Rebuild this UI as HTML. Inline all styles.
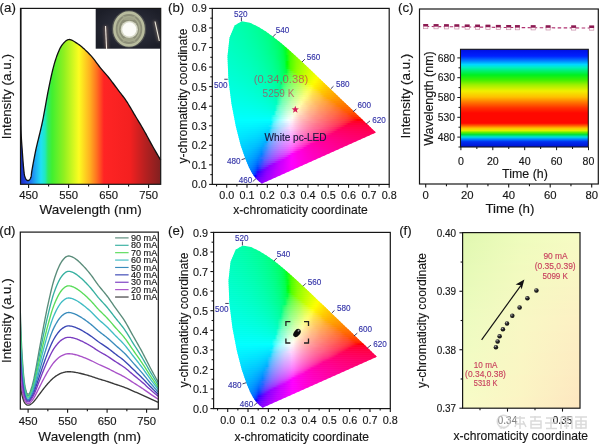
<!DOCTYPE html>
<html><head><meta charset="utf-8"><title>figure</title>
<style>html,body{margin:0;padding:0;background:#fff;width:600px;height:446px;overflow:hidden}svg{display:block;will-change:transform}text{font-family:"Liberation Sans",sans-serif}</style>
</head><body>
<svg width="600" height="446" viewBox="0 0 600 446" font-family="'Liberation Sans', sans-serif"><defs><linearGradient id="gA" x1="20.5" x2="160.7" y1="0" y2="0" gradientUnits="userSpaceOnUse">
<stop offset="0" stop-color="#1830b8"/><stop offset="0.032" stop-color="#2040e0"/><stop offset="0.068" stop-color="#2070f0"/>
<stop offset="0.11" stop-color="#20b0f4"/><stop offset="0.146" stop-color="#20e0f4"/><stop offset="0.175" stop-color="#20e8c0"/>
<stop offset="0.196" stop-color="#30ec60"/><stop offset="0.225" stop-color="#40f030"/><stop offset="0.31" stop-color="#90f020"/>
<stop offset="0.417" stop-color="#fcfc20"/><stop offset="0.495" stop-color="#ffb020"/><stop offset="0.545" stop-color="#ff7020"/>
<stop offset="0.595" stop-color="#ff2424"/><stop offset="0.78" stop-color="#f42020"/><stop offset="0.886" stop-color="#b82020"/>
<stop offset="1" stop-color="#802020"/></linearGradient>
<filter id="blr1" x="-20%" y="-20%" width="140%" height="140%"><feGaussianBlur stdDeviation="0.7"/></filter>
<filter id="blr2" x="-50%" y="-50%" width="200%" height="200%"><feGaussianBlur stdDeviation="1.6"/></filter>
<radialGradient id="gBg" cx="0.52" cy="0.5" r="0.6"><stop offset="0" stop-color="#3a3c46"/><stop offset="0.5" stop-color="#282a36"/><stop offset="1" stop-color="#1c1e28"/></radialGradient>
<clipPath id="clipD"><rect x="20.3" y="232" width="138" height="177"/></clipPath>
<clipPath id="cieclip"><path d="M262.06,183.42 L261.9,183.46 L261.52,183.4 L261.01,183.05 L260.09,182.27 L258.51,180.94 L257.37,179.96 L255.95,178.59 L254.22,176.6 L251.91,173.1 L248.96,167.43 L245.25,158.45 L240.65,145.15 L235.92,126.71 L231.47,103.69 L228.37,79.11 L227.49,56.35 L229.52,37.69 L234.6,25.61 L241.79,21.35 L249.9,22.83 L258.12,26.8 L265.88,31.55 L273.34,36.89 L280.69,42.76 L287.96,49.02 L295.21,55.55 L302.49,62.28 L309.72,69.1 L316.91,75.93 L323.96,82.67 L330.8,89.24 L337.36,95.54 L343.54,101.45 L349.16,106.86 L354.06,111.56 L358.37,115.68 L361.94,119.08 L364.85,121.88 L367.16,124.11 L370.49,127.3 L372.75,129.47 L374.17,130.82 L374.98,131.6 L375.67,132.26 L375.94,132.52 Z"/></clipPath>
<linearGradient id="r0" x1="232" x2="261" y1="0" y2="0" gradientUnits="userSpaceOnUse"><stop offset="0" stop-color="#00ffb2"/><stop offset="0.11" stop-color="#00ffaf"/><stop offset="0.22" stop-color="#00ffac"/><stop offset="0.33" stop-color="#00ffa9"/><stop offset="0.44" stop-color="#00ffa5"/><stop offset="0.56" stop-color="#00ffa2"/><stop offset="0.67" stop-color="#00ff9d"/><stop offset="0.78" stop-color="#00ff99"/><stop offset="0.89" stop-color="#00ff93"/><stop offset="1" stop-color="#00ff8e"/></linearGradient>
<linearGradient id="r1" x1="232" x2="261" y1="0" y2="0" gradientUnits="userSpaceOnUse"><stop offset="0" stop-color="#00ffb3"/><stop offset="0.11" stop-color="#00ffb0"/><stop offset="0.22" stop-color="#00ffad"/><stop offset="0.33" stop-color="#00ffaa"/><stop offset="0.44" stop-color="#00ffa7"/><stop offset="0.56" stop-color="#00ffa3"/><stop offset="0.67" stop-color="#00ff9e"/><stop offset="0.78" stop-color="#00ff9a"/><stop offset="0.89" stop-color="#00ff95"/><stop offset="1" stop-color="#00ff8f"/></linearGradient>
<linearGradient id="r2" x1="227" x2="268" y1="0" y2="0" gradientUnits="userSpaceOnUse"><stop offset="0" stop-color="#00ffb8"/><stop offset="0.08" stop-color="#00ffb5"/><stop offset="0.15" stop-color="#00ffb3"/><stop offset="0.23" stop-color="#00ffb0"/><stop offset="0.31" stop-color="#00ffad"/><stop offset="0.38" stop-color="#00ffaa"/><stop offset="0.46" stop-color="#00ffa6"/><stop offset="0.54" stop-color="#00ffa3"/><stop offset="0.62" stop-color="#00ff9e"/><stop offset="0.69" stop-color="#00ff9a"/><stop offset="0.77" stop-color="#00ff94"/><stop offset="0.85" stop-color="#00ff8f"/><stop offset="0.92" stop-color="#00ff88"/><stop offset="1" stop-color="#00ff80"/></linearGradient>
<linearGradient id="r3" x1="227" x2="268" y1="0" y2="0" gradientUnits="userSpaceOnUse"><stop offset="0" stop-color="#00ffb9"/><stop offset="0.08" stop-color="#00ffb6"/><stop offset="0.15" stop-color="#00ffb4"/><stop offset="0.23" stop-color="#00ffb1"/><stop offset="0.31" stop-color="#00ffae"/><stop offset="0.38" stop-color="#00ffab"/><stop offset="0.46" stop-color="#00ffa8"/><stop offset="0.54" stop-color="#00ffa4"/><stop offset="0.62" stop-color="#00ff9f"/><stop offset="0.69" stop-color="#00ff9b"/><stop offset="0.77" stop-color="#00ff96"/><stop offset="0.85" stop-color="#00ff90"/><stop offset="0.92" stop-color="#00ff89"/><stop offset="1" stop-color="#00ff81"/></linearGradient>
<linearGradient id="r4" x1="227" x2="268" y1="0" y2="0" gradientUnits="userSpaceOnUse"><stop offset="0" stop-color="#00ffba"/><stop offset="0.08" stop-color="#00ffb7"/><stop offset="0.15" stop-color="#00ffb5"/><stop offset="0.23" stop-color="#00ffb2"/><stop offset="0.31" stop-color="#00ffaf"/><stop offset="0.38" stop-color="#00ffac"/><stop offset="0.46" stop-color="#00ffa9"/><stop offset="0.54" stop-color="#00ffa5"/><stop offset="0.62" stop-color="#00ffa1"/><stop offset="0.69" stop-color="#00ff9c"/><stop offset="0.77" stop-color="#00ff97"/><stop offset="0.85" stop-color="#00ff91"/><stop offset="0.92" stop-color="#00ff8a"/><stop offset="1" stop-color="#00ff83"/></linearGradient>
<linearGradient id="r5" x1="227" x2="276" y1="0" y2="0" gradientUnits="userSpaceOnUse"><stop offset="0" stop-color="#00ffbb"/><stop offset="0.06" stop-color="#00ffb9"/><stop offset="0.12" stop-color="#00ffb6"/><stop offset="0.19" stop-color="#00ffb4"/><stop offset="0.25" stop-color="#00ffb1"/><stop offset="0.31" stop-color="#00ffae"/><stop offset="0.38" stop-color="#00ffaa"/><stop offset="0.44" stop-color="#00ffa7"/><stop offset="0.5" stop-color="#00ffa3"/><stop offset="0.56" stop-color="#00ff9e"/><stop offset="0.62" stop-color="#00ff9a"/><stop offset="0.69" stop-color="#00ff94"/><stop offset="0.75" stop-color="#00ff8e"/><stop offset="0.81" stop-color="#00ff87"/><stop offset="0.88" stop-color="#00ff7f"/><stop offset="0.94" stop-color="#00ff75"/><stop offset="1" stop-color="#00ff69"/></linearGradient>
<linearGradient id="r6" x1="227" x2="276" y1="0" y2="0" gradientUnits="userSpaceOnUse"><stop offset="0" stop-color="#00ffbc"/><stop offset="0.06" stop-color="#00ffba"/><stop offset="0.12" stop-color="#00ffb7"/><stop offset="0.19" stop-color="#00ffb5"/><stop offset="0.25" stop-color="#00ffb2"/><stop offset="0.31" stop-color="#00ffaf"/><stop offset="0.38" stop-color="#00ffac"/><stop offset="0.44" stop-color="#00ffa8"/><stop offset="0.5" stop-color="#00ffa4"/><stop offset="0.56" stop-color="#00ffa0"/><stop offset="0.62" stop-color="#00ff9b"/><stop offset="0.69" stop-color="#00ff95"/><stop offset="0.75" stop-color="#00ff8f"/><stop offset="0.81" stop-color="#00ff88"/><stop offset="0.88" stop-color="#00ff80"/><stop offset="0.94" stop-color="#00ff77"/><stop offset="1" stop-color="#00ff6b"/></linearGradient>
<linearGradient id="r7" x1="227" x2="283" y1="0" y2="0" gradientUnits="userSpaceOnUse"><stop offset="0" stop-color="#00ffbd"/><stop offset="0.06" stop-color="#00ffbb"/><stop offset="0.11" stop-color="#00ffb8"/><stop offset="0.17" stop-color="#00ffb6"/><stop offset="0.22" stop-color="#00ffb3"/><stop offset="0.28" stop-color="#00ffb0"/><stop offset="0.33" stop-color="#00ffac"/><stop offset="0.39" stop-color="#00ffa9"/><stop offset="0.44" stop-color="#00ffa5"/><stop offset="0.5" stop-color="#00ffa0"/><stop offset="0.56" stop-color="#00ff9b"/><stop offset="0.61" stop-color="#00ff96"/><stop offset="0.67" stop-color="#00ff8f"/><stop offset="0.72" stop-color="#00ff88"/><stop offset="0.78" stop-color="#00ff80"/><stop offset="0.83" stop-color="#00ff75"/><stop offset="0.89" stop-color="#00ff69"/><stop offset="0.94" stop-color="#00ff58"/><stop offset="1" stop-color="#00ff40"/></linearGradient>
<linearGradient id="r8" x1="226" x2="283" y1="0" y2="0" gradientUnits="userSpaceOnUse"><stop offset="0" stop-color="#00ffbf"/><stop offset="0.05" stop-color="#00ffbd"/><stop offset="0.11" stop-color="#00ffba"/><stop offset="0.16" stop-color="#00ffb8"/><stop offset="0.21" stop-color="#00ffb5"/><stop offset="0.26" stop-color="#00ffb2"/><stop offset="0.32" stop-color="#00ffaf"/><stop offset="0.37" stop-color="#00ffac"/><stop offset="0.42" stop-color="#00ffa8"/><stop offset="0.47" stop-color="#00ffa4"/><stop offset="0.53" stop-color="#00ffa0"/><stop offset="0.58" stop-color="#00ff9b"/><stop offset="0.63" stop-color="#00ff96"/><stop offset="0.68" stop-color="#00ff8f"/><stop offset="0.74" stop-color="#00ff88"/><stop offset="0.79" stop-color="#00ff80"/><stop offset="0.84" stop-color="#00ff76"/><stop offset="0.89" stop-color="#00ff69"/><stop offset="0.95" stop-color="#00ff59"/><stop offset="1" stop-color="#00ff42"/></linearGradient>
<linearGradient id="r9" x1="226" x2="283" y1="0" y2="0" gradientUnits="userSpaceOnUse"><stop offset="0" stop-color="#00ffc0"/><stop offset="0.05" stop-color="#00ffbe"/><stop offset="0.11" stop-color="#00ffbb"/><stop offset="0.16" stop-color="#00ffb9"/><stop offset="0.21" stop-color="#00ffb6"/><stop offset="0.26" stop-color="#00ffb4"/><stop offset="0.32" stop-color="#00ffb1"/><stop offset="0.37" stop-color="#00ffad"/><stop offset="0.42" stop-color="#00ffaa"/><stop offset="0.47" stop-color="#00ffa6"/><stop offset="0.53" stop-color="#00ffa1"/><stop offset="0.58" stop-color="#00ff9c"/><stop offset="0.63" stop-color="#00ff97"/><stop offset="0.68" stop-color="#00ff91"/><stop offset="0.74" stop-color="#00ff89"/><stop offset="0.79" stop-color="#00ff81"/><stop offset="0.84" stop-color="#00ff77"/><stop offset="0.89" stop-color="#00ff6b"/><stop offset="0.95" stop-color="#00ff5b"/><stop offset="1" stop-color="#00ff44"/></linearGradient>
<linearGradient id="r10" x1="226" x2="290" y1="0" y2="0" gradientUnits="userSpaceOnUse"><stop offset="0" stop-color="#00ffc1"/><stop offset="0.05" stop-color="#00ffbf"/><stop offset="0.1" stop-color="#00ffbd"/><stop offset="0.14" stop-color="#00ffba"/><stop offset="0.19" stop-color="#00ffb7"/><stop offset="0.24" stop-color="#00ffb5"/><stop offset="0.29" stop-color="#00ffb2"/><stop offset="0.33" stop-color="#00ffae"/><stop offset="0.38" stop-color="#00ffab"/><stop offset="0.43" stop-color="#00ffa6"/><stop offset="0.48" stop-color="#00ffa2"/><stop offset="0.52" stop-color="#00ff9d"/><stop offset="0.57" stop-color="#00ff97"/><stop offset="0.62" stop-color="#00ff91"/><stop offset="0.67" stop-color="#00ff89"/><stop offset="0.71" stop-color="#00ff80"/><stop offset="0.76" stop-color="#00ff76"/><stop offset="0.81" stop-color="#00ff68"/><stop offset="0.86" stop-color="#00ff57"/><stop offset="0.9" stop-color="#00ff3c"/><stop offset="0.95" stop-color="#1aff00"/><stop offset="1" stop-color="#4aff00"/></linearGradient>
<linearGradient id="r11" x1="226" x2="290" y1="0" y2="0" gradientUnits="userSpaceOnUse"><stop offset="0" stop-color="#00ffc2"/><stop offset="0.05" stop-color="#00ffc0"/><stop offset="0.1" stop-color="#00ffbe"/><stop offset="0.14" stop-color="#00ffbb"/><stop offset="0.19" stop-color="#00ffb9"/><stop offset="0.24" stop-color="#00ffb6"/><stop offset="0.29" stop-color="#00ffb3"/><stop offset="0.33" stop-color="#00ffaf"/><stop offset="0.38" stop-color="#00ffac"/><stop offset="0.43" stop-color="#00ffa8"/><stop offset="0.48" stop-color="#00ffa3"/><stop offset="0.52" stop-color="#00ff9e"/><stop offset="0.57" stop-color="#00ff99"/><stop offset="0.62" stop-color="#00ff92"/><stop offset="0.67" stop-color="#00ff8b"/><stop offset="0.71" stop-color="#00ff82"/><stop offset="0.76" stop-color="#00ff77"/><stop offset="0.81" stop-color="#00ff6a"/><stop offset="0.86" stop-color="#00ff59"/><stop offset="0.9" stop-color="#00ff3e"/><stop offset="0.95" stop-color="#17ff00"/><stop offset="1" stop-color="#4aff00"/></linearGradient>
<linearGradient id="r12" x1="226" x2="290" y1="0" y2="0" gradientUnits="userSpaceOnUse"><stop offset="0" stop-color="#00ffc3"/><stop offset="0.05" stop-color="#00ffc1"/><stop offset="0.1" stop-color="#00ffbf"/><stop offset="0.14" stop-color="#00ffbc"/><stop offset="0.19" stop-color="#00ffba"/><stop offset="0.24" stop-color="#00ffb7"/><stop offset="0.29" stop-color="#00ffb4"/><stop offset="0.33" stop-color="#00ffb1"/><stop offset="0.38" stop-color="#00ffad"/><stop offset="0.43" stop-color="#00ffa9"/><stop offset="0.48" stop-color="#00ffa5"/><stop offset="0.52" stop-color="#00ffa0"/><stop offset="0.57" stop-color="#00ff9a"/><stop offset="0.62" stop-color="#00ff94"/><stop offset="0.67" stop-color="#00ff8c"/><stop offset="0.71" stop-color="#00ff83"/><stop offset="0.76" stop-color="#00ff79"/><stop offset="0.81" stop-color="#00ff6c"/><stop offset="0.86" stop-color="#00ff5a"/><stop offset="0.9" stop-color="#00ff40"/><stop offset="0.95" stop-color="#14ff00"/><stop offset="1" stop-color="#49ff00"/></linearGradient>
<linearGradient id="r13" x1="226" x2="290" y1="0" y2="0" gradientUnits="userSpaceOnUse"><stop offset="0" stop-color="#00ffc4"/><stop offset="0.05" stop-color="#00ffc2"/><stop offset="0.1" stop-color="#00ffc0"/><stop offset="0.14" stop-color="#00ffbe"/><stop offset="0.19" stop-color="#00ffbb"/><stop offset="0.24" stop-color="#00ffb8"/><stop offset="0.29" stop-color="#00ffb5"/><stop offset="0.33" stop-color="#00ffb2"/><stop offset="0.38" stop-color="#00ffaf"/><stop offset="0.43" stop-color="#00ffab"/><stop offset="0.48" stop-color="#00ffa6"/><stop offset="0.52" stop-color="#00ffa1"/><stop offset="0.57" stop-color="#00ff9c"/><stop offset="0.62" stop-color="#00ff95"/><stop offset="0.67" stop-color="#00ff8e"/><stop offset="0.71" stop-color="#00ff85"/><stop offset="0.76" stop-color="#00ff7a"/><stop offset="0.81" stop-color="#00ff6d"/><stop offset="0.86" stop-color="#00ff5c"/><stop offset="0.9" stop-color="#00ff42"/><stop offset="0.95" stop-color="#10ff00"/><stop offset="1" stop-color="#49ff00"/></linearGradient>
<linearGradient id="r14" x1="226" x2="298" y1="0" y2="0" gradientUnits="userSpaceOnUse"><stop offset="0" stop-color="#00ffc5"/><stop offset="0.04" stop-color="#00ffc3"/><stop offset="0.08" stop-color="#00ffc1"/><stop offset="0.12" stop-color="#00ffbf"/><stop offset="0.17" stop-color="#00ffbd"/><stop offset="0.21" stop-color="#00ffba"/><stop offset="0.25" stop-color="#00ffb7"/><stop offset="0.29" stop-color="#00ffb4"/><stop offset="0.33" stop-color="#00ffb0"/><stop offset="0.38" stop-color="#00ffad"/><stop offset="0.42" stop-color="#00ffa8"/><stop offset="0.46" stop-color="#00ffa4"/><stop offset="0.5" stop-color="#00ff9e"/><stop offset="0.54" stop-color="#00ff98"/><stop offset="0.58" stop-color="#00ff91"/><stop offset="0.62" stop-color="#00ff89"/><stop offset="0.67" stop-color="#00ff7f"/><stop offset="0.71" stop-color="#00ff73"/><stop offset="0.75" stop-color="#00ff63"/><stop offset="0.79" stop-color="#00ff4d"/><stop offset="0.83" stop-color="#00ff23"/><stop offset="0.88" stop-color="#3dff00"/><stop offset="0.92" stop-color="#5dff00"/><stop offset="0.96" stop-color="#73ff00"/><stop offset="1" stop-color="#85ff00"/></linearGradient>
<linearGradient id="r15" x1="226" x2="298" y1="0" y2="0" gradientUnits="userSpaceOnUse"><stop offset="0" stop-color="#00ffc7"/><stop offset="0.04" stop-color="#00ffc5"/><stop offset="0.08" stop-color="#00ffc3"/><stop offset="0.12" stop-color="#00ffc0"/><stop offset="0.17" stop-color="#00ffbe"/><stop offset="0.21" stop-color="#00ffbb"/><stop offset="0.25" stop-color="#00ffb8"/><stop offset="0.29" stop-color="#00ffb5"/><stop offset="0.33" stop-color="#00ffb2"/><stop offset="0.38" stop-color="#00ffae"/><stop offset="0.42" stop-color="#00ffaa"/><stop offset="0.46" stop-color="#00ffa5"/><stop offset="0.5" stop-color="#00ffa0"/><stop offset="0.54" stop-color="#00ff9a"/><stop offset="0.58" stop-color="#00ff93"/><stop offset="0.62" stop-color="#00ff8a"/><stop offset="0.67" stop-color="#00ff81"/><stop offset="0.71" stop-color="#00ff75"/><stop offset="0.75" stop-color="#00ff65"/><stop offset="0.79" stop-color="#00ff4f"/><stop offset="0.83" stop-color="#00ff26"/><stop offset="0.88" stop-color="#3cff00"/><stop offset="0.92" stop-color="#5dff00"/><stop offset="0.96" stop-color="#74ff00"/><stop offset="1" stop-color="#87ff00"/></linearGradient>
<linearGradient id="r16" x1="226" x2="298" y1="0" y2="0" gradientUnits="userSpaceOnUse"><stop offset="0" stop-color="#00ffc8"/><stop offset="0.04" stop-color="#00ffc6"/><stop offset="0.08" stop-color="#00ffc4"/><stop offset="0.12" stop-color="#00ffc2"/><stop offset="0.17" stop-color="#00ffbf"/><stop offset="0.21" stop-color="#00ffbd"/><stop offset="0.25" stop-color="#00ffba"/><stop offset="0.29" stop-color="#00ffb7"/><stop offset="0.33" stop-color="#00ffb3"/><stop offset="0.38" stop-color="#00ffaf"/><stop offset="0.42" stop-color="#00ffab"/><stop offset="0.46" stop-color="#00ffa7"/><stop offset="0.5" stop-color="#00ffa1"/><stop offset="0.54" stop-color="#00ff9b"/><stop offset="0.58" stop-color="#00ff94"/><stop offset="0.62" stop-color="#00ff8c"/><stop offset="0.67" stop-color="#00ff82"/><stop offset="0.71" stop-color="#00ff76"/><stop offset="0.75" stop-color="#00ff67"/><stop offset="0.79" stop-color="#00ff51"/><stop offset="0.83" stop-color="#00ff29"/><stop offset="0.88" stop-color="#3cff00"/><stop offset="0.92" stop-color="#5eff00"/><stop offset="0.96" stop-color="#75ff00"/><stop offset="1" stop-color="#88ff00"/></linearGradient>
<linearGradient id="r17" x1="226" x2="305" y1="0" y2="0" gradientUnits="userSpaceOnUse"><stop offset="0" stop-color="#00ffc9"/><stop offset="0.04" stop-color="#00ffc7"/><stop offset="0.08" stop-color="#00ffc5"/><stop offset="0.12" stop-color="#00ffc3"/><stop offset="0.15" stop-color="#00ffc0"/><stop offset="0.19" stop-color="#00ffbe"/><stop offset="0.23" stop-color="#00ffbb"/><stop offset="0.27" stop-color="#00ffb8"/><stop offset="0.31" stop-color="#00ffb4"/><stop offset="0.35" stop-color="#00ffb0"/><stop offset="0.38" stop-color="#00ffac"/><stop offset="0.42" stop-color="#00ffa7"/><stop offset="0.46" stop-color="#00ffa2"/><stop offset="0.5" stop-color="#00ff9c"/><stop offset="0.54" stop-color="#00ff95"/><stop offset="0.58" stop-color="#00ff8c"/><stop offset="0.62" stop-color="#00ff82"/><stop offset="0.65" stop-color="#00ff75"/><stop offset="0.69" stop-color="#00ff64"/><stop offset="0.73" stop-color="#00ff4c"/><stop offset="0.77" stop-color="#00ff15"/><stop offset="0.81" stop-color="#47ff00"/><stop offset="0.85" stop-color="#66ff00"/><stop offset="0.88" stop-color="#7cff00"/><stop offset="0.92" stop-color="#8eff00"/><stop offset="0.96" stop-color="#9eff00"/><stop offset="1" stop-color="#acff00"/></linearGradient>
<linearGradient id="r18" x1="226" x2="305" y1="0" y2="0" gradientUnits="userSpaceOnUse"><stop offset="0" stop-color="#00ffca"/><stop offset="0.04" stop-color="#00ffc8"/><stop offset="0.08" stop-color="#00ffc6"/><stop offset="0.12" stop-color="#00ffc4"/><stop offset="0.15" stop-color="#00ffc2"/><stop offset="0.19" stop-color="#00ffbf"/><stop offset="0.23" stop-color="#00ffbc"/><stop offset="0.27" stop-color="#00ffb9"/><stop offset="0.31" stop-color="#00ffb6"/><stop offset="0.35" stop-color="#00ffb2"/><stop offset="0.38" stop-color="#00ffae"/><stop offset="0.42" stop-color="#00ffa9"/><stop offset="0.46" stop-color="#00ffa4"/><stop offset="0.5" stop-color="#00ff9e"/><stop offset="0.54" stop-color="#00ff96"/><stop offset="0.58" stop-color="#00ff8e"/><stop offset="0.62" stop-color="#00ff84"/><stop offset="0.65" stop-color="#00ff77"/><stop offset="0.69" stop-color="#00ff66"/><stop offset="0.73" stop-color="#00ff4e"/><stop offset="0.77" stop-color="#00ff1a"/><stop offset="0.81" stop-color="#46ff00"/><stop offset="0.85" stop-color="#66ff00"/><stop offset="0.88" stop-color="#7dff00"/><stop offset="0.92" stop-color="#90ff00"/><stop offset="0.96" stop-color="#a0ff00"/><stop offset="1" stop-color="#aeff00"/></linearGradient>
<linearGradient id="r19" x1="226" x2="305" y1="0" y2="0" gradientUnits="userSpaceOnUse"><stop offset="0" stop-color="#00ffcb"/><stop offset="0.04" stop-color="#00ffca"/><stop offset="0.08" stop-color="#00ffc8"/><stop offset="0.12" stop-color="#00ffc5"/><stop offset="0.15" stop-color="#00ffc3"/><stop offset="0.19" stop-color="#00ffc1"/><stop offset="0.23" stop-color="#00ffbe"/><stop offset="0.27" stop-color="#00ffbb"/><stop offset="0.31" stop-color="#00ffb7"/><stop offset="0.35" stop-color="#00ffb4"/><stop offset="0.38" stop-color="#00ffaf"/><stop offset="0.42" stop-color="#00ffab"/><stop offset="0.46" stop-color="#00ffa5"/><stop offset="0.5" stop-color="#00ff9f"/><stop offset="0.54" stop-color="#00ff98"/><stop offset="0.58" stop-color="#00ff90"/><stop offset="0.62" stop-color="#00ff86"/><stop offset="0.65" stop-color="#00ff79"/><stop offset="0.69" stop-color="#00ff68"/><stop offset="0.73" stop-color="#00ff50"/><stop offset="0.77" stop-color="#00ff1e"/><stop offset="0.81" stop-color="#46ff00"/><stop offset="0.85" stop-color="#67ff00"/><stop offset="0.88" stop-color="#7fff00"/><stop offset="0.92" stop-color="#92ff00"/><stop offset="0.96" stop-color="#a2ff00"/><stop offset="1" stop-color="#b0ff00"/></linearGradient>
<linearGradient id="r20" x1="226" x2="312" y1="0" y2="0" gradientUnits="userSpaceOnUse"><stop offset="0" stop-color="#00ffcd"/><stop offset="0.04" stop-color="#00ffcb"/><stop offset="0.07" stop-color="#00ffc9"/><stop offset="0.11" stop-color="#00ffc7"/><stop offset="0.14" stop-color="#00ffc4"/><stop offset="0.18" stop-color="#00ffc2"/><stop offset="0.21" stop-color="#00ffbf"/><stop offset="0.25" stop-color="#00ffbc"/><stop offset="0.29" stop-color="#00ffb9"/><stop offset="0.32" stop-color="#00ffb5"/><stop offset="0.36" stop-color="#00ffb1"/><stop offset="0.39" stop-color="#00ffac"/><stop offset="0.43" stop-color="#00ffa6"/><stop offset="0.46" stop-color="#00ffa0"/><stop offset="0.5" stop-color="#00ff99"/><stop offset="0.54" stop-color="#00ff90"/><stop offset="0.57" stop-color="#00ff86"/><stop offset="0.61" stop-color="#00ff78"/><stop offset="0.64" stop-color="#00ff66"/><stop offset="0.68" stop-color="#00ff4c"/><stop offset="0.71" stop-color="#03ff00"/><stop offset="0.75" stop-color="#4fff00"/><stop offset="0.79" stop-color="#6eff00"/><stop offset="0.82" stop-color="#85ff00"/><stop offset="0.86" stop-color="#98ff00"/><stop offset="0.89" stop-color="#a8ff00"/><stop offset="0.93" stop-color="#b6ff00"/><stop offset="0.96" stop-color="#c3ff00"/><stop offset="1" stop-color="#cfff00"/></linearGradient>
<linearGradient id="r21" x1="226" x2="312" y1="0" y2="0" gradientUnits="userSpaceOnUse"><stop offset="0" stop-color="#00ffce"/><stop offset="0.04" stop-color="#00ffcc"/><stop offset="0.07" stop-color="#00ffca"/><stop offset="0.11" stop-color="#00ffc8"/><stop offset="0.14" stop-color="#00ffc6"/><stop offset="0.18" stop-color="#00ffc3"/><stop offset="0.21" stop-color="#00ffc1"/><stop offset="0.25" stop-color="#00ffbe"/><stop offset="0.29" stop-color="#00ffba"/><stop offset="0.32" stop-color="#00ffb6"/><stop offset="0.36" stop-color="#00ffb2"/><stop offset="0.39" stop-color="#00ffae"/><stop offset="0.43" stop-color="#00ffa8"/><stop offset="0.46" stop-color="#00ffa2"/><stop offset="0.5" stop-color="#00ff9b"/><stop offset="0.54" stop-color="#00ff92"/><stop offset="0.57" stop-color="#00ff88"/><stop offset="0.61" stop-color="#00ff7a"/><stop offset="0.64" stop-color="#00ff69"/><stop offset="0.68" stop-color="#00ff4e"/><stop offset="0.71" stop-color="#00ff05"/><stop offset="0.75" stop-color="#50ff00"/><stop offset="0.79" stop-color="#6fff00"/><stop offset="0.82" stop-color="#87ff00"/><stop offset="0.86" stop-color="#9aff00"/><stop offset="0.89" stop-color="#aaff00"/><stop offset="0.93" stop-color="#b9ff00"/><stop offset="0.96" stop-color="#c6ff00"/><stop offset="1" stop-color="#d2ff00"/></linearGradient>
<linearGradient id="r22" x1="226" x2="312" y1="0" y2="0" gradientUnits="userSpaceOnUse"><stop offset="0" stop-color="#00ffcf"/><stop offset="0.04" stop-color="#00ffce"/><stop offset="0.07" stop-color="#00ffcc"/><stop offset="0.11" stop-color="#00ffca"/><stop offset="0.14" stop-color="#00ffc7"/><stop offset="0.18" stop-color="#00ffc5"/><stop offset="0.21" stop-color="#00ffc2"/><stop offset="0.25" stop-color="#00ffbf"/><stop offset="0.29" stop-color="#00ffbc"/><stop offset="0.32" stop-color="#00ffb8"/><stop offset="0.36" stop-color="#00ffb4"/><stop offset="0.39" stop-color="#00ffaf"/><stop offset="0.43" stop-color="#00ffaa"/><stop offset="0.46" stop-color="#00ffa4"/><stop offset="0.5" stop-color="#00ff9d"/><stop offset="0.54" stop-color="#00ff94"/><stop offset="0.57" stop-color="#00ff8a"/><stop offset="0.61" stop-color="#00ff7d"/><stop offset="0.64" stop-color="#00ff6b"/><stop offset="0.68" stop-color="#00ff50"/><stop offset="0.71" stop-color="#00ff0e"/><stop offset="0.75" stop-color="#50ff00"/><stop offset="0.79" stop-color="#70ff00"/><stop offset="0.82" stop-color="#88ff00"/><stop offset="0.86" stop-color="#9cff00"/><stop offset="0.89" stop-color="#acff00"/><stop offset="0.93" stop-color="#bbff00"/><stop offset="0.96" stop-color="#c9ff00"/><stop offset="1" stop-color="#d5ff00"/></linearGradient>
<linearGradient id="r23" x1="226" x2="312" y1="0" y2="0" gradientUnits="userSpaceOnUse"><stop offset="0" stop-color="#00ffd1"/><stop offset="0.04" stop-color="#00ffcf"/><stop offset="0.07" stop-color="#00ffcd"/><stop offset="0.11" stop-color="#00ffcb"/><stop offset="0.14" stop-color="#00ffc9"/><stop offset="0.18" stop-color="#00ffc6"/><stop offset="0.21" stop-color="#00ffc4"/><stop offset="0.25" stop-color="#00ffc1"/><stop offset="0.29" stop-color="#00ffbe"/><stop offset="0.32" stop-color="#00ffba"/><stop offset="0.36" stop-color="#00ffb6"/><stop offset="0.39" stop-color="#00ffb1"/><stop offset="0.43" stop-color="#00ffac"/><stop offset="0.46" stop-color="#00ffa6"/><stop offset="0.5" stop-color="#00ff9f"/><stop offset="0.54" stop-color="#00ff96"/><stop offset="0.57" stop-color="#00ff8c"/><stop offset="0.61" stop-color="#00ff7f"/><stop offset="0.64" stop-color="#00ff6d"/><stop offset="0.68" stop-color="#00ff53"/><stop offset="0.71" stop-color="#04ff17"/><stop offset="0.75" stop-color="#50ff00"/><stop offset="0.79" stop-color="#72ff00"/><stop offset="0.82" stop-color="#8aff00"/><stop offset="0.86" stop-color="#9eff00"/><stop offset="0.89" stop-color="#afff00"/><stop offset="0.93" stop-color="#beff00"/><stop offset="0.96" stop-color="#ccff00"/><stop offset="1" stop-color="#d8ff00"/></linearGradient>
<linearGradient id="r24" x1="226" x2="319" y1="0" y2="0" gradientUnits="userSpaceOnUse"><stop offset="0" stop-color="#00ffd2"/><stop offset="0.03" stop-color="#00ffd0"/><stop offset="0.06" stop-color="#00ffcf"/><stop offset="0.1" stop-color="#00ffcd"/><stop offset="0.13" stop-color="#00ffca"/><stop offset="0.16" stop-color="#00ffc8"/><stop offset="0.19" stop-color="#00ffc6"/><stop offset="0.23" stop-color="#00ffc3"/><stop offset="0.26" stop-color="#00ffc0"/><stop offset="0.29" stop-color="#00ffbc"/><stop offset="0.32" stop-color="#00ffb9"/><stop offset="0.35" stop-color="#00ffb4"/><stop offset="0.39" stop-color="#00ffaf"/><stop offset="0.42" stop-color="#00ffaa"/><stop offset="0.45" stop-color="#00ffa3"/><stop offset="0.48" stop-color="#00ff9c"/><stop offset="0.52" stop-color="#00ff92"/><stop offset="0.55" stop-color="#00ff87"/><stop offset="0.58" stop-color="#00ff78"/><stop offset="0.61" stop-color="#00ff62"/><stop offset="0.65" stop-color="#00ff3f"/><stop offset="0.68" stop-color="#40ff21"/><stop offset="0.71" stop-color="#63ff00"/><stop offset="0.74" stop-color="#7fff00"/><stop offset="0.77" stop-color="#95ff00"/><stop offset="0.81" stop-color="#a8ff00"/><stop offset="0.84" stop-color="#b8ff00"/><stop offset="0.87" stop-color="#c6ff00"/><stop offset="0.9" stop-color="#d4ff00"/><stop offset="0.94" stop-color="#e0ff00"/><stop offset="0.97" stop-color="#ebff00"/><stop offset="1" stop-color="#f6ff00"/></linearGradient>
<linearGradient id="r25" x1="226" x2="319" y1="0" y2="0" gradientUnits="userSpaceOnUse"><stop offset="0" stop-color="#00ffd3"/><stop offset="0.03" stop-color="#00ffd2"/><stop offset="0.06" stop-color="#00ffd0"/><stop offset="0.1" stop-color="#00ffce"/><stop offset="0.13" stop-color="#00ffcc"/><stop offset="0.16" stop-color="#00ffca"/><stop offset="0.19" stop-color="#00ffc7"/><stop offset="0.23" stop-color="#00ffc5"/><stop offset="0.26" stop-color="#00ffc2"/><stop offset="0.29" stop-color="#00ffbe"/><stop offset="0.32" stop-color="#00ffba"/><stop offset="0.35" stop-color="#00ffb6"/><stop offset="0.39" stop-color="#00ffb1"/><stop offset="0.42" stop-color="#00ffac"/><stop offset="0.45" stop-color="#00ffa5"/><stop offset="0.48" stop-color="#00ff9e"/><stop offset="0.52" stop-color="#00ff95"/><stop offset="0.55" stop-color="#00ff89"/><stop offset="0.58" stop-color="#00ff7a"/><stop offset="0.61" stop-color="#00ff65"/><stop offset="0.65" stop-color="#00ff42"/><stop offset="0.68" stop-color="#48ff32"/><stop offset="0.71" stop-color="#68ff1f"/><stop offset="0.74" stop-color="#81ff00"/><stop offset="0.77" stop-color="#97ff00"/><stop offset="0.81" stop-color="#aaff00"/><stop offset="0.84" stop-color="#bbff00"/><stop offset="0.87" stop-color="#c9ff00"/><stop offset="0.9" stop-color="#d7ff00"/><stop offset="0.94" stop-color="#e3ff00"/><stop offset="0.97" stop-color="#efff00"/><stop offset="1" stop-color="#faff00"/></linearGradient>
<linearGradient id="r26" x1="226" x2="319" y1="0" y2="0" gradientUnits="userSpaceOnUse"><stop offset="0" stop-color="#00ffd5"/><stop offset="0.03" stop-color="#00ffd3"/><stop offset="0.06" stop-color="#00ffd1"/><stop offset="0.1" stop-color="#00ffd0"/><stop offset="0.13" stop-color="#00ffce"/><stop offset="0.16" stop-color="#00ffcb"/><stop offset="0.19" stop-color="#00ffc9"/><stop offset="0.23" stop-color="#00ffc6"/><stop offset="0.26" stop-color="#00ffc3"/><stop offset="0.29" stop-color="#00ffc0"/><stop offset="0.32" stop-color="#00ffbc"/><stop offset="0.35" stop-color="#00ffb8"/><stop offset="0.39" stop-color="#00ffb3"/><stop offset="0.42" stop-color="#00ffae"/><stop offset="0.45" stop-color="#00ffa8"/><stop offset="0.48" stop-color="#00ffa0"/><stop offset="0.52" stop-color="#00ff97"/><stop offset="0.55" stop-color="#00ff8b"/><stop offset="0.58" stop-color="#00ff7c"/><stop offset="0.61" stop-color="#00ff68"/><stop offset="0.65" stop-color="#17ff49"/><stop offset="0.68" stop-color="#50ff3f"/><stop offset="0.71" stop-color="#6eff31"/><stop offset="0.74" stop-color="#85ff1c"/><stop offset="0.77" stop-color="#9aff00"/><stop offset="0.81" stop-color="#adff00"/><stop offset="0.84" stop-color="#beff00"/><stop offset="0.87" stop-color="#cdff00"/><stop offset="0.9" stop-color="#dbff00"/><stop offset="0.94" stop-color="#e7ff00"/><stop offset="0.97" stop-color="#f3ff00"/><stop offset="1" stop-color="#feff00"/></linearGradient>
<linearGradient id="r27" x1="226" x2="326" y1="0" y2="0" gradientUnits="userSpaceOnUse"><stop offset="0" stop-color="#00ffd6"/><stop offset="0.03" stop-color="#00ffd5"/><stop offset="0.06" stop-color="#00ffd3"/><stop offset="0.09" stop-color="#00ffd1"/><stop offset="0.12" stop-color="#00ffcf"/><stop offset="0.15" stop-color="#00ffcd"/><stop offset="0.18" stop-color="#00ffcb"/><stop offset="0.21" stop-color="#00ffc8"/><stop offset="0.24" stop-color="#00ffc5"/><stop offset="0.27" stop-color="#00ffc2"/><stop offset="0.3" stop-color="#00ffbe"/><stop offset="0.33" stop-color="#00ffba"/><stop offset="0.36" stop-color="#00ffb5"/><stop offset="0.39" stop-color="#00ffaf"/><stop offset="0.42" stop-color="#00ffa9"/><stop offset="0.45" stop-color="#00ffa1"/><stop offset="0.48" stop-color="#00ff98"/><stop offset="0.52" stop-color="#00ff8c"/><stop offset="0.55" stop-color="#00ff7c"/><stop offset="0.58" stop-color="#00ff65"/><stop offset="0.61" stop-color="#36ff51"/><stop offset="0.64" stop-color="#5eff48"/><stop offset="0.67" stop-color="#79ff3c"/><stop offset="0.7" stop-color="#8fff2c"/><stop offset="0.73" stop-color="#a2ff0e"/><stop offset="0.76" stop-color="#b4ff00"/><stop offset="0.79" stop-color="#c5ff00"/><stop offset="0.82" stop-color="#d4ff00"/><stop offset="0.85" stop-color="#e2ff00"/><stop offset="0.88" stop-color="#efff00"/><stop offset="0.91" stop-color="#fbff00"/><stop offset="0.94" stop-color="#fff800"/><stop offset="0.97" stop-color="#ffee00"/><stop offset="1" stop-color="#ffe500"/></linearGradient>
<linearGradient id="r28" x1="226" x2="326" y1="0" y2="0" gradientUnits="userSpaceOnUse"><stop offset="0" stop-color="#00ffd8"/><stop offset="0.03" stop-color="#00ffd6"/><stop offset="0.06" stop-color="#00ffd5"/><stop offset="0.09" stop-color="#00ffd3"/><stop offset="0.12" stop-color="#00ffd1"/><stop offset="0.15" stop-color="#00ffcf"/><stop offset="0.18" stop-color="#00ffcc"/><stop offset="0.21" stop-color="#00ffca"/><stop offset="0.24" stop-color="#00ffc7"/><stop offset="0.27" stop-color="#00ffc4"/><stop offset="0.3" stop-color="#00ffc0"/><stop offset="0.33" stop-color="#00ffbc"/><stop offset="0.36" stop-color="#00ffb7"/><stop offset="0.39" stop-color="#00ffb2"/><stop offset="0.42" stop-color="#00ffab"/><stop offset="0.45" stop-color="#00ffa4"/><stop offset="0.48" stop-color="#00ff9a"/><stop offset="0.52" stop-color="#00ff8e"/><stop offset="0.55" stop-color="#00ff7f"/><stop offset="0.58" stop-color="#00ff68"/><stop offset="0.61" stop-color="#41ff5a"/><stop offset="0.64" stop-color="#65ff52"/><stop offset="0.67" stop-color="#7fff48"/><stop offset="0.7" stop-color="#94ff3b"/><stop offset="0.73" stop-color="#a7ff2a"/><stop offset="0.76" stop-color="#b8ff04"/><stop offset="0.79" stop-color="#c9ff00"/><stop offset="0.82" stop-color="#d8ff00"/><stop offset="0.85" stop-color="#e7ff00"/><stop offset="0.88" stop-color="#f4ff00"/><stop offset="0.91" stop-color="#fffe00"/><stop offset="0.94" stop-color="#fff300"/><stop offset="0.97" stop-color="#ffe900"/><stop offset="1" stop-color="#ffe100"/></linearGradient>
<linearGradient id="r29" x1="226" x2="326" y1="0" y2="0" gradientUnits="userSpaceOnUse"><stop offset="0" stop-color="#00ffd9"/><stop offset="0.03" stop-color="#00ffd8"/><stop offset="0.06" stop-color="#00ffd6"/><stop offset="0.09" stop-color="#00ffd4"/><stop offset="0.12" stop-color="#00ffd2"/><stop offset="0.15" stop-color="#00ffd0"/><stop offset="0.18" stop-color="#00ffce"/><stop offset="0.21" stop-color="#00ffcc"/><stop offset="0.24" stop-color="#00ffc9"/><stop offset="0.27" stop-color="#00ffc6"/><stop offset="0.3" stop-color="#00ffc2"/><stop offset="0.33" stop-color="#00ffbe"/><stop offset="0.36" stop-color="#00ffb9"/><stop offset="0.39" stop-color="#00ffb4"/><stop offset="0.42" stop-color="#00ffae"/><stop offset="0.45" stop-color="#00ffa6"/><stop offset="0.48" stop-color="#00ff9d"/><stop offset="0.52" stop-color="#00ff91"/><stop offset="0.55" stop-color="#00ff81"/><stop offset="0.58" stop-color="#00ff6b"/><stop offset="0.61" stop-color="#4aff62"/><stop offset="0.64" stop-color="#6cff5b"/><stop offset="0.67" stop-color="#85ff52"/><stop offset="0.7" stop-color="#99ff48"/><stop offset="0.73" stop-color="#acff3b"/><stop offset="0.76" stop-color="#bdff28"/><stop offset="0.79" stop-color="#cdff00"/><stop offset="0.82" stop-color="#ddff00"/><stop offset="0.85" stop-color="#ebff00"/><stop offset="0.88" stop-color="#f9ff00"/><stop offset="0.91" stop-color="#fff900"/><stop offset="0.94" stop-color="#ffee00"/><stop offset="0.97" stop-color="#ffe500"/><stop offset="1" stop-color="#ffdc00"/></linearGradient>
<linearGradient id="r30" x1="226" x2="333" y1="0" y2="0" gradientUnits="userSpaceOnUse"><stop offset="0" stop-color="#00ffdb"/><stop offset="0.03" stop-color="#00ffd9"/><stop offset="0.06" stop-color="#00ffd8"/><stop offset="0.09" stop-color="#00ffd6"/><stop offset="0.11" stop-color="#00ffd4"/><stop offset="0.14" stop-color="#00ffd2"/><stop offset="0.17" stop-color="#00ffd0"/><stop offset="0.2" stop-color="#00ffcd"/><stop offset="0.23" stop-color="#00ffcb"/><stop offset="0.26" stop-color="#00ffc7"/><stop offset="0.29" stop-color="#00ffc4"/><stop offset="0.31" stop-color="#00ffc0"/><stop offset="0.34" stop-color="#00ffbb"/><stop offset="0.37" stop-color="#00ffb6"/><stop offset="0.4" stop-color="#00ffaf"/><stop offset="0.43" stop-color="#00ffa8"/><stop offset="0.46" stop-color="#00ff9e"/><stop offset="0.49" stop-color="#00ff92"/><stop offset="0.51" stop-color="#00ff81"/><stop offset="0.54" stop-color="#26ff6f"/><stop offset="0.57" stop-color="#59ff69"/><stop offset="0.6" stop-color="#77ff62"/><stop offset="0.63" stop-color="#8eff5a"/><stop offset="0.66" stop-color="#a3ff51"/><stop offset="0.69" stop-color="#b5ff45"/><stop offset="0.71" stop-color="#c6ff36"/><stop offset="0.74" stop-color="#d5ff1f"/><stop offset="0.77" stop-color="#e5ff00"/><stop offset="0.8" stop-color="#f4ff00"/><stop offset="0.83" stop-color="#fffd00"/><stop offset="0.86" stop-color="#fff100"/><stop offset="0.89" stop-color="#ffe600"/><stop offset="0.91" stop-color="#ffdd00"/><stop offset="0.94" stop-color="#ffd500"/><stop offset="0.97" stop-color="#ffce00"/><stop offset="1" stop-color="#ffc800"/></linearGradient>
<linearGradient id="r31" x1="226" x2="333" y1="0" y2="0" gradientUnits="userSpaceOnUse"><stop offset="0" stop-color="#00ffdc"/><stop offset="0.03" stop-color="#00ffdb"/><stop offset="0.06" stop-color="#00ffd9"/><stop offset="0.09" stop-color="#00ffd8"/><stop offset="0.11" stop-color="#00ffd6"/><stop offset="0.14" stop-color="#00ffd4"/><stop offset="0.17" stop-color="#00ffd2"/><stop offset="0.2" stop-color="#00ffcf"/><stop offset="0.23" stop-color="#00ffcd"/><stop offset="0.26" stop-color="#00ffca"/><stop offset="0.29" stop-color="#00ffc6"/><stop offset="0.31" stop-color="#00ffc2"/><stop offset="0.34" stop-color="#00ffbe"/><stop offset="0.37" stop-color="#00ffb8"/><stop offset="0.4" stop-color="#00ffb2"/><stop offset="0.43" stop-color="#00ffaa"/><stop offset="0.46" stop-color="#00ffa1"/><stop offset="0.49" stop-color="#00ff95"/><stop offset="0.51" stop-color="#00ff85"/><stop offset="0.54" stop-color="#35ff76"/><stop offset="0.57" stop-color="#61ff70"/><stop offset="0.6" stop-color="#7dff6a"/><stop offset="0.63" stop-color="#94ff63"/><stop offset="0.66" stop-color="#a8ff5b"/><stop offset="0.69" stop-color="#baff51"/><stop offset="0.71" stop-color="#cbff45"/><stop offset="0.74" stop-color="#dbff35"/><stop offset="0.77" stop-color="#eaff1b"/><stop offset="0.8" stop-color="#f9ff00"/><stop offset="0.83" stop-color="#fff700"/><stop offset="0.86" stop-color="#ffeb00"/><stop offset="0.89" stop-color="#ffe100"/><stop offset="0.91" stop-color="#ffd800"/><stop offset="0.94" stop-color="#ffd100"/><stop offset="0.97" stop-color="#ffca00"/><stop offset="1" stop-color="#ffc300"/></linearGradient>
<linearGradient id="r32" x1="226" x2="333" y1="0" y2="0" gradientUnits="userSpaceOnUse"><stop offset="0" stop-color="#00ffde"/><stop offset="0.03" stop-color="#00ffdc"/><stop offset="0.06" stop-color="#00ffdb"/><stop offset="0.09" stop-color="#00ffd9"/><stop offset="0.11" stop-color="#00ffd8"/><stop offset="0.14" stop-color="#00ffd6"/><stop offset="0.17" stop-color="#00ffd4"/><stop offset="0.2" stop-color="#00ffd1"/><stop offset="0.23" stop-color="#00ffcf"/><stop offset="0.26" stop-color="#00ffcc"/><stop offset="0.29" stop-color="#00ffc8"/><stop offset="0.31" stop-color="#00ffc5"/><stop offset="0.34" stop-color="#00ffc0"/><stop offset="0.37" stop-color="#00ffbb"/><stop offset="0.4" stop-color="#00ffb5"/><stop offset="0.43" stop-color="#00ffad"/><stop offset="0.46" stop-color="#00ffa4"/><stop offset="0.49" stop-color="#00ff98"/><stop offset="0.51" stop-color="#00ff88"/><stop offset="0.54" stop-color="#40ff7d"/><stop offset="0.57" stop-color="#68ff78"/><stop offset="0.6" stop-color="#83ff72"/><stop offset="0.63" stop-color="#9aff6c"/><stop offset="0.66" stop-color="#aeff64"/><stop offset="0.69" stop-color="#c0ff5c"/><stop offset="0.71" stop-color="#d1ff52"/><stop offset="0.74" stop-color="#e1ff45"/><stop offset="0.77" stop-color="#f0ff34"/><stop offset="0.8" stop-color="#ffff15"/><stop offset="0.83" stop-color="#fff100"/><stop offset="0.86" stop-color="#ffe600"/><stop offset="0.89" stop-color="#ffdc00"/><stop offset="0.91" stop-color="#ffd300"/><stop offset="0.94" stop-color="#ffcc00"/><stop offset="0.97" stop-color="#ffc500"/><stop offset="1" stop-color="#ffbf00"/></linearGradient>
<linearGradient id="r33" x1="226" x2="333" y1="0" y2="0" gradientUnits="userSpaceOnUse"><stop offset="0" stop-color="#00ffdf"/><stop offset="0.03" stop-color="#00ffde"/><stop offset="0.06" stop-color="#00ffdd"/><stop offset="0.09" stop-color="#00ffdb"/><stop offset="0.11" stop-color="#00ffda"/><stop offset="0.14" stop-color="#00ffd8"/><stop offset="0.17" stop-color="#00ffd6"/><stop offset="0.2" stop-color="#00ffd3"/><stop offset="0.23" stop-color="#00ffd1"/><stop offset="0.26" stop-color="#00ffce"/><stop offset="0.29" stop-color="#00ffcb"/><stop offset="0.31" stop-color="#00ffc7"/><stop offset="0.34" stop-color="#00ffc3"/><stop offset="0.37" stop-color="#00ffbe"/><stop offset="0.4" stop-color="#00ffb8"/><stop offset="0.43" stop-color="#00ffb0"/><stop offset="0.46" stop-color="#00ffa7"/><stop offset="0.49" stop-color="#00ff9b"/><stop offset="0.51" stop-color="#00ff8b"/><stop offset="0.54" stop-color="#4aff84"/><stop offset="0.57" stop-color="#6fff7f"/><stop offset="0.6" stop-color="#89ff7a"/><stop offset="0.63" stop-color="#a0ff74"/><stop offset="0.66" stop-color="#b3ff6d"/><stop offset="0.69" stop-color="#c5ff66"/><stop offset="0.71" stop-color="#d6ff5d"/><stop offset="0.74" stop-color="#e6ff52"/><stop offset="0.77" stop-color="#f6ff45"/><stop offset="0.8" stop-color="#fff931"/><stop offset="0.83" stop-color="#ffec0a"/><stop offset="0.86" stop-color="#ffe000"/><stop offset="0.89" stop-color="#ffd600"/><stop offset="0.91" stop-color="#ffce00"/><stop offset="0.94" stop-color="#ffc600"/><stop offset="0.97" stop-color="#ffc000"/><stop offset="1" stop-color="#ffba00"/></linearGradient>
<linearGradient id="r34" x1="226" x2="340" y1="0" y2="0" gradientUnits="userSpaceOnUse"><stop offset="0" stop-color="#00ffe1"/><stop offset="0.03" stop-color="#00ffe0"/><stop offset="0.05" stop-color="#00ffdf"/><stop offset="0.08" stop-color="#00ffdd"/><stop offset="0.11" stop-color="#00ffdc"/><stop offset="0.13" stop-color="#00ffda"/><stop offset="0.16" stop-color="#00ffd8"/><stop offset="0.18" stop-color="#00ffd6"/><stop offset="0.21" stop-color="#00ffd3"/><stop offset="0.24" stop-color="#00ffd1"/><stop offset="0.26" stop-color="#00ffce"/><stop offset="0.29" stop-color="#00ffca"/><stop offset="0.32" stop-color="#00ffc6"/><stop offset="0.34" stop-color="#00ffc2"/><stop offset="0.37" stop-color="#00ffbc"/><stop offset="0.39" stop-color="#00ffb6"/><stop offset="0.42" stop-color="#00ffad"/><stop offset="0.45" stop-color="#00ffa3"/><stop offset="0.47" stop-color="#00ff95"/><stop offset="0.5" stop-color="#43ff8c"/><stop offset="0.53" stop-color="#6aff88"/><stop offset="0.55" stop-color="#86ff83"/><stop offset="0.58" stop-color="#9dff7e"/><stop offset="0.61" stop-color="#b1ff79"/><stop offset="0.63" stop-color="#c3ff72"/><stop offset="0.66" stop-color="#d4ff6b"/><stop offset="0.68" stop-color="#e5ff63"/><stop offset="0.71" stop-color="#f4ff59"/><stop offset="0.74" stop-color="#fffb4b"/><stop offset="0.76" stop-color="#ffed37"/><stop offset="0.79" stop-color="#ffe11d"/><stop offset="0.82" stop-color="#ffd600"/><stop offset="0.84" stop-color="#ffcd00"/><stop offset="0.87" stop-color="#ffc500"/><stop offset="0.89" stop-color="#ffbe00"/><stop offset="0.92" stop-color="#ffb800"/><stop offset="0.95" stop-color="#ffb300"/><stop offset="0.97" stop-color="#ffae00"/><stop offset="1" stop-color="#ffa900"/></linearGradient>
<linearGradient id="r35" x1="226" x2="340" y1="0" y2="0" gradientUnits="userSpaceOnUse"><stop offset="0" stop-color="#00ffe3"/><stop offset="0.03" stop-color="#00ffe2"/><stop offset="0.05" stop-color="#00ffe0"/><stop offset="0.08" stop-color="#00ffdf"/><stop offset="0.11" stop-color="#00ffdd"/><stop offset="0.13" stop-color="#00ffdc"/><stop offset="0.16" stop-color="#00ffda"/><stop offset="0.18" stop-color="#00ffd8"/><stop offset="0.21" stop-color="#00ffd6"/><stop offset="0.24" stop-color="#00ffd3"/><stop offset="0.26" stop-color="#00ffd0"/><stop offset="0.29" stop-color="#00ffcd"/><stop offset="0.32" stop-color="#00ffc9"/><stop offset="0.34" stop-color="#00ffc5"/><stop offset="0.37" stop-color="#00ffbf"/><stop offset="0.39" stop-color="#00ffb9"/><stop offset="0.42" stop-color="#00ffb1"/><stop offset="0.45" stop-color="#00ffa6"/><stop offset="0.47" stop-color="#00ff99"/><stop offset="0.5" stop-color="#4dff93"/><stop offset="0.53" stop-color="#72ff8f"/><stop offset="0.55" stop-color="#8cff8b"/><stop offset="0.58" stop-color="#a3ff86"/><stop offset="0.61" stop-color="#b7ff81"/><stop offset="0.63" stop-color="#c9ff7b"/><stop offset="0.66" stop-color="#daff74"/><stop offset="0.68" stop-color="#ebff6d"/><stop offset="0.71" stop-color="#fbff64"/><stop offset="0.74" stop-color="#fff456"/><stop offset="0.76" stop-color="#ffe745"/><stop offset="0.79" stop-color="#ffdb32"/><stop offset="0.82" stop-color="#ffd017"/><stop offset="0.84" stop-color="#ffc700"/><stop offset="0.87" stop-color="#ffc000"/><stop offset="0.89" stop-color="#ffb900"/><stop offset="0.92" stop-color="#ffb300"/><stop offset="0.95" stop-color="#ffad00"/><stop offset="0.97" stop-color="#ffa800"/><stop offset="1" stop-color="#ffa400"/></linearGradient>
<linearGradient id="r36" x1="226" x2="340" y1="0" y2="0" gradientUnits="userSpaceOnUse"><stop offset="0" stop-color="#00ffe4"/><stop offset="0.03" stop-color="#00ffe3"/><stop offset="0.05" stop-color="#00ffe2"/><stop offset="0.08" stop-color="#00ffe1"/><stop offset="0.11" stop-color="#00ffdf"/><stop offset="0.13" stop-color="#00ffde"/><stop offset="0.16" stop-color="#00ffdc"/><stop offset="0.18" stop-color="#00ffda"/><stop offset="0.21" stop-color="#00ffd8"/><stop offset="0.24" stop-color="#00ffd6"/><stop offset="0.26" stop-color="#00ffd3"/><stop offset="0.29" stop-color="#00ffd0"/><stop offset="0.32" stop-color="#00ffcc"/><stop offset="0.34" stop-color="#00ffc8"/><stop offset="0.37" stop-color="#00ffc2"/><stop offset="0.39" stop-color="#00ffbc"/><stop offset="0.42" stop-color="#00ffb4"/><stop offset="0.45" stop-color="#00ffaa"/><stop offset="0.47" stop-color="#0dff9d"/><stop offset="0.5" stop-color="#57ff9a"/><stop offset="0.53" stop-color="#79ff96"/><stop offset="0.55" stop-color="#93ff92"/><stop offset="0.58" stop-color="#a9ff8e"/><stop offset="0.61" stop-color="#bdff89"/><stop offset="0.63" stop-color="#cfff84"/><stop offset="0.66" stop-color="#e0ff7e"/><stop offset="0.68" stop-color="#f1ff77"/><stop offset="0.71" stop-color="#fffd6e"/><stop offset="0.74" stop-color="#ffee5f"/><stop offset="0.76" stop-color="#ffe150"/><stop offset="0.79" stop-color="#ffd640"/><stop offset="0.82" stop-color="#ffcb2d"/><stop offset="0.84" stop-color="#ffc111"/><stop offset="0.87" stop-color="#ffba00"/><stop offset="0.89" stop-color="#ffb300"/><stop offset="0.92" stop-color="#ffad00"/><stop offset="0.95" stop-color="#ffa800"/><stop offset="0.97" stop-color="#ffa300"/><stop offset="1" stop-color="#ff9f00"/></linearGradient>
<linearGradient id="r37" x1="226" x2="346" y1="0" y2="0" gradientUnits="userSpaceOnUse"><stop offset="0" stop-color="#00ffe6"/><stop offset="0.03" stop-color="#00ffe5"/><stop offset="0.05" stop-color="#00ffe4"/><stop offset="0.07" stop-color="#00ffe3"/><stop offset="0.1" stop-color="#00ffe1"/><stop offset="0.12" stop-color="#00ffe0"/><stop offset="0.15" stop-color="#00ffde"/><stop offset="0.17" stop-color="#00ffdd"/><stop offset="0.2" stop-color="#00ffda"/><stop offset="0.23" stop-color="#00ffd8"/><stop offset="0.25" stop-color="#00ffd5"/><stop offset="0.28" stop-color="#00ffd2"/><stop offset="0.3" stop-color="#00ffcf"/><stop offset="0.33" stop-color="#00ffcb"/><stop offset="0.35" stop-color="#00ffc6"/><stop offset="0.38" stop-color="#00ffc0"/><stop offset="0.4" stop-color="#00ffb8"/><stop offset="0.42" stop-color="#00ffae"/><stop offset="0.45" stop-color="#28ffa4"/><stop offset="0.47" stop-color="#5fffa1"/><stop offset="0.5" stop-color="#80ff9d"/><stop offset="0.53" stop-color="#99ff99"/><stop offset="0.55" stop-color="#afff95"/><stop offset="0.57" stop-color="#c3ff91"/><stop offset="0.6" stop-color="#d5ff8c"/><stop offset="0.62" stop-color="#e7ff87"/><stop offset="0.65" stop-color="#f8ff81"/><stop offset="0.68" stop-color="#fff675"/><stop offset="0.7" stop-color="#ffe867"/><stop offset="0.72" stop-color="#ffdb59"/><stop offset="0.75" stop-color="#ffd04a"/><stop offset="0.78" stop-color="#ffc63b"/><stop offset="0.8" stop-color="#ffbc29"/><stop offset="0.82" stop-color="#ffb409"/><stop offset="0.85" stop-color="#ffad00"/><stop offset="0.88" stop-color="#ffa700"/><stop offset="0.9" stop-color="#ffa200"/><stop offset="0.93" stop-color="#ff9d00"/><stop offset="0.95" stop-color="#ff9900"/><stop offset="0.97" stop-color="#ff9500"/><stop offset="1" stop-color="#ff9100"/></linearGradient>
<linearGradient id="r38" x1="226" x2="346" y1="0" y2="0" gradientUnits="userSpaceOnUse"><stop offset="0" stop-color="#00ffe8"/><stop offset="0.03" stop-color="#00ffe7"/><stop offset="0.05" stop-color="#00ffe6"/><stop offset="0.07" stop-color="#00ffe5"/><stop offset="0.1" stop-color="#00ffe4"/><stop offset="0.12" stop-color="#00ffe2"/><stop offset="0.15" stop-color="#00ffe1"/><stop offset="0.17" stop-color="#00ffdf"/><stop offset="0.2" stop-color="#00ffdd"/><stop offset="0.23" stop-color="#00ffdb"/><stop offset="0.25" stop-color="#00ffd8"/><stop offset="0.28" stop-color="#00ffd5"/><stop offset="0.3" stop-color="#00ffd2"/><stop offset="0.33" stop-color="#00ffce"/><stop offset="0.35" stop-color="#00ffc9"/><stop offset="0.38" stop-color="#00ffc3"/><stop offset="0.4" stop-color="#00ffbc"/><stop offset="0.42" stop-color="#00ffb2"/><stop offset="0.45" stop-color="#39ffaa"/><stop offset="0.47" stop-color="#68ffa7"/><stop offset="0.5" stop-color="#87ffa4"/><stop offset="0.53" stop-color="#a0ffa1"/><stop offset="0.55" stop-color="#b5ff9d"/><stop offset="0.57" stop-color="#c9ff99"/><stop offset="0.6" stop-color="#dcff95"/><stop offset="0.62" stop-color="#edff90"/><stop offset="0.65" stop-color="#ffff8a"/><stop offset="0.68" stop-color="#fff07b"/><stop offset="0.7" stop-color="#ffe26e"/><stop offset="0.72" stop-color="#ffd660"/><stop offset="0.75" stop-color="#ffcb53"/><stop offset="0.78" stop-color="#ffc046"/><stop offset="0.8" stop-color="#ffb737"/><stop offset="0.82" stop-color="#ffae24"/><stop offset="0.85" stop-color="#ffa602"/><stop offset="0.88" stop-color="#ffa100"/><stop offset="0.9" stop-color="#ff9c00"/><stop offset="0.93" stop-color="#ff9700"/><stop offset="0.95" stop-color="#ff9300"/><stop offset="0.97" stop-color="#ff8f00"/><stop offset="1" stop-color="#ff8c00"/></linearGradient>
<linearGradient id="r39" x1="226" x2="346" y1="0" y2="0" gradientUnits="userSpaceOnUse"><stop offset="0" stop-color="#00ffea"/><stop offset="0.03" stop-color="#00ffe9"/><stop offset="0.05" stop-color="#00ffe8"/><stop offset="0.07" stop-color="#00ffe7"/><stop offset="0.1" stop-color="#00ffe6"/><stop offset="0.12" stop-color="#00ffe4"/><stop offset="0.15" stop-color="#00ffe3"/><stop offset="0.17" stop-color="#00ffe1"/><stop offset="0.2" stop-color="#00ffdf"/><stop offset="0.23" stop-color="#00ffdd"/><stop offset="0.25" stop-color="#00ffdb"/><stop offset="0.28" stop-color="#00ffd8"/><stop offset="0.3" stop-color="#00ffd5"/><stop offset="0.33" stop-color="#00ffd1"/><stop offset="0.35" stop-color="#00ffcd"/><stop offset="0.38" stop-color="#00ffc7"/><stop offset="0.4" stop-color="#00ffc0"/><stop offset="0.42" stop-color="#00ffb7"/><stop offset="0.45" stop-color="#46ffb1"/><stop offset="0.47" stop-color="#70ffae"/><stop offset="0.5" stop-color="#8effab"/><stop offset="0.53" stop-color="#a6ffa8"/><stop offset="0.55" stop-color="#bcffa5"/><stop offset="0.57" stop-color="#d0ffa1"/><stop offset="0.6" stop-color="#e2ff9d"/><stop offset="0.62" stop-color="#f4ff98"/><stop offset="0.65" stop-color="#fff88f"/><stop offset="0.68" stop-color="#ffe981"/><stop offset="0.7" stop-color="#ffdc74"/><stop offset="0.72" stop-color="#ffd067"/><stop offset="0.75" stop-color="#ffc55b"/><stop offset="0.78" stop-color="#ffbb4e"/><stop offset="0.8" stop-color="#ffb241"/><stop offset="0.82" stop-color="#ffa933"/><stop offset="0.85" stop-color="#ffa120"/><stop offset="0.88" stop-color="#ff9a00"/><stop offset="0.9" stop-color="#ff9500"/><stop offset="0.93" stop-color="#ff9100"/><stop offset="0.95" stop-color="#ff8d00"/><stop offset="0.97" stop-color="#ff8900"/><stop offset="1" stop-color="#ff8600"/></linearGradient>
<linearGradient id="r40" x1="226" x2="352" y1="0" y2="0" gradientUnits="userSpaceOnUse"><stop offset="0" stop-color="#00ffec"/><stop offset="0.02" stop-color="#00ffeb"/><stop offset="0.05" stop-color="#00ffea"/><stop offset="0.07" stop-color="#00ffe9"/><stop offset="0.1" stop-color="#00ffe8"/><stop offset="0.12" stop-color="#00ffe7"/><stop offset="0.14" stop-color="#00ffe5"/><stop offset="0.17" stop-color="#00ffe4"/><stop offset="0.19" stop-color="#00ffe2"/><stop offset="0.21" stop-color="#00ffe0"/><stop offset="0.24" stop-color="#00ffde"/><stop offset="0.26" stop-color="#00ffdb"/><stop offset="0.29" stop-color="#00ffd8"/><stop offset="0.31" stop-color="#00ffd5"/><stop offset="0.33" stop-color="#00ffd1"/><stop offset="0.36" stop-color="#00ffcb"/><stop offset="0.38" stop-color="#00ffc5"/><stop offset="0.4" stop-color="#00ffbc"/><stop offset="0.43" stop-color="#51ffb8"/><stop offset="0.45" stop-color="#78ffb5"/><stop offset="0.48" stop-color="#95ffb3"/><stop offset="0.5" stop-color="#adffb0"/><stop offset="0.52" stop-color="#c3ffad"/><stop offset="0.55" stop-color="#d7ffa9"/><stop offset="0.57" stop-color="#e9ffa6"/><stop offset="0.6" stop-color="#fcffa1"/><stop offset="0.62" stop-color="#fff194"/><stop offset="0.64" stop-color="#ffe386"/><stop offset="0.67" stop-color="#ffd679"/><stop offset="0.69" stop-color="#ffca6d"/><stop offset="0.71" stop-color="#ffbf61"/><stop offset="0.74" stop-color="#ffb656"/><stop offset="0.76" stop-color="#ffad4a"/><stop offset="0.79" stop-color="#ffa43d"/><stop offset="0.81" stop-color="#ff9c2f"/><stop offset="0.83" stop-color="#ff951c"/><stop offset="0.86" stop-color="#ff8e00"/><stop offset="0.88" stop-color="#ff8a00"/><stop offset="0.9" stop-color="#ff8600"/><stop offset="0.93" stop-color="#ff8300"/><stop offset="0.95" stop-color="#ff8000"/><stop offset="0.98" stop-color="#ff7d00"/><stop offset="1" stop-color="#ff7a00"/></linearGradient>
<linearGradient id="r41" x1="226" x2="352" y1="0" y2="0" gradientUnits="userSpaceOnUse"><stop offset="0" stop-color="#00ffee"/><stop offset="0.02" stop-color="#00ffed"/><stop offset="0.05" stop-color="#00ffec"/><stop offset="0.07" stop-color="#00ffeb"/><stop offset="0.1" stop-color="#00ffea"/><stop offset="0.12" stop-color="#00ffe9"/><stop offset="0.14" stop-color="#00ffe8"/><stop offset="0.17" stop-color="#00ffe6"/><stop offset="0.19" stop-color="#00ffe5"/><stop offset="0.21" stop-color="#00ffe3"/><stop offset="0.24" stop-color="#00ffe1"/><stop offset="0.26" stop-color="#00ffdf"/><stop offset="0.29" stop-color="#00ffdc"/><stop offset="0.31" stop-color="#00ffd9"/><stop offset="0.33" stop-color="#00ffd5"/><stop offset="0.36" stop-color="#00ffd0"/><stop offset="0.38" stop-color="#00ffc9"/><stop offset="0.4" stop-color="#02ffc1"/><stop offset="0.43" stop-color="#5bffbf"/><stop offset="0.45" stop-color="#80ffbd"/><stop offset="0.48" stop-color="#9cffba"/><stop offset="0.5" stop-color="#b4ffb8"/><stop offset="0.52" stop-color="#c9ffb5"/><stop offset="0.55" stop-color="#deffb2"/><stop offset="0.57" stop-color="#f1ffae"/><stop offset="0.6" stop-color="#fffba8"/><stop offset="0.62" stop-color="#ffea99"/><stop offset="0.64" stop-color="#ffdc8b"/><stop offset="0.67" stop-color="#ffcf7f"/><stop offset="0.69" stop-color="#ffc473"/><stop offset="0.71" stop-color="#ffba67"/><stop offset="0.74" stop-color="#ffb05c"/><stop offset="0.76" stop-color="#ffa751"/><stop offset="0.79" stop-color="#ff9f46"/><stop offset="0.81" stop-color="#ff973a"/><stop offset="0.83" stop-color="#ff902b"/><stop offset="0.86" stop-color="#ff8918"/><stop offset="0.88" stop-color="#ff8300"/><stop offset="0.9" stop-color="#ff7f00"/><stop offset="0.93" stop-color="#ff7c00"/><stop offset="0.95" stop-color="#ff7900"/><stop offset="0.98" stop-color="#ff7600"/><stop offset="1" stop-color="#ff7300"/></linearGradient>
<linearGradient id="r42" x1="229" x2="357" y1="0" y2="0" gradientUnits="userSpaceOnUse"><stop offset="0" stop-color="#00ffef"/><stop offset="0.02" stop-color="#00ffee"/><stop offset="0.05" stop-color="#00ffed"/><stop offset="0.07" stop-color="#00ffec"/><stop offset="0.1" stop-color="#00ffeb"/><stop offset="0.12" stop-color="#00ffea"/><stop offset="0.14" stop-color="#00ffe9"/><stop offset="0.17" stop-color="#00ffe8"/><stop offset="0.19" stop-color="#00ffe6"/><stop offset="0.21" stop-color="#00ffe4"/><stop offset="0.24" stop-color="#00ffe2"/><stop offset="0.26" stop-color="#00ffdf"/><stop offset="0.29" stop-color="#00ffdc"/><stop offset="0.31" stop-color="#00ffd8"/><stop offset="0.33" stop-color="#00ffd3"/><stop offset="0.36" stop-color="#00ffcd"/><stop offset="0.38" stop-color="#3effc7"/><stop offset="0.4" stop-color="#6fffc5"/><stop offset="0.43" stop-color="#90ffc3"/><stop offset="0.45" stop-color="#abffc1"/><stop offset="0.48" stop-color="#c2ffbf"/><stop offset="0.5" stop-color="#d8ffbc"/><stop offset="0.52" stop-color="#ecffb9"/><stop offset="0.55" stop-color="#ffffb6"/><stop offset="0.57" stop-color="#ffeda6"/><stop offset="0.6" stop-color="#ffde97"/><stop offset="0.62" stop-color="#ffd08a"/><stop offset="0.64" stop-color="#ffc47e"/><stop offset="0.67" stop-color="#ffba73"/><stop offset="0.69" stop-color="#ffb068"/><stop offset="0.71" stop-color="#ffa65d"/><stop offset="0.74" stop-color="#ff9e53"/><stop offset="0.76" stop-color="#ff9648"/><stop offset="0.79" stop-color="#ff8e3c"/><stop offset="0.81" stop-color="#ff872f"/><stop offset="0.83" stop-color="#ff801e"/><stop offset="0.86" stop-color="#ff7900"/><stop offset="0.88" stop-color="#ff7600"/><stop offset="0.9" stop-color="#ff7300"/><stop offset="0.93" stop-color="#ff7000"/><stop offset="0.95" stop-color="#ff6d00"/><stop offset="0.98" stop-color="#ff6b00"/><stop offset="1" stop-color="#ff6800"/></linearGradient>
<linearGradient id="r43" x1="229" x2="357" y1="0" y2="0" gradientUnits="userSpaceOnUse"><stop offset="0" stop-color="#00fff1"/><stop offset="0.02" stop-color="#00fff0"/><stop offset="0.05" stop-color="#00fff0"/><stop offset="0.07" stop-color="#00ffef"/><stop offset="0.1" stop-color="#00ffee"/><stop offset="0.12" stop-color="#00ffed"/><stop offset="0.14" stop-color="#00ffec"/><stop offset="0.17" stop-color="#00ffea"/><stop offset="0.19" stop-color="#00ffe9"/><stop offset="0.21" stop-color="#00ffe7"/><stop offset="0.24" stop-color="#00ffe5"/><stop offset="0.26" stop-color="#00ffe3"/><stop offset="0.29" stop-color="#00ffe0"/><stop offset="0.31" stop-color="#00ffdc"/><stop offset="0.33" stop-color="#00ffd8"/><stop offset="0.36" stop-color="#00ffd2"/><stop offset="0.38" stop-color="#4bffce"/><stop offset="0.4" stop-color="#78ffcd"/><stop offset="0.43" stop-color="#98ffcb"/><stop offset="0.45" stop-color="#b2ffc9"/><stop offset="0.48" stop-color="#c9ffc7"/><stop offset="0.5" stop-color="#dfffc4"/><stop offset="0.52" stop-color="#f4ffc2"/><stop offset="0.55" stop-color="#fff7b9"/><stop offset="0.57" stop-color="#ffe6a9"/><stop offset="0.6" stop-color="#ffd79b"/><stop offset="0.62" stop-color="#ffca8e"/><stop offset="0.64" stop-color="#ffbe83"/><stop offset="0.67" stop-color="#ffb478"/><stop offset="0.69" stop-color="#ffaa6d"/><stop offset="0.71" stop-color="#ffa163"/><stop offset="0.74" stop-color="#ff9859"/><stop offset="0.76" stop-color="#ff904f"/><stop offset="0.79" stop-color="#ff8944"/><stop offset="0.81" stop-color="#ff8139"/><stop offset="0.83" stop-color="#ff7a2c"/><stop offset="0.86" stop-color="#ff741a"/><stop offset="0.88" stop-color="#ff6e00"/><stop offset="0.9" stop-color="#ff6b00"/><stop offset="0.93" stop-color="#ff6800"/><stop offset="0.95" stop-color="#ff6600"/><stop offset="0.98" stop-color="#ff6300"/><stop offset="1" stop-color="#ff6100"/></linearGradient>
<linearGradient id="r44" x1="229" x2="357" y1="0" y2="0" gradientUnits="userSpaceOnUse"><stop offset="0" stop-color="#00fff3"/><stop offset="0.02" stop-color="#00fff3"/><stop offset="0.05" stop-color="#00fff2"/><stop offset="0.07" stop-color="#00fff1"/><stop offset="0.1" stop-color="#00fff0"/><stop offset="0.12" stop-color="#00fff0"/><stop offset="0.14" stop-color="#00ffef"/><stop offset="0.17" stop-color="#00ffee"/><stop offset="0.19" stop-color="#00ffec"/><stop offset="0.21" stop-color="#00ffeb"/><stop offset="0.24" stop-color="#00ffe9"/><stop offset="0.26" stop-color="#00ffe7"/><stop offset="0.29" stop-color="#00ffe4"/><stop offset="0.31" stop-color="#00ffe1"/><stop offset="0.33" stop-color="#00ffdd"/><stop offset="0.36" stop-color="#00ffd8"/><stop offset="0.38" stop-color="#57ffd6"/><stop offset="0.4" stop-color="#80ffd4"/><stop offset="0.43" stop-color="#9fffd3"/><stop offset="0.45" stop-color="#b9ffd1"/><stop offset="0.48" stop-color="#d1ffcf"/><stop offset="0.5" stop-color="#e7ffcd"/><stop offset="0.52" stop-color="#fcffcb"/><stop offset="0.55" stop-color="#ffefbc"/><stop offset="0.57" stop-color="#ffdfac"/><stop offset="0.6" stop-color="#ffd09f"/><stop offset="0.62" stop-color="#ffc492"/><stop offset="0.64" stop-color="#ffb887"/><stop offset="0.67" stop-color="#ffae7c"/><stop offset="0.69" stop-color="#ffa472"/><stop offset="0.71" stop-color="#ff9b68"/><stop offset="0.74" stop-color="#ff935e"/><stop offset="0.76" stop-color="#ff8b55"/><stop offset="0.79" stop-color="#ff834b"/><stop offset="0.81" stop-color="#ff7c41"/><stop offset="0.83" stop-color="#ff7535"/><stop offset="0.86" stop-color="#ff6e28"/><stop offset="0.88" stop-color="#ff6716"/><stop offset="0.9" stop-color="#ff6200"/><stop offset="0.93" stop-color="#ff5f00"/><stop offset="0.95" stop-color="#ff5d00"/><stop offset="0.98" stop-color="#ff5b00"/><stop offset="1" stop-color="#ff5900"/></linearGradient>
<linearGradient id="r45" x1="229" x2="361" y1="0" y2="0" gradientUnits="userSpaceOnUse"><stop offset="0" stop-color="#00fff5"/><stop offset="0.02" stop-color="#00fff5"/><stop offset="0.05" stop-color="#00fff4"/><stop offset="0.07" stop-color="#00fff4"/><stop offset="0.09" stop-color="#00fff3"/><stop offset="0.11" stop-color="#00fff2"/><stop offset="0.14" stop-color="#00fff2"/><stop offset="0.16" stop-color="#00fff1"/><stop offset="0.18" stop-color="#00fff0"/><stop offset="0.2" stop-color="#00ffef"/><stop offset="0.23" stop-color="#00ffed"/><stop offset="0.25" stop-color="#00ffeb"/><stop offset="0.27" stop-color="#00ffe9"/><stop offset="0.3" stop-color="#00ffe7"/><stop offset="0.32" stop-color="#00ffe4"/><stop offset="0.34" stop-color="#00ffe0"/><stop offset="0.36" stop-color="#55ffde"/><stop offset="0.39" stop-color="#80ffdc"/><stop offset="0.41" stop-color="#9fffdb"/><stop offset="0.43" stop-color="#baffda"/><stop offset="0.45" stop-color="#d2ffd8"/><stop offset="0.48" stop-color="#e8ffd7"/><stop offset="0.5" stop-color="#fdffd5"/><stop offset="0.52" stop-color="#ffeec5"/><stop offset="0.55" stop-color="#ffddb5"/><stop offset="0.57" stop-color="#ffcfa7"/><stop offset="0.59" stop-color="#ffc29b"/><stop offset="0.61" stop-color="#ffb78f"/><stop offset="0.64" stop-color="#ffac85"/><stop offset="0.66" stop-color="#ffa27b"/><stop offset="0.68" stop-color="#ff9971"/><stop offset="0.7" stop-color="#ff9168"/><stop offset="0.73" stop-color="#ff895f"/><stop offset="0.75" stop-color="#ff8156"/><stop offset="0.77" stop-color="#ff7a4d"/><stop offset="0.8" stop-color="#ff7343"/><stop offset="0.82" stop-color="#ff6c39"/><stop offset="0.84" stop-color="#ff652d"/><stop offset="0.86" stop-color="#ff5e1f"/><stop offset="0.89" stop-color="#ff5805"/><stop offset="0.91" stop-color="#ff5500"/><stop offset="0.93" stop-color="#ff5300"/><stop offset="0.95" stop-color="#ff5100"/><stop offset="0.98" stop-color="#ff4f00"/><stop offset="1" stop-color="#ff4d00"/></linearGradient>
<linearGradient id="r46" x1="229" x2="361" y1="0" y2="0" gradientUnits="userSpaceOnUse"><stop offset="0" stop-color="#00fff8"/><stop offset="0.02" stop-color="#00fff7"/><stop offset="0.05" stop-color="#00fff7"/><stop offset="0.07" stop-color="#00fff6"/><stop offset="0.09" stop-color="#00fff6"/><stop offset="0.11" stop-color="#00fff5"/><stop offset="0.14" stop-color="#00fff5"/><stop offset="0.16" stop-color="#00fff4"/><stop offset="0.18" stop-color="#00fff3"/><stop offset="0.2" stop-color="#00fff2"/><stop offset="0.23" stop-color="#00fff1"/><stop offset="0.25" stop-color="#00fff0"/><stop offset="0.27" stop-color="#00ffee"/><stop offset="0.3" stop-color="#00ffec"/><stop offset="0.32" stop-color="#00ffea"/><stop offset="0.34" stop-color="#00ffe6"/><stop offset="0.36" stop-color="#61ffe5"/><stop offset="0.39" stop-color="#89ffe4"/><stop offset="0.41" stop-color="#a7ffe3"/><stop offset="0.43" stop-color="#c2ffe2"/><stop offset="0.45" stop-color="#daffe1"/><stop offset="0.48" stop-color="#f0ffe0"/><stop offset="0.5" stop-color="#fff8d9"/><stop offset="0.52" stop-color="#ffe6c7"/><stop offset="0.55" stop-color="#ffd6b8"/><stop offset="0.57" stop-color="#ffc8aa"/><stop offset="0.59" stop-color="#ffbb9e"/><stop offset="0.61" stop-color="#ffb093"/><stop offset="0.64" stop-color="#ffa688"/><stop offset="0.66" stop-color="#ff9c7f"/><stop offset="0.68" stop-color="#ff9375"/><stop offset="0.7" stop-color="#ff8b6c"/><stop offset="0.73" stop-color="#ff8364"/><stop offset="0.75" stop-color="#ff7b5b"/><stop offset="0.77" stop-color="#ff7452"/><stop offset="0.8" stop-color="#ff6d49"/><stop offset="0.82" stop-color="#ff6640"/><stop offset="0.84" stop-color="#ff5f36"/><stop offset="0.86" stop-color="#ff582a"/><stop offset="0.89" stop-color="#ff511c"/><stop offset="0.91" stop-color="#ff4a00"/><stop offset="0.93" stop-color="#ff4800"/><stop offset="0.95" stop-color="#ff4600"/><stop offset="0.98" stop-color="#ff4400"/><stop offset="1" stop-color="#ff4300"/></linearGradient>
<linearGradient id="r47" x1="229" x2="364" y1="0" y2="0" gradientUnits="userSpaceOnUse"><stop offset="0" stop-color="#00fffa"/><stop offset="0.02" stop-color="#00fffa"/><stop offset="0.04" stop-color="#00fff9"/><stop offset="0.07" stop-color="#00fff9"/><stop offset="0.09" stop-color="#00fff9"/><stop offset="0.11" stop-color="#00fff8"/><stop offset="0.13" stop-color="#00fff8"/><stop offset="0.16" stop-color="#00fff7"/><stop offset="0.18" stop-color="#00fff7"/><stop offset="0.2" stop-color="#00fff6"/><stop offset="0.22" stop-color="#00fff5"/><stop offset="0.24" stop-color="#00fff4"/><stop offset="0.27" stop-color="#00fff3"/><stop offset="0.29" stop-color="#00fff2"/><stop offset="0.31" stop-color="#00fff0"/><stop offset="0.33" stop-color="#26ffee"/><stop offset="0.36" stop-color="#6bffed"/><stop offset="0.38" stop-color="#92ffed"/><stop offset="0.4" stop-color="#b0ffec"/><stop offset="0.42" stop-color="#caffeb"/><stop offset="0.44" stop-color="#e2ffeb"/><stop offset="0.47" stop-color="#f9ffea"/><stop offset="0.49" stop-color="#fff0db"/><stop offset="0.51" stop-color="#ffdec9"/><stop offset="0.53" stop-color="#ffceba"/><stop offset="0.56" stop-color="#ffc1ad"/><stop offset="0.58" stop-color="#ffb5a1"/><stop offset="0.6" stop-color="#ffaa96"/><stop offset="0.62" stop-color="#ffa08c"/><stop offset="0.64" stop-color="#ff9682"/><stop offset="0.67" stop-color="#ff8d79"/><stop offset="0.69" stop-color="#ff8571"/><stop offset="0.71" stop-color="#ff7d68"/><stop offset="0.73" stop-color="#ff7560"/><stop offset="0.76" stop-color="#ff6e57"/><stop offset="0.78" stop-color="#ff664f"/><stop offset="0.8" stop-color="#ff5f46"/><stop offset="0.82" stop-color="#ff583d"/><stop offset="0.84" stop-color="#ff5133"/><stop offset="0.87" stop-color="#ff4928"/><stop offset="0.89" stop-color="#ff4218"/><stop offset="0.91" stop-color="#ff3a00"/><stop offset="0.93" stop-color="#ff3900"/><stop offset="0.96" stop-color="#ff3700"/><stop offset="0.98" stop-color="#ff3600"/><stop offset="1" stop-color="#ff3500"/></linearGradient>
<linearGradient id="r48" x1="229" x2="364" y1="0" y2="0" gradientUnits="userSpaceOnUse"><stop offset="0" stop-color="#00fffc"/><stop offset="0.02" stop-color="#00fffc"/><stop offset="0.04" stop-color="#00fffc"/><stop offset="0.07" stop-color="#00fffc"/><stop offset="0.09" stop-color="#00fffc"/><stop offset="0.11" stop-color="#00fffb"/><stop offset="0.13" stop-color="#00fffb"/><stop offset="0.16" stop-color="#00fffb"/><stop offset="0.18" stop-color="#00fffb"/><stop offset="0.2" stop-color="#00fffa"/><stop offset="0.22" stop-color="#00fffa"/><stop offset="0.24" stop-color="#00fff9"/><stop offset="0.27" stop-color="#00fff9"/><stop offset="0.29" stop-color="#00fff8"/><stop offset="0.31" stop-color="#00fff7"/><stop offset="0.33" stop-color="#3cfff6"/><stop offset="0.36" stop-color="#76fff6"/><stop offset="0.38" stop-color="#9afff5"/><stop offset="0.4" stop-color="#b8fff5"/><stop offset="0.42" stop-color="#d3fff5"/><stop offset="0.44" stop-color="#ebfff4"/><stop offset="0.47" stop-color="#fffbf0"/><stop offset="0.49" stop-color="#ffe7dd"/><stop offset="0.51" stop-color="#ffd6cc"/><stop offset="0.53" stop-color="#ffc7bd"/><stop offset="0.56" stop-color="#ffbab0"/><stop offset="0.58" stop-color="#ffaea4"/><stop offset="0.6" stop-color="#ffa399"/><stop offset="0.62" stop-color="#ff998f"/><stop offset="0.64" stop-color="#ff9086"/><stop offset="0.67" stop-color="#ff877d"/><stop offset="0.69" stop-color="#ff7f74"/><stop offset="0.71" stop-color="#ff776c"/><stop offset="0.73" stop-color="#ff6f64"/><stop offset="0.76" stop-color="#ff675c"/><stop offset="0.78" stop-color="#ff6054"/><stop offset="0.8" stop-color="#ff584c"/><stop offset="0.82" stop-color="#ff5144"/><stop offset="0.84" stop-color="#ff493b"/><stop offset="0.87" stop-color="#ff4131"/><stop offset="0.89" stop-color="#ff3825"/><stop offset="0.91" stop-color="#ff2f15"/><stop offset="0.93" stop-color="#ff2600"/><stop offset="0.96" stop-color="#ff2500"/><stop offset="0.98" stop-color="#ff2400"/><stop offset="1" stop-color="#ff2300"/></linearGradient>
<linearGradient id="r49" x1="229" x2="367" y1="0" y2="0" gradientUnits="userSpaceOnUse"><stop offset="0" stop-color="#00ffff"/><stop offset="0.02" stop-color="#00ffff"/><stop offset="0.04" stop-color="#00ffff"/><stop offset="0.07" stop-color="#00ffff"/><stop offset="0.09" stop-color="#00ffff"/><stop offset="0.11" stop-color="#00ffff"/><stop offset="0.13" stop-color="#00ffff"/><stop offset="0.15" stop-color="#00ffff"/><stop offset="0.17" stop-color="#00ffff"/><stop offset="0.2" stop-color="#00ffff"/><stop offset="0.22" stop-color="#00ffff"/><stop offset="0.24" stop-color="#00ffff"/><stop offset="0.26" stop-color="#00ffff"/><stop offset="0.28" stop-color="#00ffff"/><stop offset="0.3" stop-color="#00ffff"/><stop offset="0.33" stop-color="#4dffff"/><stop offset="0.35" stop-color="#80ffff"/><stop offset="0.37" stop-color="#a4ffff"/><stop offset="0.39" stop-color="#c1ffff"/><stop offset="0.41" stop-color="#dcffff"/><stop offset="0.43" stop-color="#f5ffff"/><stop offset="0.46" stop-color="#fff2f2"/><stop offset="0.48" stop-color="#ffdede"/><stop offset="0.5" stop-color="#ffcece"/><stop offset="0.52" stop-color="#ffbfbf"/><stop offset="0.54" stop-color="#ffb3b2"/><stop offset="0.57" stop-color="#ffa7a7"/><stop offset="0.59" stop-color="#ff9c9c"/><stop offset="0.61" stop-color="#ff9292"/><stop offset="0.63" stop-color="#ff8989"/><stop offset="0.65" stop-color="#ff8080"/><stop offset="0.67" stop-color="#ff7878"/><stop offset="0.7" stop-color="#ff7070"/><stop offset="0.72" stop-color="#ff6868"/><stop offset="0.74" stop-color="#ff6060"/><stop offset="0.76" stop-color="#ff5859"/><stop offset="0.78" stop-color="#ff5151"/><stop offset="0.8" stop-color="#ff4949"/><stop offset="0.83" stop-color="#ff4041"/><stop offset="0.85" stop-color="#ff3738"/><stop offset="0.87" stop-color="#ff2d2e"/><stop offset="0.89" stop-color="#ff2123"/><stop offset="0.91" stop-color="#ff0f12"/><stop offset="0.93" stop-color="#ff0004"/><stop offset="0.96" stop-color="#ff0004"/><stop offset="0.98" stop-color="#ff0004"/><stop offset="1" stop-color="#ff0004"/></linearGradient>
<linearGradient id="r50" x1="229" x2="370" y1="0" y2="0" gradientUnits="userSpaceOnUse"><stop offset="0" stop-color="#00fdff"/><stop offset="0.02" stop-color="#00fdff"/><stop offset="0.04" stop-color="#00fdff"/><stop offset="0.06" stop-color="#00fcff"/><stop offset="0.09" stop-color="#00fcff"/><stop offset="0.11" stop-color="#00fcff"/><stop offset="0.13" stop-color="#00fcff"/><stop offset="0.15" stop-color="#00fcff"/><stop offset="0.17" stop-color="#00fbff"/><stop offset="0.19" stop-color="#00fbff"/><stop offset="0.21" stop-color="#00faff"/><stop offset="0.23" stop-color="#00faff"/><stop offset="0.26" stop-color="#00f9ff"/><stop offset="0.28" stop-color="#00f9ff"/><stop offset="0.3" stop-color="#00f7ff"/><stop offset="0.32" stop-color="#58f7ff"/><stop offset="0.34" stop-color="#85f7ff"/><stop offset="0.36" stop-color="#a7f6ff"/><stop offset="0.38" stop-color="#c3f6ff"/><stop offset="0.4" stop-color="#ddf5ff"/><stop offset="0.43" stop-color="#f5f5ff"/><stop offset="0.45" stop-color="#ffe9f3"/><stop offset="0.47" stop-color="#ffd6e0"/><stop offset="0.49" stop-color="#ffc6d0"/><stop offset="0.51" stop-color="#ffb8c1"/><stop offset="0.53" stop-color="#ffabb5"/><stop offset="0.55" stop-color="#ffa0a9"/><stop offset="0.57" stop-color="#ff959f"/><stop offset="0.6" stop-color="#ff8c95"/><stop offset="0.62" stop-color="#ff828c"/><stop offset="0.64" stop-color="#ff7a84"/><stop offset="0.66" stop-color="#ff717c"/><stop offset="0.68" stop-color="#ff6974"/><stop offset="0.7" stop-color="#ff616c"/><stop offset="0.72" stop-color="#ff5965"/><stop offset="0.74" stop-color="#ff515d"/><stop offset="0.77" stop-color="#ff4856"/><stop offset="0.79" stop-color="#ff3f4e"/><stop offset="0.81" stop-color="#ff3646"/><stop offset="0.83" stop-color="#ff2b3e"/><stop offset="0.85" stop-color="#ff1e36"/><stop offset="0.87" stop-color="#ff082c"/><stop offset="0.89" stop-color="#ff0029"/><stop offset="0.91" stop-color="#ff0028"/><stop offset="0.94" stop-color="#ff0027"/><stop offset="0.96" stop-color="#ff0026"/><stop offset="0.98" stop-color="#ff0025"/><stop offset="1" stop-color="#ff0025"/></linearGradient>
<linearGradient id="r51" x1="229" x2="373" y1="0" y2="0" gradientUnits="userSpaceOnUse"><stop offset="0" stop-color="#00faff"/><stop offset="0.02" stop-color="#00faff"/><stop offset="0.04" stop-color="#00faff"/><stop offset="0.06" stop-color="#00f9ff"/><stop offset="0.08" stop-color="#00f9ff"/><stop offset="0.1" stop-color="#00f9ff"/><stop offset="0.12" stop-color="#00f8ff"/><stop offset="0.15" stop-color="#00f8ff"/><stop offset="0.17" stop-color="#00f7ff"/><stop offset="0.19" stop-color="#00f6ff"/><stop offset="0.21" stop-color="#00f5ff"/><stop offset="0.23" stop-color="#00f4ff"/><stop offset="0.25" stop-color="#00f3ff"/><stop offset="0.27" stop-color="#00f1ff"/><stop offset="0.29" stop-color="#00efff"/><stop offset="0.31" stop-color="#60eeff"/><stop offset="0.33" stop-color="#8aeeff"/><stop offset="0.35" stop-color="#aaedff"/><stop offset="0.38" stop-color="#c5ecff"/><stop offset="0.4" stop-color="#ddebff"/><stop offset="0.42" stop-color="#f4ebff"/><stop offset="0.44" stop-color="#ffdff4"/><stop offset="0.46" stop-color="#ffcde1"/><stop offset="0.48" stop-color="#ffbed1"/><stop offset="0.5" stop-color="#ffb0c4"/><stop offset="0.52" stop-color="#ffa4b7"/><stop offset="0.54" stop-color="#ff99ac"/><stop offset="0.56" stop-color="#ff8ea2"/><stop offset="0.58" stop-color="#ff8498"/><stop offset="0.6" stop-color="#ff7b8f"/><stop offset="0.62" stop-color="#ff7287"/><stop offset="0.65" stop-color="#ff6a7f"/><stop offset="0.67" stop-color="#ff6177"/><stop offset="0.69" stop-color="#ff5970"/><stop offset="0.71" stop-color="#ff5068"/><stop offset="0.73" stop-color="#ff4861"/><stop offset="0.75" stop-color="#ff3f5a"/><stop offset="0.77" stop-color="#ff3553"/><stop offset="0.79" stop-color="#ff294b"/><stop offset="0.81" stop-color="#ff1a44"/><stop offset="0.83" stop-color="#ff003c"/><stop offset="0.85" stop-color="#ff003b"/><stop offset="0.88" stop-color="#ff0039"/><stop offset="0.9" stop-color="#ff0038"/><stop offset="0.92" stop-color="#ff0037"/><stop offset="0.94" stop-color="#ff0036"/><stop offset="0.96" stop-color="#ff0035"/><stop offset="0.98" stop-color="#ff0034"/><stop offset="1" stop-color="#ff0033"/></linearGradient>
<linearGradient id="r52" x1="229" x2="373" y1="0" y2="0" gradientUnits="userSpaceOnUse"><stop offset="0" stop-color="#00f8ff"/><stop offset="0.02" stop-color="#00f7ff"/><stop offset="0.04" stop-color="#00f7ff"/><stop offset="0.06" stop-color="#00f6ff"/><stop offset="0.08" stop-color="#00f6ff"/><stop offset="0.1" stop-color="#00f5ff"/><stop offset="0.12" stop-color="#00f5ff"/><stop offset="0.15" stop-color="#00f4ff"/><stop offset="0.17" stop-color="#00f3ff"/><stop offset="0.19" stop-color="#00f2ff"/><stop offset="0.21" stop-color="#00f0ff"/><stop offset="0.23" stop-color="#00efff"/><stop offset="0.25" stop-color="#00edff"/><stop offset="0.27" stop-color="#00eaff"/><stop offset="0.29" stop-color="#20e7ff"/><stop offset="0.31" stop-color="#68e6ff"/><stop offset="0.33" stop-color="#8ee5ff"/><stop offset="0.35" stop-color="#ace4ff"/><stop offset="0.38" stop-color="#c6e3ff"/><stop offset="0.4" stop-color="#dee2ff"/><stop offset="0.42" stop-color="#f4e0ff"/><stop offset="0.44" stop-color="#ffd6f5"/><stop offset="0.46" stop-color="#ffc5e3"/><stop offset="0.48" stop-color="#ffb6d3"/><stop offset="0.5" stop-color="#ffa8c6"/><stop offset="0.52" stop-color="#ff9cb9"/><stop offset="0.54" stop-color="#ff91ae"/><stop offset="0.56" stop-color="#ff87a4"/><stop offset="0.58" stop-color="#ff7d9b"/><stop offset="0.6" stop-color="#ff7492"/><stop offset="0.62" stop-color="#ff6b8a"/><stop offset="0.65" stop-color="#ff6282"/><stop offset="0.67" stop-color="#ff597a"/><stop offset="0.69" stop-color="#ff5073"/><stop offset="0.71" stop-color="#ff476c"/><stop offset="0.73" stop-color="#ff3e65"/><stop offset="0.75" stop-color="#ff335e"/><stop offset="0.77" stop-color="#ff2757"/><stop offset="0.79" stop-color="#ff1650"/><stop offset="0.81" stop-color="#ff004a"/><stop offset="0.83" stop-color="#ff0049"/><stop offset="0.85" stop-color="#ff0047"/><stop offset="0.88" stop-color="#ff0046"/><stop offset="0.9" stop-color="#ff0044"/><stop offset="0.92" stop-color="#ff0043"/><stop offset="0.94" stop-color="#ff0042"/><stop offset="0.96" stop-color="#ff0040"/><stop offset="0.98" stop-color="#ff003f"/><stop offset="1" stop-color="#ff003e"/></linearGradient>
<linearGradient id="r53" x1="233" x2="375" y1="0" y2="0" gradientUnits="userSpaceOnUse"><stop offset="0" stop-color="#00f4ff"/><stop offset="0.02" stop-color="#00f4ff"/><stop offset="0.04" stop-color="#00f3ff"/><stop offset="0.06" stop-color="#00f2ff"/><stop offset="0.09" stop-color="#00f1ff"/><stop offset="0.11" stop-color="#00f0ff"/><stop offset="0.13" stop-color="#00efff"/><stop offset="0.15" stop-color="#00eeff"/><stop offset="0.17" stop-color="#00ecff"/><stop offset="0.19" stop-color="#00eaff"/><stop offset="0.21" stop-color="#00e8ff"/><stop offset="0.23" stop-color="#00e5ff"/><stop offset="0.26" stop-color="#00e1ff"/><stop offset="0.28" stop-color="#53deff"/><stop offset="0.3" stop-color="#7fddff"/><stop offset="0.32" stop-color="#9fdcff"/><stop offset="0.34" stop-color="#badaff"/><stop offset="0.36" stop-color="#d2d9ff"/><stop offset="0.38" stop-color="#e8d7ff"/><stop offset="0.4" stop-color="#fed5ff"/><stop offset="0.43" stop-color="#ffc4ed"/><stop offset="0.45" stop-color="#ffb5dd"/><stop offset="0.47" stop-color="#ffa7ce"/><stop offset="0.49" stop-color="#ff9ac1"/><stop offset="0.51" stop-color="#ff8fb6"/><stop offset="0.53" stop-color="#ff84ab"/><stop offset="0.55" stop-color="#ff7aa2"/><stop offset="0.57" stop-color="#ff7099"/><stop offset="0.6" stop-color="#ff6790"/><stop offset="0.62" stop-color="#ff5e88"/><stop offset="0.64" stop-color="#ff5481"/><stop offset="0.66" stop-color="#ff4b79"/><stop offset="0.68" stop-color="#ff4172"/><stop offset="0.7" stop-color="#ff366b"/><stop offset="0.72" stop-color="#ff2a65"/><stop offset="0.74" stop-color="#ff1a5e"/><stop offset="0.77" stop-color="#ff0058"/><stop offset="0.79" stop-color="#ff0056"/><stop offset="0.81" stop-color="#ff0054"/><stop offset="0.83" stop-color="#ff0052"/><stop offset="0.85" stop-color="#ff0050"/><stop offset="0.87" stop-color="#ff004e"/><stop offset="0.89" stop-color="#ff004d"/><stop offset="0.91" stop-color="#ff004b"/><stop offset="0.94" stop-color="#ff004a"/><stop offset="0.96" stop-color="#ff0049"/><stop offset="0.98" stop-color="#ff0047"/><stop offset="1" stop-color="#ff0046"/></linearGradient>
<linearGradient id="r54" x1="233" x2="377" y1="0" y2="0" gradientUnits="userSpaceOnUse"><stop offset="0" stop-color="#00f2ff"/><stop offset="0.02" stop-color="#00f1ff"/><stop offset="0.04" stop-color="#00f0ff"/><stop offset="0.06" stop-color="#00efff"/><stop offset="0.08" stop-color="#00eeff"/><stop offset="0.1" stop-color="#00edff"/><stop offset="0.12" stop-color="#00ebff"/><stop offset="0.15" stop-color="#00e9ff"/><stop offset="0.17" stop-color="#00e7ff"/><stop offset="0.19" stop-color="#00e5ff"/><stop offset="0.21" stop-color="#00e2ff"/><stop offset="0.23" stop-color="#00deff"/><stop offset="0.25" stop-color="#00d9ff"/><stop offset="0.27" stop-color="#57d6ff"/><stop offset="0.29" stop-color="#80d5ff"/><stop offset="0.31" stop-color="#9fd3ff"/><stop offset="0.33" stop-color="#b9d2ff"/><stop offset="0.35" stop-color="#d0d0ff"/><stop offset="0.38" stop-color="#e6ceff"/><stop offset="0.4" stop-color="#faccff"/><stop offset="0.42" stop-color="#ffbef1"/><stop offset="0.44" stop-color="#ffaee0"/><stop offset="0.46" stop-color="#ffa0d2"/><stop offset="0.48" stop-color="#ff94c5"/><stop offset="0.5" stop-color="#ff89ba"/><stop offset="0.52" stop-color="#ff7eaf"/><stop offset="0.54" stop-color="#ff74a6"/><stop offset="0.56" stop-color="#ff6a9d"/><stop offset="0.58" stop-color="#ff6095"/><stop offset="0.6" stop-color="#ff578d"/><stop offset="0.62" stop-color="#ff4d85"/><stop offset="0.65" stop-color="#ff437e"/><stop offset="0.67" stop-color="#ff3877"/><stop offset="0.69" stop-color="#ff2b70"/><stop offset="0.71" stop-color="#ff1b6a"/><stop offset="0.73" stop-color="#ff0064"/><stop offset="0.75" stop-color="#ff0061"/><stop offset="0.77" stop-color="#ff005f"/><stop offset="0.79" stop-color="#ff005d"/><stop offset="0.81" stop-color="#ff005b"/><stop offset="0.83" stop-color="#ff0059"/><stop offset="0.85" stop-color="#ff0057"/><stop offset="0.88" stop-color="#ff0055"/><stop offset="0.9" stop-color="#ff0054"/><stop offset="0.92" stop-color="#ff0052"/><stop offset="0.94" stop-color="#ff0051"/><stop offset="0.96" stop-color="#ff004f"/><stop offset="0.98" stop-color="#ff004e"/><stop offset="1" stop-color="#ff004d"/></linearGradient>
<linearGradient id="r55" x1="233" x2="377" y1="0" y2="0" gradientUnits="userSpaceOnUse"><stop offset="0" stop-color="#00efff"/><stop offset="0.02" stop-color="#00eeff"/><stop offset="0.04" stop-color="#00edff"/><stop offset="0.06" stop-color="#00ecff"/><stop offset="0.08" stop-color="#00eaff"/><stop offset="0.1" stop-color="#00e9ff"/><stop offset="0.12" stop-color="#00e7ff"/><stop offset="0.15" stop-color="#00e5ff"/><stop offset="0.17" stop-color="#00e2ff"/><stop offset="0.19" stop-color="#00dfff"/><stop offset="0.21" stop-color="#00dbff"/><stop offset="0.23" stop-color="#00d6ff"/><stop offset="0.25" stop-color="#0bd0ff"/><stop offset="0.27" stop-color="#5fceff"/><stop offset="0.29" stop-color="#85cdff"/><stop offset="0.31" stop-color="#a2cbff"/><stop offset="0.33" stop-color="#bac9ff"/><stop offset="0.35" stop-color="#d1c7ff"/><stop offset="0.38" stop-color="#e6c4ff"/><stop offset="0.4" stop-color="#fac1ff"/><stop offset="0.42" stop-color="#ffb4f2"/><stop offset="0.44" stop-color="#ffa5e2"/><stop offset="0.46" stop-color="#ff98d3"/><stop offset="0.48" stop-color="#ff8bc7"/><stop offset="0.5" stop-color="#ff80bc"/><stop offset="0.52" stop-color="#ff75b1"/><stop offset="0.54" stop-color="#ff6ba8"/><stop offset="0.56" stop-color="#ff619f"/><stop offset="0.58" stop-color="#ff5797"/><stop offset="0.6" stop-color="#ff4d8f"/><stop offset="0.62" stop-color="#ff4288"/><stop offset="0.65" stop-color="#ff3681"/><stop offset="0.67" stop-color="#ff297a"/><stop offset="0.69" stop-color="#ff1673"/><stop offset="0.71" stop-color="#ff006e"/><stop offset="0.73" stop-color="#ff006b"/><stop offset="0.75" stop-color="#ff0069"/><stop offset="0.77" stop-color="#ff0066"/><stop offset="0.79" stop-color="#ff0064"/><stop offset="0.81" stop-color="#ff0062"/><stop offset="0.83" stop-color="#ff0060"/><stop offset="0.85" stop-color="#ff005e"/><stop offset="0.88" stop-color="#ff005c"/><stop offset="0.9" stop-color="#ff005b"/><stop offset="0.92" stop-color="#ff0059"/><stop offset="0.94" stop-color="#ff0058"/><stop offset="0.96" stop-color="#ff0056"/><stop offset="0.98" stop-color="#ff0055"/><stop offset="1" stop-color="#ff0053"/></linearGradient>
<linearGradient id="r56" x1="233" x2="377" y1="0" y2="0" gradientUnits="userSpaceOnUse"><stop offset="0" stop-color="#00ecff"/><stop offset="0.02" stop-color="#00ebff"/><stop offset="0.04" stop-color="#00eaff"/><stop offset="0.06" stop-color="#00e8ff"/><stop offset="0.08" stop-color="#00e7ff"/><stop offset="0.1" stop-color="#00e5ff"/><stop offset="0.12" stop-color="#00e3ff"/><stop offset="0.15" stop-color="#00e0ff"/><stop offset="0.17" stop-color="#00ddff"/><stop offset="0.19" stop-color="#00d9ff"/><stop offset="0.21" stop-color="#00d5ff"/><stop offset="0.23" stop-color="#00cfff"/><stop offset="0.25" stop-color="#2bc8ff"/><stop offset="0.27" stop-color="#66c7ff"/><stop offset="0.29" stop-color="#89c4ff"/><stop offset="0.31" stop-color="#a4c2ff"/><stop offset="0.33" stop-color="#bcc0ff"/><stop offset="0.35" stop-color="#d2bdff"/><stop offset="0.38" stop-color="#e6baff"/><stop offset="0.4" stop-color="#f9b7ff"/><stop offset="0.42" stop-color="#ffabf2"/><stop offset="0.44" stop-color="#ff9ce3"/><stop offset="0.46" stop-color="#ff8fd5"/><stop offset="0.48" stop-color="#ff83c9"/><stop offset="0.5" stop-color="#ff77be"/><stop offset="0.52" stop-color="#ff6cb3"/><stop offset="0.54" stop-color="#ff61aa"/><stop offset="0.56" stop-color="#ff57a1"/><stop offset="0.58" stop-color="#ff4c99"/><stop offset="0.6" stop-color="#ff4192"/><stop offset="0.62" stop-color="#ff358a"/><stop offset="0.65" stop-color="#ff2683"/><stop offset="0.67" stop-color="#ff0f7d"/><stop offset="0.69" stop-color="#ff0078"/><stop offset="0.71" stop-color="#ff0075"/><stop offset="0.73" stop-color="#ff0072"/><stop offset="0.75" stop-color="#ff006f"/><stop offset="0.77" stop-color="#ff006d"/><stop offset="0.79" stop-color="#ff006b"/><stop offset="0.81" stop-color="#ff0068"/><stop offset="0.83" stop-color="#ff0066"/><stop offset="0.85" stop-color="#ff0064"/><stop offset="0.88" stop-color="#ff0062"/><stop offset="0.9" stop-color="#ff0061"/><stop offset="0.92" stop-color="#ff005f"/><stop offset="0.94" stop-color="#ff005e"/><stop offset="0.96" stop-color="#ff005c"/><stop offset="0.98" stop-color="#ff005b"/><stop offset="1" stop-color="#ff0059"/></linearGradient>
<linearGradient id="r57" x1="233" x2="377" y1="0" y2="0" gradientUnits="userSpaceOnUse"><stop offset="0" stop-color="#00e9ff"/><stop offset="0.02" stop-color="#00e8ff"/><stop offset="0.04" stop-color="#00e6ff"/><stop offset="0.06" stop-color="#00e5ff"/><stop offset="0.08" stop-color="#00e3ff"/><stop offset="0.1" stop-color="#00e1ff"/><stop offset="0.12" stop-color="#00deff"/><stop offset="0.15" stop-color="#00dbff"/><stop offset="0.17" stop-color="#00d8ff"/><stop offset="0.19" stop-color="#00d3ff"/><stop offset="0.21" stop-color="#00ceff"/><stop offset="0.23" stop-color="#00c7ff"/><stop offset="0.25" stop-color="#3ac1ff"/><stop offset="0.27" stop-color="#6cbeff"/><stop offset="0.29" stop-color="#8cbcff"/><stop offset="0.31" stop-color="#a6baff"/><stop offset="0.33" stop-color="#bdb7ff"/><stop offset="0.35" stop-color="#d2b4ff"/><stop offset="0.38" stop-color="#e6b0ff"/><stop offset="0.4" stop-color="#f9adff"/><stop offset="0.42" stop-color="#ffa1f3"/><stop offset="0.44" stop-color="#ff93e4"/><stop offset="0.46" stop-color="#ff85d6"/><stop offset="0.48" stop-color="#ff79ca"/><stop offset="0.5" stop-color="#ff6ebf"/><stop offset="0.52" stop-color="#ff62b5"/><stop offset="0.54" stop-color="#ff57ac"/><stop offset="0.56" stop-color="#ff4ca4"/><stop offset="0.58" stop-color="#ff409c"/><stop offset="0.6" stop-color="#ff3394"/><stop offset="0.62" stop-color="#ff228d"/><stop offset="0.65" stop-color="#ff0586"/><stop offset="0.67" stop-color="#ff0082"/><stop offset="0.69" stop-color="#ff007e"/><stop offset="0.71" stop-color="#ff007b"/><stop offset="0.73" stop-color="#ff0078"/><stop offset="0.75" stop-color="#ff0075"/><stop offset="0.77" stop-color="#ff0073"/><stop offset="0.79" stop-color="#ff0070"/><stop offset="0.81" stop-color="#ff006e"/><stop offset="0.83" stop-color="#ff006c"/><stop offset="0.85" stop-color="#ff006a"/><stop offset="0.88" stop-color="#ff0068"/><stop offset="0.9" stop-color="#ff0066"/><stop offset="0.92" stop-color="#ff0065"/><stop offset="0.94" stop-color="#ff0063"/><stop offset="0.96" stop-color="#ff0061"/><stop offset="0.98" stop-color="#ff0060"/><stop offset="1" stop-color="#ff005e"/></linearGradient>
<linearGradient id="r58" x1="233" x2="377" y1="0" y2="0" gradientUnits="userSpaceOnUse"><stop offset="0" stop-color="#00e6ff"/><stop offset="0.02" stop-color="#00e5ff"/><stop offset="0.04" stop-color="#00e3ff"/><stop offset="0.06" stop-color="#00e1ff"/><stop offset="0.08" stop-color="#00dfff"/><stop offset="0.1" stop-color="#00ddff"/><stop offset="0.12" stop-color="#00daff"/><stop offset="0.15" stop-color="#00d6ff"/><stop offset="0.17" stop-color="#00d2ff"/><stop offset="0.19" stop-color="#00cdff"/><stop offset="0.21" stop-color="#00c7ff"/><stop offset="0.23" stop-color="#00beff"/><stop offset="0.25" stop-color="#46b9ff"/><stop offset="0.27" stop-color="#71b6ff"/><stop offset="0.29" stop-color="#90b4ff"/><stop offset="0.31" stop-color="#a9b1ff"/><stop offset="0.33" stop-color="#bfaeff"/><stop offset="0.35" stop-color="#d3aaff"/><stop offset="0.38" stop-color="#e6a6ff"/><stop offset="0.4" stop-color="#f8a2ff"/><stop offset="0.42" stop-color="#ff97f4"/><stop offset="0.44" stop-color="#ff89e5"/><stop offset="0.46" stop-color="#ff7cd8"/><stop offset="0.48" stop-color="#ff6fcc"/><stop offset="0.5" stop-color="#ff63c1"/><stop offset="0.52" stop-color="#ff57b7"/><stop offset="0.54" stop-color="#ff4bae"/><stop offset="0.56" stop-color="#ff3fa6"/><stop offset="0.58" stop-color="#ff309e"/><stop offset="0.6" stop-color="#ff1e96"/><stop offset="0.62" stop-color="#ff0090"/><stop offset="0.65" stop-color="#ff008b"/><stop offset="0.67" stop-color="#ff0087"/><stop offset="0.69" stop-color="#ff0084"/><stop offset="0.71" stop-color="#ff0081"/><stop offset="0.73" stop-color="#ff007e"/><stop offset="0.75" stop-color="#ff007b"/><stop offset="0.77" stop-color="#ff0078"/><stop offset="0.79" stop-color="#ff0076"/><stop offset="0.81" stop-color="#ff0073"/><stop offset="0.83" stop-color="#ff0071"/><stop offset="0.85" stop-color="#ff006f"/><stop offset="0.88" stop-color="#ff006d"/><stop offset="0.9" stop-color="#ff006b"/><stop offset="0.92" stop-color="#ff006a"/><stop offset="0.94" stop-color="#ff0068"/><stop offset="0.96" stop-color="#ff0066"/><stop offset="0.98" stop-color="#ff0065"/><stop offset="1" stop-color="#ff0063"/></linearGradient>
<linearGradient id="r59" x1="233" x2="377" y1="0" y2="0" gradientUnits="userSpaceOnUse"><stop offset="0" stop-color="#00e3ff"/><stop offset="0.02" stop-color="#00e2ff"/><stop offset="0.04" stop-color="#00e0ff"/><stop offset="0.06" stop-color="#00deff"/><stop offset="0.08" stop-color="#00dbff"/><stop offset="0.1" stop-color="#00d8ff"/><stop offset="0.12" stop-color="#00d5ff"/><stop offset="0.15" stop-color="#00d1ff"/><stop offset="0.17" stop-color="#00ccff"/><stop offset="0.19" stop-color="#00c7ff"/><stop offset="0.21" stop-color="#00bfff"/><stop offset="0.23" stop-color="#00b6ff"/><stop offset="0.25" stop-color="#4fb1ff"/><stop offset="0.27" stop-color="#76aeff"/><stop offset="0.29" stop-color="#93abff"/><stop offset="0.31" stop-color="#aba8ff"/><stop offset="0.33" stop-color="#c0a4ff"/><stop offset="0.35" stop-color="#d4a1ff"/><stop offset="0.38" stop-color="#e69cff"/><stop offset="0.4" stop-color="#f898ff"/><stop offset="0.42" stop-color="#ff8cf5"/><stop offset="0.44" stop-color="#ff7ee6"/><stop offset="0.46" stop-color="#ff71d9"/><stop offset="0.48" stop-color="#ff64cd"/><stop offset="0.5" stop-color="#ff58c3"/><stop offset="0.52" stop-color="#ff4bb9"/><stop offset="0.54" stop-color="#ff3db0"/><stop offset="0.56" stop-color="#ff2ea8"/><stop offset="0.58" stop-color="#ff19a0"/><stop offset="0.6" stop-color="#ff0099"/><stop offset="0.62" stop-color="#ff0095"/><stop offset="0.65" stop-color="#ff0090"/><stop offset="0.67" stop-color="#ff008d"/><stop offset="0.69" stop-color="#ff0089"/><stop offset="0.71" stop-color="#ff0086"/><stop offset="0.73" stop-color="#ff0083"/><stop offset="0.75" stop-color="#ff0080"/><stop offset="0.77" stop-color="#ff007d"/><stop offset="0.79" stop-color="#ff007a"/><stop offset="0.81" stop-color="#ff0078"/><stop offset="0.83" stop-color="#ff0076"/><stop offset="0.85" stop-color="#ff0074"/><stop offset="0.88" stop-color="#ff0072"/><stop offset="0.9" stop-color="#ff0070"/><stop offset="0.92" stop-color="#ff006e"/><stop offset="0.94" stop-color="#ff006c"/><stop offset="0.96" stop-color="#ff006b"/><stop offset="0.98" stop-color="#ff0069"/><stop offset="1" stop-color="#ff0068"/></linearGradient>
<linearGradient id="r60" x1="233" x2="377" y1="0" y2="0" gradientUnits="userSpaceOnUse"><stop offset="0" stop-color="#00e0ff"/><stop offset="0.02" stop-color="#00deff"/><stop offset="0.04" stop-color="#00dcff"/><stop offset="0.06" stop-color="#00daff"/><stop offset="0.08" stop-color="#00d7ff"/><stop offset="0.1" stop-color="#00d4ff"/><stop offset="0.12" stop-color="#00d0ff"/><stop offset="0.15" stop-color="#00ccff"/><stop offset="0.17" stop-color="#00c7ff"/><stop offset="0.19" stop-color="#00c0ff"/><stop offset="0.21" stop-color="#00b7ff"/><stop offset="0.23" stop-color="#00acff"/><stop offset="0.25" stop-color="#57a9ff"/><stop offset="0.27" stop-color="#7ba6ff"/><stop offset="0.29" stop-color="#96a3ff"/><stop offset="0.31" stop-color="#ad9fff"/><stop offset="0.33" stop-color="#c19bff"/><stop offset="0.35" stop-color="#d497ff"/><stop offset="0.38" stop-color="#e692ff"/><stop offset="0.4" stop-color="#f88cff"/><stop offset="0.42" stop-color="#ff81f6"/><stop offset="0.44" stop-color="#ff73e7"/><stop offset="0.46" stop-color="#ff65da"/><stop offset="0.48" stop-color="#ff58cf"/><stop offset="0.5" stop-color="#ff4ac4"/><stop offset="0.52" stop-color="#ff3cbb"/><stop offset="0.54" stop-color="#ff2bb2"/><stop offset="0.56" stop-color="#ff11aa"/><stop offset="0.58" stop-color="#ff00a3"/><stop offset="0.6" stop-color="#ff009e"/><stop offset="0.62" stop-color="#ff0099"/><stop offset="0.65" stop-color="#ff0095"/><stop offset="0.67" stop-color="#ff0091"/><stop offset="0.69" stop-color="#ff008e"/><stop offset="0.71" stop-color="#ff008a"/><stop offset="0.73" stop-color="#ff0087"/><stop offset="0.75" stop-color="#ff0084"/><stop offset="0.77" stop-color="#ff0081"/><stop offset="0.79" stop-color="#ff007f"/><stop offset="0.81" stop-color="#ff007d"/><stop offset="0.83" stop-color="#ff007a"/><stop offset="0.85" stop-color="#ff0078"/><stop offset="0.88" stop-color="#ff0076"/><stop offset="0.9" stop-color="#ff0074"/><stop offset="0.92" stop-color="#ff0072"/><stop offset="0.94" stop-color="#ff0071"/><stop offset="0.96" stop-color="#ff006f"/><stop offset="0.98" stop-color="#ff006d"/><stop offset="1" stop-color="#ff006c"/></linearGradient>
<linearGradient id="r61" x1="233" x2="377" y1="0" y2="0" gradientUnits="userSpaceOnUse"><stop offset="0" stop-color="#00ddff"/><stop offset="0.02" stop-color="#00dbff"/><stop offset="0.04" stop-color="#00d9ff"/><stop offset="0.06" stop-color="#00d6ff"/><stop offset="0.08" stop-color="#00d3ff"/><stop offset="0.1" stop-color="#00d0ff"/><stop offset="0.12" stop-color="#00cbff"/><stop offset="0.15" stop-color="#00c6ff"/><stop offset="0.17" stop-color="#00c0ff"/><stop offset="0.19" stop-color="#00b9ff"/><stop offset="0.21" stop-color="#00afff"/><stop offset="0.23" stop-color="#23a4ff"/><stop offset="0.25" stop-color="#5ea1ff"/><stop offset="0.27" stop-color="#7f9eff"/><stop offset="0.29" stop-color="#989aff"/><stop offset="0.31" stop-color="#ae96ff"/><stop offset="0.33" stop-color="#c291ff"/><stop offset="0.35" stop-color="#d58cff"/><stop offset="0.38" stop-color="#e687ff"/><stop offset="0.4" stop-color="#f781ff"/><stop offset="0.42" stop-color="#ff75f6"/><stop offset="0.44" stop-color="#ff67e8"/><stop offset="0.46" stop-color="#ff58dc"/><stop offset="0.48" stop-color="#ff4ad0"/><stop offset="0.5" stop-color="#ff3ac6"/><stop offset="0.52" stop-color="#ff27bc"/><stop offset="0.54" stop-color="#ff04b4"/><stop offset="0.56" stop-color="#ff00ad"/><stop offset="0.58" stop-color="#ff00a7"/><stop offset="0.6" stop-color="#ff00a2"/><stop offset="0.62" stop-color="#ff009e"/><stop offset="0.65" stop-color="#ff0099"/><stop offset="0.67" stop-color="#ff0095"/><stop offset="0.69" stop-color="#ff0092"/><stop offset="0.71" stop-color="#ff008e"/><stop offset="0.73" stop-color="#ff008b"/><stop offset="0.75" stop-color="#ff0088"/><stop offset="0.77" stop-color="#ff0086"/><stop offset="0.79" stop-color="#ff0083"/><stop offset="0.81" stop-color="#ff0081"/><stop offset="0.83" stop-color="#ff007e"/><stop offset="0.85" stop-color="#ff007c"/><stop offset="0.88" stop-color="#ff007a"/><stop offset="0.9" stop-color="#ff0078"/><stop offset="0.92" stop-color="#ff0076"/><stop offset="0.94" stop-color="#ff0074"/><stop offset="0.96" stop-color="#ff0073"/><stop offset="0.98" stop-color="#ff0071"/><stop offset="1" stop-color="#ff0070"/></linearGradient>
<linearGradient id="r62" x1="233" x2="377" y1="0" y2="0" gradientUnits="userSpaceOnUse"><stop offset="0" stop-color="#00daff"/><stop offset="0.02" stop-color="#00d8ff"/><stop offset="0.04" stop-color="#00d5ff"/><stop offset="0.06" stop-color="#00d2ff"/><stop offset="0.08" stop-color="#00cfff"/><stop offset="0.1" stop-color="#00cbff"/><stop offset="0.12" stop-color="#00c6ff"/><stop offset="0.15" stop-color="#00c1ff"/><stop offset="0.17" stop-color="#00baff"/><stop offset="0.19" stop-color="#00b2ff"/><stop offset="0.21" stop-color="#00a7ff"/><stop offset="0.23" stop-color="#349dff"/><stop offset="0.25" stop-color="#6499ff"/><stop offset="0.27" stop-color="#8295ff"/><stop offset="0.29" stop-color="#9b91ff"/><stop offset="0.31" stop-color="#b08cff"/><stop offset="0.33" stop-color="#c387ff"/><stop offset="0.35" stop-color="#d582ff"/><stop offset="0.38" stop-color="#e77bff"/><stop offset="0.4" stop-color="#f774ff"/><stop offset="0.42" stop-color="#ff68f7"/><stop offset="0.44" stop-color="#ff59e9"/><stop offset="0.46" stop-color="#ff49dd"/><stop offset="0.48" stop-color="#ff38d1"/><stop offset="0.5" stop-color="#ff23c7"/><stop offset="0.52" stop-color="#ff00be"/><stop offset="0.54" stop-color="#ff00b7"/><stop offset="0.56" stop-color="#ff00b1"/><stop offset="0.58" stop-color="#ff00ab"/><stop offset="0.6" stop-color="#ff00a6"/><stop offset="0.62" stop-color="#ff00a2"/><stop offset="0.65" stop-color="#ff009d"/><stop offset="0.67" stop-color="#ff0099"/><stop offset="0.69" stop-color="#ff0096"/><stop offset="0.71" stop-color="#ff0092"/><stop offset="0.73" stop-color="#ff008f"/><stop offset="0.75" stop-color="#ff008c"/><stop offset="0.77" stop-color="#ff0089"/><stop offset="0.79" stop-color="#ff0087"/><stop offset="0.81" stop-color="#ff0084"/><stop offset="0.83" stop-color="#ff0082"/><stop offset="0.85" stop-color="#ff0080"/><stop offset="0.88" stop-color="#ff007e"/><stop offset="0.9" stop-color="#ff007c"/><stop offset="0.92" stop-color="#ff007a"/><stop offset="0.94" stop-color="#ff0078"/><stop offset="0.96" stop-color="#ff0076"/><stop offset="0.98" stop-color="#ff0075"/><stop offset="1" stop-color="#ff0073"/></linearGradient>
<linearGradient id="r63" x1="238" x2="377" y1="0" y2="0" gradientUnits="userSpaceOnUse"><stop offset="0" stop-color="#00d3ff"/><stop offset="0.02" stop-color="#00cfff"/><stop offset="0.04" stop-color="#00ccff"/><stop offset="0.07" stop-color="#00c8ff"/><stop offset="0.09" stop-color="#00c3ff"/><stop offset="0.11" stop-color="#00bdff"/><stop offset="0.13" stop-color="#00b6ff"/><stop offset="0.15" stop-color="#00adff"/><stop offset="0.17" stop-color="#00a1ff"/><stop offset="0.2" stop-color="#2d95ff"/><stop offset="0.22" stop-color="#6092ff"/><stop offset="0.24" stop-color="#7f8dff"/><stop offset="0.26" stop-color="#9889ff"/><stop offset="0.28" stop-color="#ad84ff"/><stop offset="0.3" stop-color="#c07eff"/><stop offset="0.33" stop-color="#d278ff"/><stop offset="0.35" stop-color="#e370ff"/><stop offset="0.37" stop-color="#f368ff"/><stop offset="0.39" stop-color="#ff5dfb"/><stop offset="0.41" stop-color="#ff4ced"/><stop offset="0.43" stop-color="#ff39e0"/><stop offset="0.46" stop-color="#ff22d5"/><stop offset="0.48" stop-color="#ff00cb"/><stop offset="0.5" stop-color="#ff00c3"/><stop offset="0.52" stop-color="#ff00bc"/><stop offset="0.54" stop-color="#ff00b5"/><stop offset="0.57" stop-color="#ff00b0"/><stop offset="0.59" stop-color="#ff00aa"/><stop offset="0.61" stop-color="#ff00a6"/><stop offset="0.63" stop-color="#ff00a1"/><stop offset="0.65" stop-color="#ff009d"/><stop offset="0.67" stop-color="#ff009a"/><stop offset="0.7" stop-color="#ff0096"/><stop offset="0.72" stop-color="#ff0093"/><stop offset="0.74" stop-color="#ff0090"/><stop offset="0.76" stop-color="#ff008d"/><stop offset="0.78" stop-color="#ff008b"/><stop offset="0.8" stop-color="#ff0088"/><stop offset="0.83" stop-color="#ff0086"/><stop offset="0.85" stop-color="#ff0084"/><stop offset="0.87" stop-color="#ff0081"/><stop offset="0.89" stop-color="#ff007f"/><stop offset="0.91" stop-color="#ff007d"/><stop offset="0.93" stop-color="#ff007c"/><stop offset="0.96" stop-color="#ff007a"/><stop offset="0.98" stop-color="#ff0078"/><stop offset="1" stop-color="#ff0077"/></linearGradient>
<linearGradient id="r64" x1="238" x2="377" y1="0" y2="0" gradientUnits="userSpaceOnUse"><stop offset="0" stop-color="#00cfff"/><stop offset="0.02" stop-color="#00ccff"/><stop offset="0.04" stop-color="#00c8ff"/><stop offset="0.07" stop-color="#00c3ff"/><stop offset="0.09" stop-color="#00beff"/><stop offset="0.11" stop-color="#00b7ff"/><stop offset="0.13" stop-color="#00afff"/><stop offset="0.15" stop-color="#00a5ff"/><stop offset="0.17" stop-color="#0098ff"/><stop offset="0.2" stop-color="#3a8dff"/><stop offset="0.22" stop-color="#6689ff"/><stop offset="0.24" stop-color="#8384ff"/><stop offset="0.26" stop-color="#9a7fff"/><stop offset="0.28" stop-color="#af79ff"/><stop offset="0.3" stop-color="#c173ff"/><stop offset="0.33" stop-color="#d36bff"/><stop offset="0.35" stop-color="#e363ff"/><stop offset="0.37" stop-color="#f359ff"/><stop offset="0.39" stop-color="#ff4bfb"/><stop offset="0.41" stop-color="#ff37ed"/><stop offset="0.43" stop-color="#ff1ce1"/><stop offset="0.46" stop-color="#ff00d6"/><stop offset="0.48" stop-color="#ff00cd"/><stop offset="0.5" stop-color="#ff00c6"/><stop offset="0.52" stop-color="#ff00bf"/><stop offset="0.54" stop-color="#ff00b8"/><stop offset="0.57" stop-color="#ff00b3"/><stop offset="0.59" stop-color="#ff00ae"/><stop offset="0.61" stop-color="#ff00a9"/><stop offset="0.63" stop-color="#ff00a5"/><stop offset="0.65" stop-color="#ff00a1"/><stop offset="0.67" stop-color="#ff009d"/><stop offset="0.7" stop-color="#ff009a"/><stop offset="0.72" stop-color="#ff0096"/><stop offset="0.74" stop-color="#ff0093"/><stop offset="0.76" stop-color="#ff0091"/><stop offset="0.78" stop-color="#ff008e"/><stop offset="0.8" stop-color="#ff008b"/><stop offset="0.83" stop-color="#ff0089"/><stop offset="0.85" stop-color="#ff0087"/><stop offset="0.87" stop-color="#ff0085"/><stop offset="0.89" stop-color="#ff0083"/><stop offset="0.91" stop-color="#ff0081"/><stop offset="0.93" stop-color="#ff007f"/><stop offset="0.96" stop-color="#ff007d"/><stop offset="0.98" stop-color="#ff007b"/><stop offset="1" stop-color="#ff007a"/></linearGradient>
<linearGradient id="r65" x1="238" x2="377" y1="0" y2="0" gradientUnits="userSpaceOnUse"><stop offset="0" stop-color="#00cbff"/><stop offset="0.02" stop-color="#00c8ff"/><stop offset="0.04" stop-color="#00c3ff"/><stop offset="0.07" stop-color="#00beff"/><stop offset="0.09" stop-color="#00b9ff"/><stop offset="0.11" stop-color="#00b1ff"/><stop offset="0.13" stop-color="#00a9ff"/><stop offset="0.15" stop-color="#009dff"/><stop offset="0.17" stop-color="#008eff"/><stop offset="0.2" stop-color="#4485ff"/><stop offset="0.22" stop-color="#6a80ff"/><stop offset="0.24" stop-color="#867bff"/><stop offset="0.26" stop-color="#9c75ff"/><stop offset="0.28" stop-color="#b06eff"/><stop offset="0.3" stop-color="#c267ff"/><stop offset="0.33" stop-color="#d35eff"/><stop offset="0.35" stop-color="#e354ff"/><stop offset="0.37" stop-color="#f347ff"/><stop offset="0.39" stop-color="#ff34fc"/><stop offset="0.41" stop-color="#ff12ee"/><stop offset="0.43" stop-color="#ff00e3"/><stop offset="0.46" stop-color="#ff00d9"/><stop offset="0.48" stop-color="#ff00d0"/><stop offset="0.5" stop-color="#ff00c8"/><stop offset="0.52" stop-color="#ff00c2"/><stop offset="0.54" stop-color="#ff00bb"/><stop offset="0.57" stop-color="#ff00b6"/><stop offset="0.59" stop-color="#ff00b1"/><stop offset="0.61" stop-color="#ff00ac"/><stop offset="0.63" stop-color="#ff00a8"/><stop offset="0.65" stop-color="#ff00a4"/><stop offset="0.67" stop-color="#ff00a0"/><stop offset="0.7" stop-color="#ff009d"/><stop offset="0.72" stop-color="#ff009a"/><stop offset="0.74" stop-color="#ff0097"/><stop offset="0.76" stop-color="#ff0094"/><stop offset="0.78" stop-color="#ff0091"/><stop offset="0.8" stop-color="#ff008f"/><stop offset="0.83" stop-color="#ff008c"/><stop offset="0.85" stop-color="#ff008a"/><stop offset="0.87" stop-color="#ff0088"/><stop offset="0.89" stop-color="#ff0086"/><stop offset="0.91" stop-color="#ff0084"/><stop offset="0.93" stop-color="#ff0082"/><stop offset="0.96" stop-color="#ff0080"/><stop offset="0.98" stop-color="#ff007e"/><stop offset="1" stop-color="#ff007d"/></linearGradient>
<linearGradient id="r66" x1="238" x2="377" y1="0" y2="0" gradientUnits="userSpaceOnUse"><stop offset="0" stop-color="#00c8ff"/><stop offset="0.02" stop-color="#00c4ff"/><stop offset="0.04" stop-color="#00bfff"/><stop offset="0.07" stop-color="#00baff"/><stop offset="0.09" stop-color="#00b3ff"/><stop offset="0.11" stop-color="#00abff"/><stop offset="0.13" stop-color="#00a1ff"/><stop offset="0.15" stop-color="#0095ff"/><stop offset="0.17" stop-color="#0083ff"/><stop offset="0.2" stop-color="#4c7cff"/><stop offset="0.22" stop-color="#6f77ff"/><stop offset="0.24" stop-color="#8971ff"/><stop offset="0.26" stop-color="#9e6aff"/><stop offset="0.28" stop-color="#b262ff"/><stop offset="0.3" stop-color="#c359ff"/><stop offset="0.33" stop-color="#d44fff"/><stop offset="0.35" stop-color="#e441ff"/><stop offset="0.37" stop-color="#f32eff"/><stop offset="0.39" stop-color="#ff00fd"/><stop offset="0.41" stop-color="#ff00ef"/><stop offset="0.43" stop-color="#ff00e4"/><stop offset="0.46" stop-color="#ff00db"/><stop offset="0.48" stop-color="#ff00d2"/><stop offset="0.5" stop-color="#ff00cb"/><stop offset="0.52" stop-color="#ff00c4"/><stop offset="0.54" stop-color="#ff00be"/><stop offset="0.57" stop-color="#ff00b9"/><stop offset="0.59" stop-color="#ff00b4"/><stop offset="0.61" stop-color="#ff00af"/><stop offset="0.63" stop-color="#ff00ab"/><stop offset="0.65" stop-color="#ff00a7"/><stop offset="0.67" stop-color="#ff00a3"/><stop offset="0.7" stop-color="#ff00a0"/><stop offset="0.72" stop-color="#ff009d"/><stop offset="0.74" stop-color="#ff009a"/><stop offset="0.76" stop-color="#ff0097"/><stop offset="0.78" stop-color="#ff0094"/><stop offset="0.8" stop-color="#ff0092"/><stop offset="0.83" stop-color="#ff008f"/><stop offset="0.85" stop-color="#ff008d"/><stop offset="0.87" stop-color="#ff008b"/><stop offset="0.89" stop-color="#ff0089"/><stop offset="0.91" stop-color="#ff0087"/><stop offset="0.93" stop-color="#ff0085"/><stop offset="0.96" stop-color="#ff0083"/><stop offset="0.98" stop-color="#ff0081"/><stop offset="1" stop-color="#ff0080"/></linearGradient>
<linearGradient id="r67" x1="238" x2="377" y1="0" y2="0" gradientUnits="userSpaceOnUse"><stop offset="0" stop-color="#00c4ff"/><stop offset="0.02" stop-color="#00bfff"/><stop offset="0.04" stop-color="#00baff"/><stop offset="0.07" stop-color="#00b4ff"/><stop offset="0.09" stop-color="#00adff"/><stop offset="0.11" stop-color="#00a5ff"/><stop offset="0.13" stop-color="#009aff"/><stop offset="0.15" stop-color="#008bff"/><stop offset="0.17" stop-color="#1078ff"/><stop offset="0.2" stop-color="#5373ff"/><stop offset="0.22" stop-color="#736dff"/><stop offset="0.24" stop-color="#8c66ff"/><stop offset="0.26" stop-color="#a05eff"/><stop offset="0.28" stop-color="#b355ff"/><stop offset="0.3" stop-color="#c44aff"/><stop offset="0.33" stop-color="#d43bff"/><stop offset="0.35" stop-color="#e426ff"/><stop offset="0.37" stop-color="#f300ff"/><stop offset="0.39" stop-color="#ff00fd"/><stop offset="0.41" stop-color="#ff00f1"/><stop offset="0.43" stop-color="#ff00e6"/><stop offset="0.46" stop-color="#ff00dd"/><stop offset="0.48" stop-color="#ff00d4"/><stop offset="0.5" stop-color="#ff00cd"/><stop offset="0.52" stop-color="#ff00c7"/><stop offset="0.54" stop-color="#ff00c1"/><stop offset="0.57" stop-color="#ff00bb"/><stop offset="0.59" stop-color="#ff00b6"/><stop offset="0.61" stop-color="#ff00b2"/><stop offset="0.63" stop-color="#ff00ae"/><stop offset="0.65" stop-color="#ff00aa"/><stop offset="0.67" stop-color="#ff00a6"/><stop offset="0.7" stop-color="#ff00a3"/><stop offset="0.72" stop-color="#ff009f"/><stop offset="0.74" stop-color="#ff009c"/><stop offset="0.76" stop-color="#ff009a"/><stop offset="0.78" stop-color="#ff0097"/><stop offset="0.8" stop-color="#ff0094"/><stop offset="0.83" stop-color="#ff0092"/><stop offset="0.85" stop-color="#ff0090"/><stop offset="0.87" stop-color="#ff008d"/><stop offset="0.89" stop-color="#ff008b"/><stop offset="0.91" stop-color="#ff0089"/><stop offset="0.93" stop-color="#ff0087"/><stop offset="0.96" stop-color="#ff0086"/><stop offset="0.98" stop-color="#ff0084"/><stop offset="1" stop-color="#ff0082"/></linearGradient>
<linearGradient id="r68" x1="238" x2="377" y1="0" y2="0" gradientUnits="userSpaceOnUse"><stop offset="0" stop-color="#00c0ff"/><stop offset="0.02" stop-color="#00bbff"/><stop offset="0.04" stop-color="#00b6ff"/><stop offset="0.07" stop-color="#00afff"/><stop offset="0.09" stop-color="#00a7ff"/><stop offset="0.11" stop-color="#009eff"/><stop offset="0.13" stop-color="#0092ff"/><stop offset="0.15" stop-color="#0081ff"/><stop offset="0.17" stop-color="#276fff"/><stop offset="0.2" stop-color="#5969ff"/><stop offset="0.22" stop-color="#7762ff"/><stop offset="0.24" stop-color="#8e5aff"/><stop offset="0.26" stop-color="#a250ff"/><stop offset="0.28" stop-color="#b445ff"/><stop offset="0.3" stop-color="#c535ff"/><stop offset="0.33" stop-color="#d51dff"/><stop offset="0.35" stop-color="#e400ff"/><stop offset="0.37" stop-color="#f300ff"/><stop offset="0.39" stop-color="#ff00fe"/><stop offset="0.41" stop-color="#ff00f2"/><stop offset="0.43" stop-color="#ff00e7"/><stop offset="0.46" stop-color="#ff00de"/><stop offset="0.48" stop-color="#ff00d6"/><stop offset="0.5" stop-color="#ff00cf"/><stop offset="0.52" stop-color="#ff00c9"/><stop offset="0.54" stop-color="#ff00c3"/><stop offset="0.57" stop-color="#ff00be"/><stop offset="0.59" stop-color="#ff00b9"/><stop offset="0.61" stop-color="#ff00b4"/><stop offset="0.63" stop-color="#ff00b0"/><stop offset="0.65" stop-color="#ff00ac"/><stop offset="0.67" stop-color="#ff00a9"/><stop offset="0.7" stop-color="#ff00a5"/><stop offset="0.72" stop-color="#ff00a2"/><stop offset="0.74" stop-color="#ff009f"/><stop offset="0.76" stop-color="#ff009c"/><stop offset="0.78" stop-color="#ff0099"/><stop offset="0.8" stop-color="#ff0097"/><stop offset="0.83" stop-color="#ff0095"/><stop offset="0.85" stop-color="#ff0092"/><stop offset="0.87" stop-color="#ff0090"/><stop offset="0.89" stop-color="#ff008e"/><stop offset="0.91" stop-color="#ff008c"/><stop offset="0.93" stop-color="#ff008a"/><stop offset="0.96" stop-color="#ff0088"/><stop offset="0.98" stop-color="#ff0086"/><stop offset="1" stop-color="#ff0085"/></linearGradient>
<linearGradient id="r69" x1="243" x2="377" y1="0" y2="0" gradientUnits="userSpaceOnUse"><stop offset="0" stop-color="#00b3ff"/><stop offset="0.02" stop-color="#00acff"/><stop offset="0.05" stop-color="#00a4ff"/><stop offset="0.07" stop-color="#009aff"/><stop offset="0.09" stop-color="#008eff"/><stop offset="0.11" stop-color="#007dff"/><stop offset="0.14" stop-color="#1c67ff"/><stop offset="0.16" stop-color="#5560ff"/><stop offset="0.18" stop-color="#7358ff"/><stop offset="0.2" stop-color="#8b4fff"/><stop offset="0.23" stop-color="#9f43ff"/><stop offset="0.25" stop-color="#b134ff"/><stop offset="0.27" stop-color="#c21cff"/><stop offset="0.3" stop-color="#d200ff"/><stop offset="0.32" stop-color="#e200ff"/><stop offset="0.34" stop-color="#f000ff"/><stop offset="0.36" stop-color="#fd00ff"/><stop offset="0.39" stop-color="#ff00f5"/><stop offset="0.41" stop-color="#ff00eb"/><stop offset="0.43" stop-color="#ff00e2"/><stop offset="0.45" stop-color="#ff00da"/><stop offset="0.48" stop-color="#ff00d2"/><stop offset="0.5" stop-color="#ff00cc"/><stop offset="0.52" stop-color="#ff00c6"/><stop offset="0.55" stop-color="#ff00c1"/><stop offset="0.57" stop-color="#ff00bc"/><stop offset="0.59" stop-color="#ff00b7"/><stop offset="0.61" stop-color="#ff00b3"/><stop offset="0.64" stop-color="#ff00af"/><stop offset="0.66" stop-color="#ff00ab"/><stop offset="0.68" stop-color="#ff00a8"/><stop offset="0.7" stop-color="#ff00a5"/><stop offset="0.73" stop-color="#ff00a2"/><stop offset="0.75" stop-color="#ff009f"/><stop offset="0.77" stop-color="#ff009c"/><stop offset="0.8" stop-color="#ff009a"/><stop offset="0.82" stop-color="#ff0097"/><stop offset="0.84" stop-color="#ff0095"/><stop offset="0.86" stop-color="#ff0093"/><stop offset="0.89" stop-color="#ff0091"/><stop offset="0.91" stop-color="#ff008f"/><stop offset="0.93" stop-color="#ff008d"/><stop offset="0.95" stop-color="#ff008b"/><stop offset="0.98" stop-color="#ff0089"/><stop offset="1" stop-color="#ff0087"/></linearGradient>
<linearGradient id="r70" x1="243" x2="377" y1="0" y2="0" gradientUnits="userSpaceOnUse"><stop offset="0" stop-color="#00aeff"/><stop offset="0.02" stop-color="#00a7ff"/><stop offset="0.05" stop-color="#009eff"/><stop offset="0.07" stop-color="#0093ff"/><stop offset="0.09" stop-color="#0085ff"/><stop offset="0.11" stop-color="#0071ff"/><stop offset="0.14" stop-color="#2c5cff"/><stop offset="0.16" stop-color="#5a54ff"/><stop offset="0.18" stop-color="#774aff"/><stop offset="0.2" stop-color="#8d3fff"/><stop offset="0.23" stop-color="#a12fff"/><stop offset="0.25" stop-color="#b312ff"/><stop offset="0.27" stop-color="#c400ff"/><stop offset="0.3" stop-color="#d400ff"/><stop offset="0.32" stop-color="#e300ff"/><stop offset="0.34" stop-color="#f000ff"/><stop offset="0.36" stop-color="#fd00ff"/><stop offset="0.39" stop-color="#ff00f6"/><stop offset="0.41" stop-color="#ff00ec"/><stop offset="0.43" stop-color="#ff00e3"/><stop offset="0.45" stop-color="#ff00db"/><stop offset="0.48" stop-color="#ff00d4"/><stop offset="0.5" stop-color="#ff00ce"/><stop offset="0.52" stop-color="#ff00c8"/><stop offset="0.55" stop-color="#ff00c3"/><stop offset="0.57" stop-color="#ff00be"/><stop offset="0.59" stop-color="#ff00b9"/><stop offset="0.61" stop-color="#ff00b5"/><stop offset="0.64" stop-color="#ff00b1"/><stop offset="0.66" stop-color="#ff00ae"/><stop offset="0.68" stop-color="#ff00aa"/><stop offset="0.7" stop-color="#ff00a7"/><stop offset="0.73" stop-color="#ff00a4"/><stop offset="0.75" stop-color="#ff00a1"/><stop offset="0.77" stop-color="#ff009f"/><stop offset="0.8" stop-color="#ff009c"/><stop offset="0.82" stop-color="#ff009a"/><stop offset="0.84" stop-color="#ff0097"/><stop offset="0.86" stop-color="#ff0095"/><stop offset="0.89" stop-color="#ff0093"/><stop offset="0.91" stop-color="#ff0091"/><stop offset="0.93" stop-color="#ff008f"/><stop offset="0.95" stop-color="#ff008d"/><stop offset="0.98" stop-color="#ff008b"/><stop offset="1" stop-color="#ff008a"/></linearGradient>
<linearGradient id="r71" x1="243" x2="377" y1="0" y2="0" gradientUnits="userSpaceOnUse"><stop offset="0" stop-color="#00a9ff"/><stop offset="0.02" stop-color="#00a1ff"/><stop offset="0.05" stop-color="#0098ff"/><stop offset="0.07" stop-color="#008cff"/><stop offset="0.09" stop-color="#007cff"/><stop offset="0.11" stop-color="#0065ff"/><stop offset="0.14" stop-color="#3850ff"/><stop offset="0.16" stop-color="#5f46ff"/><stop offset="0.18" stop-color="#7a3aff"/><stop offset="0.2" stop-color="#9029ff"/><stop offset="0.23" stop-color="#a301ff"/><stop offset="0.25" stop-color="#b600ff"/><stop offset="0.27" stop-color="#c700ff"/><stop offset="0.3" stop-color="#d600ff"/><stop offset="0.32" stop-color="#e400ff"/><stop offset="0.34" stop-color="#f100ff"/><stop offset="0.36" stop-color="#fd00ff"/><stop offset="0.39" stop-color="#ff00f6"/><stop offset="0.41" stop-color="#ff00ed"/><stop offset="0.43" stop-color="#ff00e4"/><stop offset="0.45" stop-color="#ff00dd"/><stop offset="0.48" stop-color="#ff00d6"/><stop offset="0.5" stop-color="#ff00d0"/><stop offset="0.52" stop-color="#ff00ca"/><stop offset="0.55" stop-color="#ff00c5"/><stop offset="0.57" stop-color="#ff00c0"/><stop offset="0.59" stop-color="#ff00bc"/><stop offset="0.61" stop-color="#ff00b7"/><stop offset="0.64" stop-color="#ff00b4"/><stop offset="0.66" stop-color="#ff00b0"/><stop offset="0.68" stop-color="#ff00ad"/><stop offset="0.7" stop-color="#ff00a9"/><stop offset="0.73" stop-color="#ff00a6"/><stop offset="0.75" stop-color="#ff00a4"/><stop offset="0.77" stop-color="#ff00a1"/><stop offset="0.8" stop-color="#ff009e"/><stop offset="0.82" stop-color="#ff009c"/><stop offset="0.84" stop-color="#ff009a"/><stop offset="0.86" stop-color="#ff0097"/><stop offset="0.89" stop-color="#ff0095"/><stop offset="0.91" stop-color="#ff0093"/><stop offset="0.93" stop-color="#ff0091"/><stop offset="0.95" stop-color="#ff008f"/><stop offset="0.98" stop-color="#ff008e"/><stop offset="1" stop-color="#ff008c"/></linearGradient>
<linearGradient id="r72" x1="243" x2="377" y1="0" y2="0" gradientUnits="userSpaceOnUse"><stop offset="0" stop-color="#00a4ff"/><stop offset="0.02" stop-color="#009cff"/><stop offset="0.05" stop-color="#0091ff"/><stop offset="0.07" stop-color="#0084ff"/><stop offset="0.09" stop-color="#0071ff"/><stop offset="0.11" stop-color="#0055ff"/><stop offset="0.14" stop-color="#4142ff"/><stop offset="0.16" stop-color="#6435ff"/><stop offset="0.18" stop-color="#7d22ff"/><stop offset="0.2" stop-color="#9300ff"/><stop offset="0.23" stop-color="#a800ff"/><stop offset="0.25" stop-color="#b900ff"/><stop offset="0.27" stop-color="#c900ff"/><stop offset="0.3" stop-color="#d800ff"/><stop offset="0.32" stop-color="#e500ff"/><stop offset="0.34" stop-color="#f100ff"/><stop offset="0.36" stop-color="#fc00ff"/><stop offset="0.39" stop-color="#ff00f7"/><stop offset="0.41" stop-color="#ff00ee"/><stop offset="0.43" stop-color="#ff00e6"/><stop offset="0.45" stop-color="#ff00de"/><stop offset="0.48" stop-color="#ff00d7"/><stop offset="0.5" stop-color="#ff00d1"/><stop offset="0.52" stop-color="#ff00cc"/><stop offset="0.55" stop-color="#ff00c7"/><stop offset="0.57" stop-color="#ff00c2"/><stop offset="0.59" stop-color="#ff00be"/><stop offset="0.61" stop-color="#ff00b9"/><stop offset="0.64" stop-color="#ff00b6"/><stop offset="0.66" stop-color="#ff00b2"/><stop offset="0.68" stop-color="#ff00af"/><stop offset="0.7" stop-color="#ff00ac"/><stop offset="0.73" stop-color="#ff00a9"/><stop offset="0.75" stop-color="#ff00a6"/><stop offset="0.77" stop-color="#ff00a3"/><stop offset="0.8" stop-color="#ff00a0"/><stop offset="0.82" stop-color="#ff009e"/><stop offset="0.84" stop-color="#ff009c"/><stop offset="0.86" stop-color="#ff0099"/><stop offset="0.89" stop-color="#ff0097"/><stop offset="0.91" stop-color="#ff0095"/><stop offset="0.93" stop-color="#ff0093"/><stop offset="0.95" stop-color="#ff0091"/><stop offset="0.98" stop-color="#ff0090"/><stop offset="1" stop-color="#ff008e"/></linearGradient>
<linearGradient id="r73" x1="243" x2="377" y1="0" y2="0" gradientUnits="userSpaceOnUse"><stop offset="0" stop-color="#009fff"/><stop offset="0.02" stop-color="#0096ff"/><stop offset="0.05" stop-color="#008aff"/><stop offset="0.07" stop-color="#007bff"/><stop offset="0.09" stop-color="#0066ff"/><stop offset="0.11" stop-color="#0042ff"/><stop offset="0.14" stop-color="#4830ff"/><stop offset="0.16" stop-color="#681bff"/><stop offset="0.18" stop-color="#8200ff"/><stop offset="0.2" stop-color="#9900ff"/><stop offset="0.23" stop-color="#ac00ff"/><stop offset="0.25" stop-color="#bc00ff"/><stop offset="0.27" stop-color="#cb00ff"/><stop offset="0.3" stop-color="#d900ff"/><stop offset="0.32" stop-color="#e500ff"/><stop offset="0.34" stop-color="#f100ff"/><stop offset="0.36" stop-color="#fc00ff"/><stop offset="0.39" stop-color="#ff00f8"/><stop offset="0.41" stop-color="#ff00ef"/><stop offset="0.43" stop-color="#ff00e7"/><stop offset="0.45" stop-color="#ff00df"/><stop offset="0.48" stop-color="#ff00d9"/><stop offset="0.5" stop-color="#ff00d3"/><stop offset="0.52" stop-color="#ff00cd"/><stop offset="0.55" stop-color="#ff00c8"/><stop offset="0.57" stop-color="#ff00c4"/><stop offset="0.59" stop-color="#ff00bf"/><stop offset="0.61" stop-color="#ff00bb"/><stop offset="0.64" stop-color="#ff00b8"/><stop offset="0.66" stop-color="#ff00b4"/><stop offset="0.68" stop-color="#ff00b1"/><stop offset="0.7" stop-color="#ff00ae"/><stop offset="0.73" stop-color="#ff00ab"/><stop offset="0.75" stop-color="#ff00a8"/><stop offset="0.77" stop-color="#ff00a5"/><stop offset="0.8" stop-color="#ff00a3"/><stop offset="0.82" stop-color="#ff00a0"/><stop offset="0.84" stop-color="#ff009e"/><stop offset="0.86" stop-color="#ff009c"/><stop offset="0.89" stop-color="#ff0099"/><stop offset="0.91" stop-color="#ff0097"/><stop offset="0.93" stop-color="#ff0095"/><stop offset="0.95" stop-color="#ff0094"/><stop offset="0.98" stop-color="#ff0092"/><stop offset="1" stop-color="#ff0090"/></linearGradient>
<linearGradient id="r74" x1="246" x2="377" y1="0" y2="0" gradientUnits="userSpaceOnUse"><stop offset="0" stop-color="#008fff"/><stop offset="0.02" stop-color="#0083ff"/><stop offset="0.05" stop-color="#0072ff"/><stop offset="0.07" stop-color="#0059ff"/><stop offset="0.09" stop-color="#112bff"/><stop offset="0.12" stop-color="#4e12ff"/><stop offset="0.14" stop-color="#7000ff"/><stop offset="0.16" stop-color="#8900ff"/><stop offset="0.19" stop-color="#9e00ff"/><stop offset="0.21" stop-color="#b000ff"/><stop offset="0.23" stop-color="#bf00ff"/><stop offset="0.26" stop-color="#cd00ff"/><stop offset="0.28" stop-color="#da00ff"/><stop offset="0.3" stop-color="#e600ff"/><stop offset="0.33" stop-color="#f100ff"/><stop offset="0.35" stop-color="#fc00ff"/><stop offset="0.37" stop-color="#ff00f8"/><stop offset="0.4" stop-color="#ff00f0"/><stop offset="0.42" stop-color="#ff00e8"/><stop offset="0.44" stop-color="#ff00e1"/><stop offset="0.47" stop-color="#ff00da"/><stop offset="0.49" stop-color="#ff00d4"/><stop offset="0.51" stop-color="#ff00cf"/><stop offset="0.53" stop-color="#ff00ca"/><stop offset="0.56" stop-color="#ff00c6"/><stop offset="0.58" stop-color="#ff00c1"/><stop offset="0.6" stop-color="#ff00bd"/><stop offset="0.63" stop-color="#ff00b9"/><stop offset="0.65" stop-color="#ff00b6"/><stop offset="0.67" stop-color="#ff00b3"/><stop offset="0.7" stop-color="#ff00b0"/><stop offset="0.72" stop-color="#ff00ad"/><stop offset="0.74" stop-color="#ff00aa"/><stop offset="0.77" stop-color="#ff00a7"/><stop offset="0.79" stop-color="#ff00a5"/><stop offset="0.81" stop-color="#ff00a2"/><stop offset="0.84" stop-color="#ff00a0"/><stop offset="0.86" stop-color="#ff009e"/><stop offset="0.88" stop-color="#ff009b"/><stop offset="0.91" stop-color="#ff0099"/><stop offset="0.93" stop-color="#ff0097"/><stop offset="0.95" stop-color="#ff0096"/><stop offset="0.98" stop-color="#ff0094"/><stop offset="1" stop-color="#ff0092"/></linearGradient>
<linearGradient id="r75" x1="246" x2="377" y1="0" y2="0" gradientUnits="userSpaceOnUse"><stop offset="0" stop-color="#0089ff"/><stop offset="0.02" stop-color="#007aff"/><stop offset="0.05" stop-color="#0067ff"/><stop offset="0.07" stop-color="#0048ff"/><stop offset="0.09" stop-color="#2505ff"/><stop offset="0.12" stop-color="#5b00ff"/><stop offset="0.14" stop-color="#7900ff"/><stop offset="0.16" stop-color="#9000ff"/><stop offset="0.19" stop-color="#a300ff"/><stop offset="0.21" stop-color="#b300ff"/><stop offset="0.23" stop-color="#c200ff"/><stop offset="0.26" stop-color="#cf00ff"/><stop offset="0.28" stop-color="#db00ff"/><stop offset="0.3" stop-color="#e700ff"/><stop offset="0.33" stop-color="#f100ff"/><stop offset="0.35" stop-color="#fc00ff"/><stop offset="0.37" stop-color="#ff00f9"/><stop offset="0.4" stop-color="#ff00f0"/><stop offset="0.42" stop-color="#ff00e9"/><stop offset="0.44" stop-color="#ff00e2"/><stop offset="0.47" stop-color="#ff00dc"/><stop offset="0.49" stop-color="#ff00d6"/><stop offset="0.51" stop-color="#ff00d1"/><stop offset="0.53" stop-color="#ff00cc"/><stop offset="0.56" stop-color="#ff00c7"/><stop offset="0.58" stop-color="#ff00c3"/><stop offset="0.6" stop-color="#ff00bf"/><stop offset="0.63" stop-color="#ff00bb"/><stop offset="0.65" stop-color="#ff00b8"/><stop offset="0.67" stop-color="#ff00b4"/><stop offset="0.7" stop-color="#ff00b1"/><stop offset="0.72" stop-color="#ff00ae"/><stop offset="0.74" stop-color="#ff00ac"/><stop offset="0.77" stop-color="#ff00a9"/><stop offset="0.79" stop-color="#ff00a6"/><stop offset="0.81" stop-color="#ff00a4"/><stop offset="0.84" stop-color="#ff00a2"/><stop offset="0.86" stop-color="#ff009f"/><stop offset="0.88" stop-color="#ff009d"/><stop offset="0.91" stop-color="#ff009b"/><stop offset="0.93" stop-color="#ff0099"/><stop offset="0.95" stop-color="#ff0097"/><stop offset="0.98" stop-color="#ff0096"/><stop offset="1" stop-color="#ff0094"/></linearGradient>
<linearGradient id="r76" x1="246" x2="377" y1="0" y2="0" gradientUnits="userSpaceOnUse"><stop offset="0" stop-color="#0081ff"/><stop offset="0.02" stop-color="#0071ff"/><stop offset="0.05" stop-color="#005bff"/><stop offset="0.07" stop-color="#0032ff"/><stop offset="0.09" stop-color="#4000ff"/><stop offset="0.12" stop-color="#6700ff"/><stop offset="0.14" stop-color="#8100ff"/><stop offset="0.16" stop-color="#9500ff"/><stop offset="0.19" stop-color="#a700ff"/><stop offset="0.21" stop-color="#b600ff"/><stop offset="0.23" stop-color="#c400ff"/><stop offset="0.26" stop-color="#d100ff"/><stop offset="0.28" stop-color="#dc00ff"/><stop offset="0.3" stop-color="#e700ff"/><stop offset="0.33" stop-color="#f200ff"/><stop offset="0.35" stop-color="#fb00ff"/><stop offset="0.37" stop-color="#ff00f9"/><stop offset="0.4" stop-color="#ff00f1"/><stop offset="0.42" stop-color="#ff00ea"/><stop offset="0.44" stop-color="#ff00e3"/><stop offset="0.47" stop-color="#ff00dd"/><stop offset="0.49" stop-color="#ff00d7"/><stop offset="0.51" stop-color="#ff00d2"/><stop offset="0.53" stop-color="#ff00cd"/><stop offset="0.56" stop-color="#ff00c9"/><stop offset="0.58" stop-color="#ff00c5"/><stop offset="0.6" stop-color="#ff00c1"/><stop offset="0.63" stop-color="#ff00bd"/><stop offset="0.65" stop-color="#ff00b9"/><stop offset="0.67" stop-color="#ff00b6"/><stop offset="0.7" stop-color="#ff00b3"/><stop offset="0.72" stop-color="#ff00b0"/><stop offset="0.74" stop-color="#ff00ad"/><stop offset="0.77" stop-color="#ff00ab"/><stop offset="0.79" stop-color="#ff00a8"/><stop offset="0.81" stop-color="#ff00a6"/><stop offset="0.84" stop-color="#ff00a4"/><stop offset="0.86" stop-color="#ff00a1"/><stop offset="0.88" stop-color="#ff009f"/><stop offset="0.91" stop-color="#ff009d"/><stop offset="0.93" stop-color="#ff009b"/><stop offset="0.95" stop-color="#ff0099"/><stop offset="0.98" stop-color="#ff0098"/><stop offset="1" stop-color="#ff0096"/></linearGradient>
<linearGradient id="r77" x1="249" x2="377" y1="0" y2="0" gradientUnits="userSpaceOnUse"><stop offset="0" stop-color="#0068ff"/><stop offset="0.02" stop-color="#004dff"/><stop offset="0.05" stop-color="#0200ff"/><stop offset="0.07" stop-color="#5000ff"/><stop offset="0.1" stop-color="#7000ff"/><stop offset="0.12" stop-color="#8700ff"/><stop offset="0.14" stop-color="#9a00ff"/><stop offset="0.17" stop-color="#aa00ff"/><stop offset="0.19" stop-color="#b900ff"/><stop offset="0.21" stop-color="#c600ff"/><stop offset="0.24" stop-color="#d200ff"/><stop offset="0.26" stop-color="#dd00ff"/><stop offset="0.29" stop-color="#e800ff"/><stop offset="0.31" stop-color="#f200ff"/><stop offset="0.33" stop-color="#fb00ff"/><stop offset="0.36" stop-color="#ff00fa"/><stop offset="0.38" stop-color="#ff00f2"/><stop offset="0.4" stop-color="#ff00eb"/><stop offset="0.43" stop-color="#ff00e4"/><stop offset="0.45" stop-color="#ff00de"/><stop offset="0.48" stop-color="#ff00d9"/><stop offset="0.5" stop-color="#ff00d3"/><stop offset="0.52" stop-color="#ff00cf"/><stop offset="0.55" stop-color="#ff00ca"/><stop offset="0.57" stop-color="#ff00c6"/><stop offset="0.6" stop-color="#ff00c2"/><stop offset="0.62" stop-color="#ff00bf"/><stop offset="0.64" stop-color="#ff00bb"/><stop offset="0.67" stop-color="#ff00b8"/><stop offset="0.69" stop-color="#ff00b5"/><stop offset="0.71" stop-color="#ff00b2"/><stop offset="0.74" stop-color="#ff00af"/><stop offset="0.76" stop-color="#ff00ad"/><stop offset="0.79" stop-color="#ff00aa"/><stop offset="0.81" stop-color="#ff00a8"/><stop offset="0.83" stop-color="#ff00a5"/><stop offset="0.86" stop-color="#ff00a3"/><stop offset="0.88" stop-color="#ff00a1"/><stop offset="0.9" stop-color="#ff009f"/><stop offset="0.93" stop-color="#ff009d"/><stop offset="0.95" stop-color="#ff009b"/><stop offset="0.98" stop-color="#ff0099"/><stop offset="1" stop-color="#ff0098"/></linearGradient>
<linearGradient id="r78" x1="252" x2="377" y1="0" y2="0" gradientUnits="userSpaceOnUse"><stop offset="0" stop-color="#003bff"/><stop offset="0.02" stop-color="#3200ff"/><stop offset="0.05" stop-color="#5d00ff"/><stop offset="0.07" stop-color="#7800ff"/><stop offset="0.1" stop-color="#8d00ff"/><stop offset="0.12" stop-color="#9e00ff"/><stop offset="0.15" stop-color="#ad00ff"/><stop offset="0.17" stop-color="#bb00ff"/><stop offset="0.2" stop-color="#c800ff"/><stop offset="0.22" stop-color="#d300ff"/><stop offset="0.24" stop-color="#de00ff"/><stop offset="0.27" stop-color="#e800ff"/><stop offset="0.29" stop-color="#f200ff"/><stop offset="0.32" stop-color="#fb00ff"/><stop offset="0.34" stop-color="#ff00fa"/><stop offset="0.37" stop-color="#ff00f3"/><stop offset="0.39" stop-color="#ff00ec"/><stop offset="0.41" stop-color="#ff00e5"/><stop offset="0.44" stop-color="#ff00df"/><stop offset="0.46" stop-color="#ff00da"/><stop offset="0.49" stop-color="#ff00d5"/><stop offset="0.51" stop-color="#ff00d0"/><stop offset="0.54" stop-color="#ff00cc"/><stop offset="0.56" stop-color="#ff00c8"/><stop offset="0.59" stop-color="#ff00c4"/><stop offset="0.61" stop-color="#ff00c0"/><stop offset="0.63" stop-color="#ff00bd"/><stop offset="0.66" stop-color="#ff00ba"/><stop offset="0.68" stop-color="#ff00b6"/><stop offset="0.71" stop-color="#ff00b4"/><stop offset="0.73" stop-color="#ff00b1"/><stop offset="0.76" stop-color="#ff00ae"/><stop offset="0.78" stop-color="#ff00ac"/><stop offset="0.8" stop-color="#ff00a9"/><stop offset="0.83" stop-color="#ff00a7"/><stop offset="0.85" stop-color="#ff00a5"/><stop offset="0.88" stop-color="#ff00a3"/><stop offset="0.9" stop-color="#ff00a1"/><stop offset="0.93" stop-color="#ff009f"/><stop offset="0.95" stop-color="#ff009d"/><stop offset="0.98" stop-color="#ff009b"/><stop offset="1" stop-color="#ff0099"/></linearGradient>
<linearGradient id="r79" x1="253" x2="377" y1="0" y2="0" gradientUnits="userSpaceOnUse"><stop offset="0" stop-color="#1b00ff"/><stop offset="0.02" stop-color="#5300ff"/><stop offset="0.05" stop-color="#6f00ff"/><stop offset="0.07" stop-color="#8500ff"/><stop offset="0.1" stop-color="#9700ff"/><stop offset="0.12" stop-color="#a700ff"/><stop offset="0.15" stop-color="#b400ff"/><stop offset="0.17" stop-color="#c100ff"/><stop offset="0.2" stop-color="#cd00ff"/><stop offset="0.22" stop-color="#d700ff"/><stop offset="0.24" stop-color="#e100ff"/><stop offset="0.27" stop-color="#eb00ff"/><stop offset="0.29" stop-color="#f400ff"/><stop offset="0.32" stop-color="#fd00ff"/><stop offset="0.34" stop-color="#ff00f9"/><stop offset="0.37" stop-color="#ff00f2"/><stop offset="0.39" stop-color="#ff00eb"/><stop offset="0.41" stop-color="#ff00e5"/><stop offset="0.44" stop-color="#ff00df"/><stop offset="0.46" stop-color="#ff00da"/><stop offset="0.49" stop-color="#ff00d5"/><stop offset="0.51" stop-color="#ff00d1"/><stop offset="0.54" stop-color="#ff00cc"/><stop offset="0.56" stop-color="#ff00c8"/><stop offset="0.59" stop-color="#ff00c5"/><stop offset="0.61" stop-color="#ff00c1"/><stop offset="0.63" stop-color="#ff00be"/><stop offset="0.66" stop-color="#ff00bb"/><stop offset="0.68" stop-color="#ff00b8"/><stop offset="0.71" stop-color="#ff00b5"/><stop offset="0.73" stop-color="#ff00b2"/><stop offset="0.76" stop-color="#ff00b0"/><stop offset="0.78" stop-color="#ff00ad"/><stop offset="0.8" stop-color="#ff00ab"/><stop offset="0.83" stop-color="#ff00a8"/><stop offset="0.85" stop-color="#ff00a6"/><stop offset="0.88" stop-color="#ff00a4"/><stop offset="0.9" stop-color="#ff00a2"/><stop offset="0.93" stop-color="#ff00a0"/><stop offset="0.95" stop-color="#ff009e"/><stop offset="0.98" stop-color="#ff009d"/><stop offset="1" stop-color="#ff009b"/></linearGradient>
<linearGradient id="r80" x1="256" x2="377" y1="0" y2="0" gradientUnits="userSpaceOnUse"><stop offset="0" stop-color="#5e00ff"/><stop offset="0.03" stop-color="#7700ff"/><stop offset="0.05" stop-color="#8b00ff"/><stop offset="0.07" stop-color="#9b00ff"/><stop offset="0.1" stop-color="#aa00ff"/><stop offset="0.12" stop-color="#b700ff"/><stop offset="0.15" stop-color="#c300ff"/><stop offset="0.17" stop-color="#ce00ff"/><stop offset="0.2" stop-color="#d800ff"/><stop offset="0.23" stop-color="#e200ff"/><stop offset="0.25" stop-color="#eb00ff"/><stop offset="0.28" stop-color="#f400ff"/><stop offset="0.3" stop-color="#fc00ff"/><stop offset="0.33" stop-color="#ff00fa"/><stop offset="0.35" stop-color="#ff00f2"/><stop offset="0.38" stop-color="#ff00ec"/><stop offset="0.4" stop-color="#ff00e6"/><stop offset="0.42" stop-color="#ff00e0"/><stop offset="0.45" stop-color="#ff00db"/><stop offset="0.47" stop-color="#ff00d6"/><stop offset="0.5" stop-color="#ff00d2"/><stop offset="0.53" stop-color="#ff00ce"/><stop offset="0.55" stop-color="#ff00ca"/><stop offset="0.57" stop-color="#ff00c6"/><stop offset="0.6" stop-color="#ff00c3"/><stop offset="0.62" stop-color="#ff00bf"/><stop offset="0.65" stop-color="#ff00bc"/><stop offset="0.68" stop-color="#ff00b9"/><stop offset="0.7" stop-color="#ff00b6"/><stop offset="0.72" stop-color="#ff00b4"/><stop offset="0.75" stop-color="#ff00b1"/><stop offset="0.78" stop-color="#ff00af"/><stop offset="0.8" stop-color="#ff00ac"/><stop offset="0.82" stop-color="#ff00aa"/><stop offset="0.85" stop-color="#ff00a8"/><stop offset="0.88" stop-color="#ff00a6"/><stop offset="0.9" stop-color="#ff00a4"/><stop offset="0.93" stop-color="#ff00a2"/><stop offset="0.95" stop-color="#ff00a0"/><stop offset="0.97" stop-color="#ff009e"/><stop offset="1" stop-color="#ff009d"/></linearGradient>
<linearGradient id="r81" x1="258" x2="377" y1="0" y2="0" gradientUnits="userSpaceOnUse"><stop offset="0" stop-color="#7700ff"/><stop offset="0.03" stop-color="#8a00ff"/><stop offset="0.05" stop-color="#9a00ff"/><stop offset="0.08" stop-color="#a900ff"/><stop offset="0.1" stop-color="#b600ff"/><stop offset="0.13" stop-color="#c200ff"/><stop offset="0.15" stop-color="#cc00ff"/><stop offset="0.18" stop-color="#d700ff"/><stop offset="0.21" stop-color="#e000ff"/><stop offset="0.23" stop-color="#e900ff"/><stop offset="0.26" stop-color="#f200ff"/><stop offset="0.28" stop-color="#fa00ff"/><stop offset="0.31" stop-color="#ff00fc"/><stop offset="0.33" stop-color="#ff00f5"/><stop offset="0.36" stop-color="#ff00ee"/><stop offset="0.38" stop-color="#ff00e8"/><stop offset="0.41" stop-color="#ff00e2"/><stop offset="0.44" stop-color="#ff00dd"/><stop offset="0.46" stop-color="#ff00d8"/><stop offset="0.49" stop-color="#ff00d4"/><stop offset="0.51" stop-color="#ff00d0"/><stop offset="0.54" stop-color="#ff00cc"/><stop offset="0.56" stop-color="#ff00c8"/><stop offset="0.59" stop-color="#ff00c4"/><stop offset="0.62" stop-color="#ff00c1"/><stop offset="0.64" stop-color="#ff00be"/><stop offset="0.67" stop-color="#ff00bb"/><stop offset="0.69" stop-color="#ff00b8"/><stop offset="0.72" stop-color="#ff00b5"/><stop offset="0.74" stop-color="#ff00b3"/><stop offset="0.77" stop-color="#ff00b0"/><stop offset="0.79" stop-color="#ff00ae"/><stop offset="0.82" stop-color="#ff00ac"/><stop offset="0.85" stop-color="#ff00aa"/><stop offset="0.87" stop-color="#ff00a7"/><stop offset="0.9" stop-color="#ff00a5"/><stop offset="0.92" stop-color="#ff00a3"/><stop offset="0.95" stop-color="#ff00a2"/><stop offset="0.97" stop-color="#ff00a0"/><stop offset="1" stop-color="#ff009e"/></linearGradient>
<linearGradient id="gJ" x1="0" x2="0" y1="49.3" y2="147" gradientUnits="userSpaceOnUse"><stop offset="0" stop-color="#0010e0"/><stop offset="0.069" stop-color="#0020ff"/><stop offset="0.094" stop-color="#0050ff"/><stop offset="0.125" stop-color="#0090ff"/><stop offset="0.156" stop-color="#00d8ff"/><stop offset="0.186" stop-color="#00f0c0"/><stop offset="0.222" stop-color="#00f070"/><stop offset="0.263" stop-color="#00f020"/><stop offset="0.314" stop-color="#40f000"/><stop offset="0.365" stop-color="#a0f000"/><stop offset="0.427" stop-color="#f0f000"/><stop offset="0.488" stop-color="#ffc000"/><stop offset="0.547" stop-color="#ff7000"/><stop offset="0.601" stop-color="#ff3000"/><stop offset="0.652" stop-color="#ff0800"/><stop offset="0.756" stop-color="#ff0800"/><stop offset="0.782" stop-color="#ff6000"/><stop offset="0.807" stop-color="#ffc000"/><stop offset="0.832" stop-color="#e0f000"/><stop offset="0.852" stop-color="#60f000"/><stop offset="0.873" stop-color="#00e040"/><stop offset="0.898" stop-color="#00e0e0"/><stop offset="0.922" stop-color="#0080ff"/><stop offset="0.946" stop-color="#0030f0"/><stop offset="1" stop-color="#0010d0"/></linearGradient>
<linearGradient id="fr0" x1="462.6" x2="580" y1="0" y2="0" gradientUnits="userSpaceOnUse"><stop offset="0" stop-color="#e0f8b0"/><stop offset="0.5" stop-color="#eefcbc"/><stop offset="1" stop-color="#f6fcc4"/></linearGradient>
<linearGradient id="fr1" x1="462.6" x2="580" y1="0" y2="0" gradientUnits="userSpaceOnUse"><stop offset="0" stop-color="#e0f8b1"/><stop offset="0.5" stop-color="#eefcbc"/><stop offset="1" stop-color="#f6fcc4"/></linearGradient>
<linearGradient id="fr2" x1="462.6" x2="580" y1="0" y2="0" gradientUnits="userSpaceOnUse"><stop offset="0" stop-color="#e1f8b1"/><stop offset="0.5" stop-color="#effcbc"/><stop offset="1" stop-color="#f6fbc4"/></linearGradient>
<linearGradient id="fr3" x1="462.6" x2="580" y1="0" y2="0" gradientUnits="userSpaceOnUse"><stop offset="0" stop-color="#e1f8b1"/><stop offset="0.5" stop-color="#effcbd"/><stop offset="1" stop-color="#f7fbc4"/></linearGradient>
<linearGradient id="fr4" x1="462.6" x2="580" y1="0" y2="0" gradientUnits="userSpaceOnUse"><stop offset="0" stop-color="#e1f8b2"/><stop offset="0.5" stop-color="#effcbd"/><stop offset="1" stop-color="#f7fbc4"/></linearGradient>
<linearGradient id="fr5" x1="462.6" x2="580" y1="0" y2="0" gradientUnits="userSpaceOnUse"><stop offset="0" stop-color="#e2f9b2"/><stop offset="0.5" stop-color="#effbbd"/><stop offset="1" stop-color="#f7fac4"/></linearGradient>
<linearGradient id="fr6" x1="462.6" x2="580" y1="0" y2="0" gradientUnits="userSpaceOnUse"><stop offset="0" stop-color="#e2f9b2"/><stop offset="0.5" stop-color="#effbbd"/><stop offset="1" stop-color="#f7fac4"/></linearGradient>
<linearGradient id="fr7" x1="462.6" x2="580" y1="0" y2="0" gradientUnits="userSpaceOnUse"><stop offset="0" stop-color="#e2f9b3"/><stop offset="0.5" stop-color="#f0fbbd"/><stop offset="1" stop-color="#f7fac4"/></linearGradient>
<linearGradient id="fr8" x1="462.6" x2="580" y1="0" y2="0" gradientUnits="userSpaceOnUse"><stop offset="0" stop-color="#e2f9b3"/><stop offset="0.5" stop-color="#f0fbbe"/><stop offset="1" stop-color="#f7fac4"/></linearGradient>
<linearGradient id="fr9" x1="462.6" x2="580" y1="0" y2="0" gradientUnits="userSpaceOnUse"><stop offset="0" stop-color="#e3f9b3"/><stop offset="0.5" stop-color="#f0fbbe"/><stop offset="1" stop-color="#f8f9c4"/></linearGradient>
<linearGradient id="fr10" x1="462.6" x2="580" y1="0" y2="0" gradientUnits="userSpaceOnUse"><stop offset="0" stop-color="#e3f9b4"/><stop offset="0.5" stop-color="#f0fbbe"/><stop offset="1" stop-color="#f8f9c4"/></linearGradient>
<linearGradient id="fr11" x1="462.6" x2="580" y1="0" y2="0" gradientUnits="userSpaceOnUse"><stop offset="0" stop-color="#e3f9b4"/><stop offset="0.5" stop-color="#f1fbbe"/><stop offset="1" stop-color="#f8f9c4"/></linearGradient>
<linearGradient id="fr12" x1="462.6" x2="580" y1="0" y2="0" gradientUnits="userSpaceOnUse"><stop offset="0" stop-color="#e3f9b5"/><stop offset="0.5" stop-color="#f1fbbe"/><stop offset="1" stop-color="#f8f9c4"/></linearGradient>
<linearGradient id="fr13" x1="462.6" x2="580" y1="0" y2="0" gradientUnits="userSpaceOnUse"><stop offset="0" stop-color="#e4f9b5"/><stop offset="0.5" stop-color="#f1fbbe"/><stop offset="1" stop-color="#f8f8c4"/></linearGradient>
<linearGradient id="fr14" x1="462.6" x2="580" y1="0" y2="0" gradientUnits="userSpaceOnUse"><stop offset="0" stop-color="#e4f9b5"/><stop offset="0.5" stop-color="#f1fbbf"/><stop offset="1" stop-color="#f8f8c4"/></linearGradient>
<linearGradient id="fr15" x1="462.6" x2="580" y1="0" y2="0" gradientUnits="userSpaceOnUse"><stop offset="0" stop-color="#e4f9b6"/><stop offset="0.5" stop-color="#f2fbbf"/><stop offset="1" stop-color="#f8f8c4"/></linearGradient>
<linearGradient id="fr16" x1="462.6" x2="580" y1="0" y2="0" gradientUnits="userSpaceOnUse"><stop offset="0" stop-color="#e5fab6"/><stop offset="0.5" stop-color="#f2fabf"/><stop offset="1" stop-color="#f9f7c4"/></linearGradient>
<linearGradient id="fr17" x1="462.6" x2="580" y1="0" y2="0" gradientUnits="userSpaceOnUse"><stop offset="0" stop-color="#e5fab6"/><stop offset="0.5" stop-color="#f2fabf"/><stop offset="1" stop-color="#f9f7c4"/></linearGradient>
<linearGradient id="fr18" x1="462.6" x2="580" y1="0" y2="0" gradientUnits="userSpaceOnUse"><stop offset="0" stop-color="#e5fab7"/><stop offset="0.5" stop-color="#f2fabf"/><stop offset="1" stop-color="#f9f7c4"/></linearGradient>
<linearGradient id="fr19" x1="462.6" x2="580" y1="0" y2="0" gradientUnits="userSpaceOnUse"><stop offset="0" stop-color="#e5fab7"/><stop offset="0.5" stop-color="#f2fac0"/><stop offset="1" stop-color="#f9f7c4"/></linearGradient>
<linearGradient id="fr20" x1="462.6" x2="580" y1="0" y2="0" gradientUnits="userSpaceOnUse"><stop offset="0" stop-color="#e6fab7"/><stop offset="0.5" stop-color="#f3fac0"/><stop offset="1" stop-color="#f9f6c4"/></linearGradient>
<linearGradient id="fr21" x1="462.6" x2="580" y1="0" y2="0" gradientUnits="userSpaceOnUse"><stop offset="0" stop-color="#e6fab8"/><stop offset="0.5" stop-color="#f3fac0"/><stop offset="1" stop-color="#f9f6c4"/></linearGradient>
<linearGradient id="fr22" x1="462.6" x2="580" y1="0" y2="0" gradientUnits="userSpaceOnUse"><stop offset="0" stop-color="#e6fab8"/><stop offset="0.5" stop-color="#f3fac0"/><stop offset="1" stop-color="#faf6c4"/></linearGradient>
<linearGradient id="fr23" x1="462.6" x2="580" y1="0" y2="0" gradientUnits="userSpaceOnUse"><stop offset="0" stop-color="#e6fab9"/><stop offset="0.5" stop-color="#f3fac0"/><stop offset="1" stop-color="#faf6c4"/></linearGradient>
<linearGradient id="fr24" x1="462.6" x2="580" y1="0" y2="0" gradientUnits="userSpaceOnUse"><stop offset="0" stop-color="#e7fab9"/><stop offset="0.5" stop-color="#f4fac0"/><stop offset="1" stop-color="#faf5c4"/></linearGradient>
<linearGradient id="fr25" x1="462.6" x2="580" y1="0" y2="0" gradientUnits="userSpaceOnUse"><stop offset="0" stop-color="#e7fab9"/><stop offset="0.5" stop-color="#f4fac1"/><stop offset="1" stop-color="#faf5c4"/></linearGradient>
<linearGradient id="fr26" x1="462.6" x2="580" y1="0" y2="0" gradientUnits="userSpaceOnUse"><stop offset="0" stop-color="#e7faba"/><stop offset="0.5" stop-color="#f4fac1"/><stop offset="1" stop-color="#faf5c4"/></linearGradient>
<linearGradient id="fr27" x1="462.6" x2="580" y1="0" y2="0" gradientUnits="userSpaceOnUse"><stop offset="0" stop-color="#e8fbba"/><stop offset="0.5" stop-color="#f4f9c1"/><stop offset="1" stop-color="#faf4c4"/></linearGradient>
<linearGradient id="fr28" x1="462.6" x2="580" y1="0" y2="0" gradientUnits="userSpaceOnUse"><stop offset="0" stop-color="#e8fbba"/><stop offset="0.5" stop-color="#f4f9c1"/><stop offset="1" stop-color="#fbf4c4"/></linearGradient>
<linearGradient id="fr29" x1="462.6" x2="580" y1="0" y2="0" gradientUnits="userSpaceOnUse"><stop offset="0" stop-color="#e8fbbb"/><stop offset="0.5" stop-color="#f5f9c1"/><stop offset="1" stop-color="#fbf4c4"/></linearGradient>
<linearGradient id="fr30" x1="462.6" x2="580" y1="0" y2="0" gradientUnits="userSpaceOnUse"><stop offset="0" stop-color="#e8fbbb"/><stop offset="0.5" stop-color="#f5f9c2"/><stop offset="1" stop-color="#fbf4c4"/></linearGradient>
<linearGradient id="fr31" x1="462.6" x2="580" y1="0" y2="0" gradientUnits="userSpaceOnUse"><stop offset="0" stop-color="#e9fbbb"/><stop offset="0.5" stop-color="#f5f9c2"/><stop offset="1" stop-color="#fbf3c4"/></linearGradient>
<linearGradient id="fr32" x1="462.6" x2="580" y1="0" y2="0" gradientUnits="userSpaceOnUse"><stop offset="0" stop-color="#e9fbbc"/><stop offset="0.5" stop-color="#f5f9c2"/><stop offset="1" stop-color="#fbf3c4"/></linearGradient>
<linearGradient id="fr33" x1="462.6" x2="580" y1="0" y2="0" gradientUnits="userSpaceOnUse"><stop offset="0" stop-color="#e9fbbc"/><stop offset="0.5" stop-color="#f6f9c2"/><stop offset="1" stop-color="#fbf3c4"/></linearGradient>
<linearGradient id="fr34" x1="462.6" x2="580" y1="0" y2="0" gradientUnits="userSpaceOnUse"><stop offset="0" stop-color="#e9fbbd"/><stop offset="0.5" stop-color="#f6f9c2"/><stop offset="1" stop-color="#fcf3c4"/></linearGradient>
<linearGradient id="fr35" x1="462.6" x2="580" y1="0" y2="0" gradientUnits="userSpaceOnUse"><stop offset="0" stop-color="#eafbbd"/><stop offset="0.5" stop-color="#f6f9c2"/><stop offset="1" stop-color="#fcf2c4"/></linearGradient>
<linearGradient id="fr36" x1="462.6" x2="580" y1="0" y2="0" gradientUnits="userSpaceOnUse"><stop offset="0" stop-color="#eafbbd"/><stop offset="0.5" stop-color="#f6f9c3"/><stop offset="1" stop-color="#fcf2c4"/></linearGradient>
<linearGradient id="fr37" x1="462.6" x2="580" y1="0" y2="0" gradientUnits="userSpaceOnUse"><stop offset="0" stop-color="#eafbbe"/><stop offset="0.5" stop-color="#f7f9c3"/><stop offset="1" stop-color="#fcf2c4"/></linearGradient>
<linearGradient id="fr38" x1="462.6" x2="580" y1="0" y2="0" gradientUnits="userSpaceOnUse"><stop offset="0" stop-color="#ebfcbe"/><stop offset="0.5" stop-color="#f7f8c3"/><stop offset="1" stop-color="#fcf1c4"/></linearGradient>
<linearGradient id="fr39" x1="462.6" x2="580" y1="0" y2="0" gradientUnits="userSpaceOnUse"><stop offset="0" stop-color="#ebfcbe"/><stop offset="0.5" stop-color="#f7f8c3"/><stop offset="1" stop-color="#fcf1c4"/></linearGradient>
<linearGradient id="fr40" x1="462.6" x2="580" y1="0" y2="0" gradientUnits="userSpaceOnUse"><stop offset="0" stop-color="#ebfcbf"/><stop offset="0.5" stop-color="#f7f8c3"/><stop offset="1" stop-color="#fcf1c4"/></linearGradient>
<linearGradient id="fr41" x1="462.6" x2="580" y1="0" y2="0" gradientUnits="userSpaceOnUse"><stop offset="0" stop-color="#ebfcbf"/><stop offset="0.5" stop-color="#f7f8c4"/><stop offset="1" stop-color="#fdf1c4"/></linearGradient>
<linearGradient id="fr42" x1="462.6" x2="580" y1="0" y2="0" gradientUnits="userSpaceOnUse"><stop offset="0" stop-color="#ecfcbf"/><stop offset="0.5" stop-color="#f8f8c4"/><stop offset="1" stop-color="#fdf0c4"/></linearGradient>
<linearGradient id="fr43" x1="462.6" x2="580" y1="0" y2="0" gradientUnits="userSpaceOnUse"><stop offset="0" stop-color="#ecfcc0"/><stop offset="0.5" stop-color="#f8f8c4"/><stop offset="1" stop-color="#fdf0c4"/></linearGradient>
<linearGradient id="fr44" x1="462.6" x2="580" y1="0" y2="0" gradientUnits="userSpaceOnUse"><stop offset="0" stop-color="#ecfcc0"/><stop offset="0.5" stop-color="#f8f8c4"/><stop offset="1" stop-color="#fdf0c4"/></linearGradient>
<linearGradient id="fr45" x1="462.6" x2="580" y1="0" y2="0" gradientUnits="userSpaceOnUse"><stop offset="0" stop-color="#ecfcc0"/><stop offset="0.5" stop-color="#f8f8c4"/><stop offset="1" stop-color="#fdf0c4"/></linearGradient>
<linearGradient id="fr46" x1="462.6" x2="580" y1="0" y2="0" gradientUnits="userSpaceOnUse"><stop offset="0" stop-color="#edfcc0"/><stop offset="0.5" stop-color="#f8f8c4"/><stop offset="1" stop-color="#fdefc4"/></linearGradient>
<linearGradient id="fr47" x1="462.6" x2="580" y1="0" y2="0" gradientUnits="userSpaceOnUse"><stop offset="0" stop-color="#edfcc1"/><stop offset="0.5" stop-color="#f8f8c4"/><stop offset="1" stop-color="#fdefc4"/></linearGradient>
<linearGradient id="fr48" x1="462.6" x2="580" y1="0" y2="0" gradientUnits="userSpaceOnUse"><stop offset="0" stop-color="#edfcc1"/><stop offset="0.5" stop-color="#f8f8c4"/><stop offset="1" stop-color="#fdefc4"/></linearGradient>
<linearGradient id="fr49" x1="462.6" x2="580" y1="0" y2="0" gradientUnits="userSpaceOnUse"><stop offset="0" stop-color="#eefcc1"/><stop offset="0.5" stop-color="#f9f7c4"/><stop offset="1" stop-color="#fdefc3"/></linearGradient>
<linearGradient id="fr50" x1="462.6" x2="580" y1="0" y2="0" gradientUnits="userSpaceOnUse"><stop offset="0" stop-color="#eefcc1"/><stop offset="0.5" stop-color="#f9f7c4"/><stop offset="1" stop-color="#fdeec3"/></linearGradient>
<linearGradient id="fr51" x1="462.6" x2="580" y1="0" y2="0" gradientUnits="userSpaceOnUse"><stop offset="0" stop-color="#eefcc1"/><stop offset="0.5" stop-color="#f9f7c4"/><stop offset="1" stop-color="#fdeec3"/></linearGradient>
<linearGradient id="fr52" x1="462.6" x2="580" y1="0" y2="0" gradientUnits="userSpaceOnUse"><stop offset="0" stop-color="#eefcc2"/><stop offset="0.5" stop-color="#f9f7c4"/><stop offset="1" stop-color="#fdeec3"/></linearGradient>
<linearGradient id="fr53" x1="462.6" x2="580" y1="0" y2="0" gradientUnits="userSpaceOnUse"><stop offset="0" stop-color="#effcc2"/><stop offset="0.5" stop-color="#f9f7c4"/><stop offset="1" stop-color="#fdeec3"/></linearGradient>
<linearGradient id="fr54" x1="462.6" x2="580" y1="0" y2="0" gradientUnits="userSpaceOnUse"><stop offset="0" stop-color="#effcc2"/><stop offset="0.5" stop-color="#f9f7c4"/><stop offset="1" stop-color="#fdeec3"/></linearGradient>
<linearGradient id="fr55" x1="462.6" x2="580" y1="0" y2="0" gradientUnits="userSpaceOnUse"><stop offset="0" stop-color="#effcc2"/><stop offset="0.5" stop-color="#f9f7c4"/><stop offset="1" stop-color="#fdedc3"/></linearGradient>
<linearGradient id="fr56" x1="462.6" x2="580" y1="0" y2="0" gradientUnits="userSpaceOnUse"><stop offset="0" stop-color="#effcc2"/><stop offset="0.5" stop-color="#f9f7c4"/><stop offset="1" stop-color="#fdedc3"/></linearGradient>
<linearGradient id="fr57" x1="462.6" x2="580" y1="0" y2="0" gradientUnits="userSpaceOnUse"><stop offset="0" stop-color="#f0fcc2"/><stop offset="0.5" stop-color="#f9f7c4"/><stop offset="1" stop-color="#fdedc3"/></linearGradient>
<linearGradient id="fr58" x1="462.6" x2="580" y1="0" y2="0" gradientUnits="userSpaceOnUse"><stop offset="0" stop-color="#f0fcc3"/><stop offset="0.5" stop-color="#f9f7c4"/><stop offset="1" stop-color="#fdedc3"/></linearGradient>
<linearGradient id="fr59" x1="462.6" x2="580" y1="0" y2="0" gradientUnits="userSpaceOnUse"><stop offset="0" stop-color="#f0fcc3"/><stop offset="0.5" stop-color="#f9f7c4"/><stop offset="1" stop-color="#fdecc3"/></linearGradient>
<linearGradient id="fr60" x1="462.6" x2="580" y1="0" y2="0" gradientUnits="userSpaceOnUse"><stop offset="0" stop-color="#f1fcc3"/><stop offset="0.5" stop-color="#faf6c4"/><stop offset="1" stop-color="#fdecc2"/></linearGradient>
<linearGradient id="fr61" x1="462.6" x2="580" y1="0" y2="0" gradientUnits="userSpaceOnUse"><stop offset="0" stop-color="#f1fcc3"/><stop offset="0.5" stop-color="#faf6c4"/><stop offset="1" stop-color="#fdecc2"/></linearGradient>
<linearGradient id="fr62" x1="462.6" x2="580" y1="0" y2="0" gradientUnits="userSpaceOnUse"><stop offset="0" stop-color="#f1fcc3"/><stop offset="0.5" stop-color="#faf6c4"/><stop offset="1" stop-color="#fdecc2"/></linearGradient>
<linearGradient id="fr63" x1="462.6" x2="580" y1="0" y2="0" gradientUnits="userSpaceOnUse"><stop offset="0" stop-color="#f1fcc4"/><stop offset="0.5" stop-color="#faf6c4"/><stop offset="1" stop-color="#fdecc2"/></linearGradient>
<linearGradient id="fr64" x1="462.6" x2="580" y1="0" y2="0" gradientUnits="userSpaceOnUse"><stop offset="0" stop-color="#f2fcc4"/><stop offset="0.5" stop-color="#faf6c4"/><stop offset="1" stop-color="#fdebc2"/></linearGradient>
<linearGradient id="fr65" x1="462.6" x2="580" y1="0" y2="0" gradientUnits="userSpaceOnUse"><stop offset="0" stop-color="#f2fcc4"/><stop offset="0.5" stop-color="#faf6c4"/><stop offset="1" stop-color="#fdebc2"/></linearGradient>
<linearGradient id="fr66" x1="462.6" x2="580" y1="0" y2="0" gradientUnits="userSpaceOnUse"><stop offset="0" stop-color="#f2fcc4"/><stop offset="0.5" stop-color="#faf6c4"/><stop offset="1" stop-color="#fdebc2"/></linearGradient>
<linearGradient id="fr67" x1="462.6" x2="580" y1="0" y2="0" gradientUnits="userSpaceOnUse"><stop offset="0" stop-color="#f2fcc4"/><stop offset="0.5" stop-color="#faf6c4"/><stop offset="1" stop-color="#fdebc2"/></linearGradient>
<linearGradient id="fr68" x1="462.6" x2="580" y1="0" y2="0" gradientUnits="userSpaceOnUse"><stop offset="0" stop-color="#f3fcc4"/><stop offset="0.5" stop-color="#faf6c4"/><stop offset="1" stop-color="#fdeac2"/></linearGradient>
<linearGradient id="fr69" x1="462.6" x2="580" y1="0" y2="0" gradientUnits="userSpaceOnUse"><stop offset="0" stop-color="#f3fcc5"/><stop offset="0.5" stop-color="#faf6c4"/><stop offset="1" stop-color="#fdeac2"/></linearGradient>
<linearGradient id="fr70" x1="462.6" x2="580" y1="0" y2="0" gradientUnits="userSpaceOnUse"><stop offset="0" stop-color="#f3fcc5"/><stop offset="0.5" stop-color="#faf6c4"/><stop offset="1" stop-color="#fdeac2"/></linearGradient>
<linearGradient id="fr71" x1="462.6" x2="580" y1="0" y2="0" gradientUnits="userSpaceOnUse"><stop offset="0" stop-color="#f4fcc5"/><stop offset="0.5" stop-color="#fbf5c4"/><stop offset="1" stop-color="#fdeac1"/></linearGradient>
<linearGradient id="fr72" x1="462.6" x2="580" y1="0" y2="0" gradientUnits="userSpaceOnUse"><stop offset="0" stop-color="#f4fcc5"/><stop offset="0.5" stop-color="#fbf5c4"/><stop offset="1" stop-color="#fde9c1"/></linearGradient>
<linearGradient id="fr73" x1="462.6" x2="580" y1="0" y2="0" gradientUnits="userSpaceOnUse"><stop offset="0" stop-color="#f4fcc5"/><stop offset="0.5" stop-color="#fbf5c4"/><stop offset="1" stop-color="#fde9c1"/></linearGradient>
<linearGradient id="fr74" x1="462.6" x2="580" y1="0" y2="0" gradientUnits="userSpaceOnUse"><stop offset="0" stop-color="#f4fcc6"/><stop offset="0.5" stop-color="#fbf5c4"/><stop offset="1" stop-color="#fde9c1"/></linearGradient>
<linearGradient id="fr75" x1="462.6" x2="580" y1="0" y2="0" gradientUnits="userSpaceOnUse"><stop offset="0" stop-color="#f5fcc6"/><stop offset="0.5" stop-color="#fbf5c4"/><stop offset="1" stop-color="#fde9c1"/></linearGradient>
<linearGradient id="fr76" x1="462.6" x2="580" y1="0" y2="0" gradientUnits="userSpaceOnUse"><stop offset="0" stop-color="#f5fcc6"/><stop offset="0.5" stop-color="#fbf5c4"/><stop offset="1" stop-color="#fde9c1"/></linearGradient>
<linearGradient id="fr77" x1="462.6" x2="580" y1="0" y2="0" gradientUnits="userSpaceOnUse"><stop offset="0" stop-color="#f5fcc6"/><stop offset="0.5" stop-color="#fbf5c4"/><stop offset="1" stop-color="#fde8c1"/></linearGradient>
<linearGradient id="fr78" x1="462.6" x2="580" y1="0" y2="0" gradientUnits="userSpaceOnUse"><stop offset="0" stop-color="#f5fcc6"/><stop offset="0.5" stop-color="#fbf5c4"/><stop offset="1" stop-color="#fde8c1"/></linearGradient>
<linearGradient id="fr79" x1="462.6" x2="580" y1="0" y2="0" gradientUnits="userSpaceOnUse"><stop offset="0" stop-color="#f6fcc6"/><stop offset="0.5" stop-color="#fbf5c4"/><stop offset="1" stop-color="#fde8c1"/></linearGradient>
<linearGradient id="fr80" x1="462.6" x2="580" y1="0" y2="0" gradientUnits="userSpaceOnUse"><stop offset="0" stop-color="#f6fcc7"/><stop offset="0.5" stop-color="#fbf5c4"/><stop offset="1" stop-color="#fde8c1"/></linearGradient>
<linearGradient id="fr81" x1="462.6" x2="580" y1="0" y2="0" gradientUnits="userSpaceOnUse"><stop offset="0" stop-color="#f6fcc7"/><stop offset="0.5" stop-color="#fbf5c4"/><stop offset="1" stop-color="#fde7c1"/></linearGradient>
<linearGradient id="fr82" x1="462.6" x2="580" y1="0" y2="0" gradientUnits="userSpaceOnUse"><stop offset="0" stop-color="#f7fcc7"/><stop offset="0.5" stop-color="#fcf4c4"/><stop offset="1" stop-color="#fde7c0"/></linearGradient>
<linearGradient id="fr83" x1="462.6" x2="580" y1="0" y2="0" gradientUnits="userSpaceOnUse"><stop offset="0" stop-color="#f7fcc7"/><stop offset="0.5" stop-color="#fcf4c4"/><stop offset="1" stop-color="#fde7c0"/></linearGradient>
<linearGradient id="fr84" x1="462.6" x2="580" y1="0" y2="0" gradientUnits="userSpaceOnUse"><stop offset="0" stop-color="#f7fcc7"/><stop offset="0.5" stop-color="#fcf4c4"/><stop offset="1" stop-color="#fde7c0"/></linearGradient>
<linearGradient id="fr85" x1="462.6" x2="580" y1="0" y2="0" gradientUnits="userSpaceOnUse"><stop offset="0" stop-color="#f7fcc8"/><stop offset="0.5" stop-color="#fcf4c4"/><stop offset="1" stop-color="#fde7c0"/></linearGradient>
<linearGradient id="fr86" x1="462.6" x2="580" y1="0" y2="0" gradientUnits="userSpaceOnUse"><stop offset="0" stop-color="#f8fcc8"/><stop offset="0.5" stop-color="#fcf4c4"/><stop offset="1" stop-color="#fde6c0"/></linearGradient>
<linearGradient id="fr87" x1="462.6" x2="580" y1="0" y2="0" gradientUnits="userSpaceOnUse"><stop offset="0" stop-color="#f8fcc8"/><stop offset="0.5" stop-color="#fcf4c4"/><stop offset="1" stop-color="#fde6c0"/></linearGradient>
<radialGradient id="gDot" cx="0.38" cy="0.32" r="0.7"><stop offset="0" stop-color="#bbbbbb"/><stop offset="0.35" stop-color="#333"/><stop offset="1" stop-color="#050505"/></radialGradient></defs><path d="M20.9,8.6 L20.9,10.9 L20.9,13.81 L20.9,17.26 L20.89,21.17 L20.89,25.48 L20.89,30.11 L20.9,34.97 L20.9,40 L20.91,45.43 L20.92,51.43 L20.93,57.83 L20.94,64.46 L20.96,71.17 L20.97,77.77 L20.99,84.1 L21,90 L21.01,95.62 L21,101.17 L20.99,106.61 L20.99,111.88 L20.99,116.9 L21,121.64 L21.04,126.03 L21.1,130 L21.19,133.46 L21.29,136.41 L21.42,138.96 L21.56,141.25 L21.71,143.38 L21.87,145.47 L22.03,147.64 L22.2,150 L22.38,152.58 L22.57,155.29 L22.77,158.04 L22.98,160.78 L23.19,163.41 L23.4,165.87 L23.61,168.09 L23.8,170 L23.97,171.57 L24.13,172.88 L24.28,173.96 L24.43,174.86 L24.58,175.63 L24.76,176.31 L24.96,176.95 L25.2,177.6 L25.48,178.24 L25.8,178.81 L26.15,179.33 L26.51,179.76 L26.89,180.12 L27.27,180.38 L27.64,180.54 L28,180.6 L28.36,180.54 L28.74,180.38 L29.12,180.12 L29.5,179.76 L29.87,179.33 L30.21,178.81 L30.53,178.24 L30.8,177.6 L31.01,176.95 L31.15,176.31 L31.25,175.63 L31.34,174.86 L31.43,173.96 L31.55,172.88 L31.74,171.57 L32,170 L32.34,168.09 L32.74,165.87 L33.19,163.41 L33.67,160.78 L34.19,158.04 L34.72,155.29 L35.26,152.58 L35.8,150 L36.37,147.45 L36.98,144.84 L37.61,142.19 L38.26,139.56 L38.9,136.99 L39.52,134.51 L40.09,132.17 L40.6,130 L41.03,128.14 L41.38,126.61 L41.69,125.28 L41.97,124.01 L42.26,122.68 L42.58,121.15 L42.95,119.3 L43.4,117 L43.93,114.17 L44.53,110.91 L45.17,107.33 L45.84,103.56 L46.54,99.7 L47.24,95.88 L47.93,92.2 L48.6,88.8 L49.26,85.58 L49.92,82.4 L50.58,79.29 L51.24,76.25 L51.9,73.31 L52.57,70.5 L53.23,67.82 L53.9,65.3 L54.57,62.93 L55.25,60.69 L55.94,58.58 L56.62,56.59 L57.31,54.73 L57.98,53 L58.65,51.39 L59.3,49.9 L59.93,48.56 L60.55,47.38 L61.16,46.35 L61.76,45.43 L62.36,44.6 L62.97,43.85 L63.58,43.16 L64.2,42.5 L64.83,41.87 L65.45,41.3 L66.07,40.78 L66.7,40.34 L67.34,39.98 L68,39.72 L68.69,39.55 L69.4,39.5 L70.15,39.58 L70.92,39.79 L71.72,40.12 L72.53,40.53 L73.36,41.01 L74.2,41.53 L75.05,42.07 L75.9,42.6 L76.75,43.13 L77.59,43.68 L78.44,44.26 L79.29,44.88 L80.17,45.54 L81.08,46.26 L82.02,47.05 L83,47.9 L84.04,48.84 L85.14,49.86 L86.28,50.94 L87.44,52.08 L88.61,53.26 L89.78,54.46 L90.91,55.68 L92,56.9 L93.04,58.13 L94.05,59.41 L95.04,60.71 L96.02,62.02 L96.99,63.35 L97.97,64.68 L98.97,66 L100,67.3 L101.05,68.57 L102.12,69.83 L103.21,71.07 L104.3,72.32 L105.4,73.57 L106.5,74.85 L107.6,76.15 L108.7,77.5 L109.8,78.89 L110.9,80.32 L112,81.78 L113.1,83.26 L114.2,84.75 L115.3,86.25 L116.4,87.73 L117.5,89.2 L118.59,90.63 L119.68,92.04 L120.77,93.43 L121.85,94.82 L122.93,96.23 L124.02,97.69 L125.11,99.21 L126.2,100.8 L127.3,102.48 L128.4,104.24 L129.5,106.06 L130.6,107.91 L131.7,109.79 L132.8,111.68 L133.9,113.55 L135,115.4 L136.09,117.22 L137.18,119.02 L138.27,120.81 L139.35,122.61 L140.43,124.42 L141.52,126.25 L142.61,128.11 L143.7,130 L144.8,131.95 L145.91,133.94 L147.02,135.98 L148.13,138.03 L149.24,140.07 L150.34,142.09 L151.43,144.08 L152.5,146 L153.61,147.96 L154.78,150.01 L155.98,152.08 L157.15,154.1 L158.25,155.99 L159.24,157.69 L160.07,159.12 L160.7,160.2 L160.7,184.3 L20.5,184.3 Z" fill="url(#gA)"/>
<path d="M20.9,8.6 L20.9,10.9 L20.9,13.81 L20.9,17.26 L20.89,21.17 L20.89,25.48 L20.89,30.11 L20.9,34.97 L20.9,40 L20.91,45.43 L20.92,51.43 L20.93,57.83 L20.94,64.46 L20.96,71.17 L20.97,77.77 L20.99,84.1 L21,90 L21.01,95.62 L21,101.17 L20.99,106.61 L20.99,111.88 L20.99,116.9 L21,121.64 L21.04,126.03 L21.1,130 L21.19,133.46 L21.29,136.41 L21.42,138.96 L21.56,141.25 L21.71,143.38 L21.87,145.47 L22.03,147.64 L22.2,150 L22.38,152.58 L22.57,155.29 L22.77,158.04 L22.98,160.78 L23.19,163.41 L23.4,165.87 L23.61,168.09 L23.8,170 L23.97,171.57 L24.13,172.88 L24.28,173.96 L24.43,174.86 L24.58,175.63 L24.76,176.31 L24.96,176.95 L25.2,177.6 L25.48,178.24 L25.8,178.81 L26.15,179.33 L26.51,179.76 L26.89,180.12 L27.27,180.38 L27.64,180.54 L28,180.6 L28.36,180.54 L28.74,180.38 L29.12,180.12 L29.5,179.76 L29.87,179.33 L30.21,178.81 L30.53,178.24 L30.8,177.6 L31.01,176.95 L31.15,176.31 L31.25,175.63 L31.34,174.86 L31.43,173.96 L31.55,172.88 L31.74,171.57 L32,170 L32.34,168.09 L32.74,165.87 L33.19,163.41 L33.67,160.78 L34.19,158.04 L34.72,155.29 L35.26,152.58 L35.8,150 L36.37,147.45 L36.98,144.84 L37.61,142.19 L38.26,139.56 L38.9,136.99 L39.52,134.51 L40.09,132.17 L40.6,130 L41.03,128.14 L41.38,126.61 L41.69,125.28 L41.97,124.01 L42.26,122.68 L42.58,121.15 L42.95,119.3 L43.4,117 L43.93,114.17 L44.53,110.91 L45.17,107.33 L45.84,103.56 L46.54,99.7 L47.24,95.88 L47.93,92.2 L48.6,88.8 L49.26,85.58 L49.92,82.4 L50.58,79.29 L51.24,76.25 L51.9,73.31 L52.57,70.5 L53.23,67.82 L53.9,65.3 L54.57,62.93 L55.25,60.69 L55.94,58.58 L56.62,56.59 L57.31,54.73 L57.98,53 L58.65,51.39 L59.3,49.9 L59.93,48.56 L60.55,47.38 L61.16,46.35 L61.76,45.43 L62.36,44.6 L62.97,43.85 L63.58,43.16 L64.2,42.5 L64.83,41.87 L65.45,41.3 L66.07,40.78 L66.7,40.34 L67.34,39.98 L68,39.72 L68.69,39.55 L69.4,39.5 L70.15,39.58 L70.92,39.79 L71.72,40.12 L72.53,40.53 L73.36,41.01 L74.2,41.53 L75.05,42.07 L75.9,42.6 L76.75,43.13 L77.59,43.68 L78.44,44.26 L79.29,44.88 L80.17,45.54 L81.08,46.26 L82.02,47.05 L83,47.9 L84.04,48.84 L85.14,49.86 L86.28,50.94 L87.44,52.08 L88.61,53.26 L89.78,54.46 L90.91,55.68 L92,56.9 L93.04,58.13 L94.05,59.41 L95.04,60.71 L96.02,62.02 L96.99,63.35 L97.97,64.68 L98.97,66 L100,67.3 L101.05,68.57 L102.12,69.83 L103.21,71.07 L104.3,72.32 L105.4,73.57 L106.5,74.85 L107.6,76.15 L108.7,77.5 L109.8,78.89 L110.9,80.32 L112,81.78 L113.1,83.26 L114.2,84.75 L115.3,86.25 L116.4,87.73 L117.5,89.2 L118.59,90.63 L119.68,92.04 L120.77,93.43 L121.85,94.82 L122.93,96.23 L124.02,97.69 L125.11,99.21 L126.2,100.8 L127.3,102.48 L128.4,104.24 L129.5,106.06 L130.6,107.91 L131.7,109.79 L132.8,111.68 L133.9,113.55 L135,115.4 L136.09,117.22 L137.18,119.02 L138.27,120.81 L139.35,122.61 L140.43,124.42 L141.52,126.25 L142.61,128.11 L143.7,130 L144.8,131.95 L145.91,133.94 L147.02,135.98 L148.13,138.03 L149.24,140.07 L150.34,142.09 L151.43,144.08 L152.5,146 L153.61,147.96 L154.78,150.01 L155.98,152.08 L157.15,154.1 L158.25,155.99 L159.24,157.69 L160.07,159.12 L160.7,160.2" fill="none" stroke="#111" stroke-width="1.3" stroke-linejoin="round"/>
<svg x="95.7" y="8.3" width="65" height="40.4" viewBox="95.7 8.3 65 40.4" overflow="hidden">
<rect x="95.7" y="8.3" width="65" height="40.4" fill="url(#gBg)"/>
<g filter="url(#blr2)"><line x1="105.5" y1="26" x2="106.8" y2="49" stroke="#a08070" stroke-width="3" opacity="0.6"/><line x1="154.7" y1="21" x2="159.3" y2="41" stroke="#908070" stroke-width="3" opacity="0.6"/></g>
<g filter="url(#blr1)">
<ellipse cx="129" cy="29" rx="17.2" ry="18.8" fill="#5c5e58" opacity="0.7"/>
<ellipse cx="129" cy="29" rx="14.6" ry="16.4" fill="#8c8e78" stroke="#b8bc9e" stroke-width="2.6"/>
<ellipse cx="129" cy="29" rx="10.8" ry="12.2" fill="none" stroke="#a8ac90" stroke-width="1.4"/>
<path d="M122,15.5 Q129,19 136,15.5 L134,20 L124,20 Z M122,42.5 Q129,39 136,42.5 L134,38 L124,38 Z" fill="#a4a88c" opacity="0.8"/>
<circle cx="129.3" cy="29.4" r="8.6" fill="#d6d8c6"/>
<circle cx="129.3" cy="29.4" r="7.1" fill="#fbfbf8"/>
<line x1="105.5" y1="26" x2="106.6" y2="49" stroke="#f0e8e0" stroke-width="1.1"/>
<line x1="155" y1="21.5" x2="159.3" y2="41" stroke="#f0ece0" stroke-width="1.1"/>
</g>
</svg>
<rect x="20.5" y="8.4" width="140.2" height="175.9" fill="none" stroke="#161616" stroke-width="1.2"/>
<line x1="28.6" y1="184.3" x2="28.6" y2="187.9" stroke="#161616" stroke-width="1.1"/>
<text x="28.6" y="198.6" font-size="11.3" text-anchor="middle" fill="#161616" stroke="#161616" stroke-width="0.15">450</text>
<line x1="48.6" y1="184.3" x2="48.6" y2="186.5" stroke="#161616" stroke-width="1.1"/>
<line x1="68.6" y1="184.3" x2="68.6" y2="187.9" stroke="#161616" stroke-width="1.1"/>
<text x="68.6" y="198.6" font-size="11.3" text-anchor="middle" fill="#161616" stroke="#161616" stroke-width="0.15">550</text>
<line x1="88.6" y1="184.3" x2="88.6" y2="186.5" stroke="#161616" stroke-width="1.1"/>
<line x1="108.6" y1="184.3" x2="108.6" y2="187.9" stroke="#161616" stroke-width="1.1"/>
<text x="108.6" y="198.6" font-size="11.3" text-anchor="middle" fill="#161616" stroke="#161616" stroke-width="0.15">650</text>
<line x1="128.6" y1="184.3" x2="128.6" y2="186.5" stroke="#161616" stroke-width="1.1"/>
<line x1="148.6" y1="184.3" x2="148.6" y2="187.9" stroke="#161616" stroke-width="1.1"/>
<text x="148.6" y="198.6" font-size="11.3" text-anchor="middle" fill="#161616" stroke="#161616" stroke-width="0.15">750</text>
<text x="90.6" y="213.7" font-size="13.2" text-anchor="middle" fill="#161616" stroke="#161616" stroke-width="0.15" textLength="102.2" lengthAdjust="spacingAndGlyphs">Wavelength (nm)</text>
<text x="11" y="96.7" font-size="13.2" text-anchor="middle" fill="#161616" stroke="#161616" stroke-width="0.15" textLength="85.2" lengthAdjust="spacingAndGlyphs" transform="rotate(-90 11 96.7)">Intensity (a.u.)</text>
<text x="-0.4" y="11.8" font-size="13.3" text-anchor="start" fill="#161616" stroke="#161616" stroke-width="0.15">(a)</text>
<path d="M20,301.81 L20.11,304.97 L20.25,309.27 L20.41,314.39 L20.6,320.04 L20.79,325.89 L20.99,331.62 L21.19,336.94 L21.39,341.51 L21.57,345.48 L21.77,349.2 L21.96,352.69 L22.16,355.97 L22.36,359.07 L22.57,362 L22.77,364.8 L22.97,367.47 L23.16,370 L23.35,372.35 L23.54,374.53 L23.73,376.56 L23.92,378.45 L24.12,380.23 L24.33,381.91 L24.55,383.5 L24.78,385 L25.02,386.39 L25.27,387.66 L25.53,388.82 L25.79,389.87 L26.04,390.81 L26.29,391.64 L26.52,392.36 L26.73,392.95 L26.93,393.41 L27.12,393.74 L27.31,393.97 L27.5,394.12 L27.69,394.19 L27.89,394.21 L28.1,394.19 L28.31,394.18 L28.52,394.18 L28.72,394.14 L28.94,394.02 L29.17,393.78 L29.43,393.38 L29.73,392.77 L30.08,391.9 L30.46,390.86 L30.88,389.7 L31.32,388.39 L31.8,386.89 L32.31,385.16 L32.85,383.15 L33.42,380.83 L34.03,378.16 L34.68,374.96 L35.41,371.18 L36.19,367.01 L36.99,362.6 L37.79,358.14 L38.56,353.79 L39.29,349.72 L39.95,346.09 L40.54,342.91 L41.07,340 L41.56,337.29 L42.02,334.74 L42.48,332.26 L42.93,329.81 L43.4,327.31 L43.9,324.71 L44.42,322.04 L44.94,319.37 L45.47,316.7 L46,314.03 L46.54,311.35 L47.09,308.68 L47.66,306.01 L48.25,303.34 L48.85,300.62 L49.46,297.85 L50.1,295.05 L50.74,292.27 L51.39,289.53 L52.05,286.87 L52.71,284.34 L53.38,281.96 L54.06,279.71 L54.75,277.53 L55.46,275.45 L56.17,273.47 L56.88,271.59 L57.57,269.83 L58.25,268.19 L58.91,266.69 L59.54,265.34 L60.15,264.14 L60.75,263.07 L61.33,262.11 L61.91,261.25 L62.48,260.46 L63.06,259.74 L63.65,259.05 L64.23,258.42 L64.8,257.84 L65.36,257.34 L65.92,256.91 L66.5,256.55 L67.09,256.28 L67.72,256.09 L68.39,256 L69.1,256 L69.84,256.11 L70.61,256.3 L71.4,256.57 L72.21,256.92 L73.04,257.32 L73.87,257.78 L74.71,258.29 L75.55,258.85 L76.39,259.46 L77.25,260.13 L78.12,260.87 L79,261.66 L79.91,262.51 L80.85,263.43 L81.82,264.4 L82.84,265.45 L83.9,266.59 L85,267.79 L86.12,269.06 L87.24,270.36 L88.36,271.68 L89.45,273.01 L90.51,274.32 L91.53,275.65 L92.52,277 L93.5,278.38 L94.46,279.77 L95.42,281.17 L96.4,282.57 L97.39,283.95 L98.41,285.32 L99.46,286.66 L100.53,287.97 L101.61,289.28 L102.71,290.58 L103.81,291.89 L104.91,293.22 L106.01,294.59 L107.1,296.01 L108.19,297.47 L109.27,298.99 L110.36,300.53 L111.44,302.1 L112.53,303.68 L113.62,305.26 L114.7,306.83 L115.79,308.38 L116.88,309.89 L117.96,311.37 L119.05,312.83 L120.14,314.29 L121.22,315.78 L122.31,317.32 L123.39,318.91 L124.48,320.59 L125.57,322.37 L126.65,324.22 L127.74,326.14 L128.83,328.1 L129.91,330.09 L131,332.08 L132.08,334.07 L133.17,336.01 L134.26,337.93 L135.34,339.84 L136.43,341.74 L137.52,343.64 L138.6,345.55 L139.69,347.49 L140.77,349.44 L141.86,351.44 L142.95,353.49 L144.05,355.59 L145.15,357.74 L146.25,359.89 L147.35,362.04 L148.43,364.16 L149.5,366.24 L150.55,368.23 L151.63,370.26 L152.77,372.36 L153.92,374.48 L155.04,376.54 L156.1,378.46 L157.05,380.19 L157.85,381.64 L158.45,382.74" fill="none" stroke="#5a8c7a" stroke-width="1.35" stroke-linejoin="round" clip-path="url(#clipD)"/>
<path d="M20,312.52 L20.11,315.36 L20.25,319.23 L20.41,323.84 L20.6,328.92 L20.79,334.18 L20.99,339.35 L21.19,344.13 L21.39,348.24 L21.57,351.82 L21.77,355.16 L21.96,358.3 L22.16,361.25 L22.36,364.04 L22.57,366.68 L22.77,369.19 L22.97,371.6 L23.16,373.88 L23.35,375.99 L23.54,377.95 L23.73,379.78 L23.92,381.48 L24.12,383.09 L24.33,384.6 L24.55,386.03 L24.78,387.38 L25.02,388.62 L25.27,389.77 L25.53,390.81 L25.79,391.76 L26.04,392.6 L26.29,393.35 L26.52,394 L26.73,394.53 L26.93,394.94 L27.12,395.24 L27.31,395.45 L27.5,395.58 L27.69,395.64 L27.89,395.66 L28.1,395.65 L28.31,395.64 L28.52,395.63 L28.72,395.6 L28.94,395.49 L29.17,395.28 L29.43,394.91 L29.73,394.36 L30.08,393.59 L30.46,392.65 L30.88,391.61 L31.32,390.43 L31.8,389.08 L32.31,387.52 L32.85,385.71 L33.42,383.63 L34.03,381.22 L34.68,378.34 L35.41,374.94 L36.19,371.18 L36.99,367.22 L37.79,363.21 L38.56,359.29 L39.29,355.63 L39.95,352.37 L40.54,349.5 L41.07,346.88 L41.56,344.45 L42.02,342.15 L42.48,339.92 L42.93,337.71 L43.4,335.47 L43.9,333.13 L44.42,330.73 L44.94,328.32 L45.47,325.92 L46,323.51 L46.54,321.11 L47.09,318.7 L47.66,316.3 L48.25,313.89 L48.85,311.45 L49.46,308.96 L50.1,306.44 L50.74,303.93 L51.39,301.47 L52.05,299.08 L52.71,296.8 L53.38,294.66 L54.06,292.63 L54.75,290.68 L55.46,288.8 L56.17,287.02 L56.88,285.33 L57.57,283.74 L58.25,282.27 L58.91,280.92 L59.54,279.7 L60.15,278.62 L60.75,277.66 L61.33,276.8 L61.91,276.02 L62.48,275.31 L63.06,274.66 L63.65,274.05 L64.23,273.47 L64.8,272.96 L65.36,272.5 L65.92,272.12 L66.5,271.8 L67.09,271.55 L67.72,271.39 L68.39,271.3 L69.1,271.3 L69.84,271.4 L70.61,271.57 L71.4,271.82 L72.21,272.13 L73.04,272.49 L73.87,272.91 L74.71,273.36 L75.55,273.86 L76.39,274.41 L77.25,275.02 L78.12,275.68 L79,276.39 L79.91,277.16 L80.85,277.98 L81.82,278.86 L82.84,279.8 L83.9,280.83 L85,281.91 L86.12,283.05 L87.24,284.22 L88.36,285.41 L89.45,286.6 L90.51,287.79 L91.53,288.98 L92.52,290.2 L93.5,291.44 L94.46,292.69 L95.42,293.95 L96.4,295.2 L97.39,296.45 L98.41,297.68 L99.46,298.89 L100.53,300.07 L101.61,301.24 L102.71,302.41 L103.81,303.59 L104.91,304.79 L106.01,306.03 L107.1,307.3 L108.19,308.62 L109.27,309.98 L110.36,311.37 L111.44,312.78 L112.53,314.2 L113.62,315.62 L114.7,317.03 L115.79,318.43 L116.88,319.79 L117.96,321.12 L119.05,322.43 L120.14,323.75 L121.22,325.09 L122.31,326.47 L123.39,327.91 L124.48,329.42 L125.57,331.02 L126.65,332.69 L127.74,334.41 L128.83,336.18 L129.91,337.97 L131,339.76 L132.08,341.54 L133.17,343.3 L134.26,345.02 L135.34,346.74 L136.43,348.45 L137.52,350.16 L138.6,351.88 L139.69,353.62 L140.77,355.38 L141.86,357.18 L142.95,359.02 L144.05,360.91 L145.15,362.84 L146.25,364.78 L147.35,366.72 L148.43,368.63 L149.5,370.49 L150.55,372.29 L151.63,374.11 L152.77,376 L153.92,377.91 L155.04,379.76 L156.1,381.49 L157.05,383.04 L157.85,384.35 L158.45,385.34" fill="none" stroke="#36b0a0" stroke-width="1.35" stroke-linejoin="round" clip-path="url(#clipD)"/>
<path d="M20,322.67 L20.11,325.21 L20.25,328.67 L20.41,332.8 L20.6,337.34 L20.79,342.05 L20.99,346.66 L21.19,350.94 L21.39,354.62 L21.57,357.82 L21.77,360.81 L21.96,363.62 L22.16,366.26 L22.36,368.75 L22.57,371.11 L22.77,373.36 L22.97,375.52 L23.16,377.55 L23.35,379.44 L23.54,381.2 L23.73,382.83 L23.92,384.36 L24.12,385.79 L24.33,387.14 L24.55,388.42 L24.78,389.63 L25.02,390.74 L25.27,391.77 L25.53,392.7 L25.79,393.54 L26.04,394.3 L26.29,394.97 L26.52,395.55 L26.73,396.03 L26.93,396.39 L27.12,396.66 L27.31,396.85 L27.5,396.96 L27.69,397.02 L27.89,397.04 L28.1,397.02 L28.31,397.02 L28.52,397.01 L28.72,396.98 L28.94,396.89 L29.17,396.69 L29.43,396.37 L29.73,395.88 L30.08,395.18 L30.46,394.34 L30.88,393.41 L31.32,392.36 L31.8,391.15 L32.31,389.75 L32.85,388.14 L33.42,386.27 L34.03,384.12 L34.68,381.54 L35.41,378.5 L36.19,375.14 L36.99,371.6 L37.79,368.01 L38.56,364.5 L39.29,361.23 L39.95,358.31 L40.54,355.75 L41.07,353.4 L41.56,351.23 L42.02,349.17 L42.48,347.18 L42.93,345.2 L43.4,343.2 L43.9,341.11 L44.42,338.95 L44.94,336.8 L45.47,334.65 L46,332.5 L46.54,330.35 L47.09,328.2 L47.66,326.05 L48.25,323.9 L48.85,321.71 L49.46,319.48 L50.1,317.23 L50.74,314.99 L51.39,312.79 L52.05,310.65 L52.71,308.61 L53.38,306.69 L54.06,304.88 L54.75,303.13 L55.46,301.45 L56.17,299.86 L56.88,298.35 L57.57,296.93 L58.25,295.61 L58.91,294.4 L59.54,293.32 L60.15,292.35 L60.75,291.49 L61.33,290.72 L61.91,290.02 L62.48,289.39 L63.06,288.81 L63.65,288.26 L64.23,287.74 L64.8,287.28 L65.36,286.88 L65.92,286.53 L66.5,286.24 L67.09,286.03 L67.72,285.88 L68.39,285.8 L69.1,285.8 L69.84,285.89 L70.61,286.04 L71.4,286.26 L72.21,286.54 L73.04,286.87 L73.87,287.24 L74.71,287.64 L75.55,288.09 L76.39,288.58 L77.25,289.13 L78.12,289.72 L79,290.36 L79.91,291.04 L80.85,291.78 L81.82,292.56 L82.84,293.41 L83.9,294.32 L85,295.29 L86.12,296.31 L87.24,297.35 L88.36,298.42 L89.45,299.49 L90.51,300.55 L91.53,301.61 L92.52,302.71 L93.5,303.81 L94.46,304.93 L95.42,306.06 L96.4,307.18 L97.39,308.3 L98.41,309.4 L99.46,310.47 L100.53,311.53 L101.61,312.58 L102.71,313.63 L103.81,314.69 L104.91,315.76 L106.01,316.86 L107.1,318 L108.19,319.18 L109.27,320.4 L110.36,321.64 L111.44,322.9 L112.53,324.17 L113.62,325.44 L114.7,326.71 L115.79,327.95 L116.88,329.17 L117.96,330.36 L119.05,331.54 L120.14,332.72 L121.22,333.92 L122.31,335.15 L123.39,336.44 L124.48,337.79 L125.57,339.21 L126.65,340.71 L127.74,342.25 L128.83,343.83 L129.91,345.43 L131,347.04 L132.08,348.63 L133.17,350.2 L134.26,351.74 L135.34,353.28 L136.43,354.81 L137.52,356.34 L138.6,357.88 L139.69,359.43 L140.77,361.01 L141.86,362.61 L142.95,364.26 L144.05,365.96 L145.15,367.68 L146.25,369.42 L147.35,371.15 L148.43,372.86 L149.5,374.52 L150.55,376.13 L151.63,377.76 L152.77,379.45 L153.92,381.16 L155.04,382.81 L156.1,384.36 L157.05,385.75 L157.85,386.92 L158.45,387.81" fill="none" stroke="#5adc5a" stroke-width="1.35" stroke-linejoin="round" clip-path="url(#clipD)"/>
<path d="M20,331.21 L20.11,333.5 L20.25,336.62 L20.41,340.33 L20.6,344.42 L20.79,348.66 L20.99,352.82 L21.19,356.67 L21.39,359.99 L21.57,362.87 L21.77,365.57 L21.96,368.1 L22.16,370.47 L22.36,372.72 L22.57,374.85 L22.77,376.87 L22.97,378.81 L23.16,380.64 L23.35,382.34 L23.54,383.93 L23.73,385.4 L23.92,386.77 L24.12,388.06 L24.33,389.28 L24.55,390.43 L24.78,391.52 L25.02,392.52 L25.27,393.45 L25.53,394.29 L25.79,395.05 L26.04,395.73 L26.29,396.33 L26.52,396.86 L26.73,397.29 L26.93,397.62 L27.12,397.86 L27.31,398.02 L27.5,398.13 L27.69,398.18 L27.89,398.2 L28.1,398.18 L28.31,398.18 L28.52,398.17 L28.72,398.14 L28.94,398.06 L29.17,397.89 L29.43,397.59 L29.73,397.15 L30.08,396.52 L30.46,395.77 L30.88,394.93 L31.32,393.98 L31.8,392.89 L32.31,391.63 L32.85,390.18 L33.42,388.5 L34.03,386.56 L34.68,384.24 L35.41,381.5 L36.19,378.47 L36.99,375.28 L37.79,372.05 L38.56,368.89 L39.29,365.94 L39.95,363.31 L40.54,361 L41.07,358.89 L41.56,356.93 L42.02,355.08 L42.48,353.29 L42.93,351.51 L43.4,349.7 L43.9,347.81 L44.42,345.88 L44.94,343.94 L45.47,342 L46,340.07 L46.54,338.13 L47.09,336.19 L47.66,334.25 L48.25,332.32 L48.85,330.35 L49.46,328.34 L50.1,326.31 L50.74,324.29 L51.39,322.31 L52.05,320.38 L52.71,318.54 L53.38,316.82 L54.06,315.19 L54.75,313.61 L55.46,312.1 L56.17,310.66 L56.88,309.3 L57.57,308.02 L58.25,306.84 L58.91,305.75 L59.54,304.77 L60.15,303.9 L60.75,303.12 L61.33,302.43 L61.91,301.8 L62.48,301.23 L63.06,300.71 L63.65,300.21 L64.23,299.75 L64.8,299.34 L65.36,298.97 L65.92,298.66 L66.5,298.4 L67.09,298.2 L67.72,298.07 L68.39,298 L69.1,298 L69.84,298.08 L70.61,298.22 L71.4,298.42 L72.21,298.66 L73.04,298.96 L73.87,299.29 L74.71,299.66 L75.55,300.06 L76.39,300.51 L77.25,301 L78.12,301.53 L79,302.1 L79.91,302.72 L80.85,303.38 L81.82,304.09 L82.84,304.85 L83.9,305.67 L85,306.55 L86.12,307.46 L87.24,308.41 L88.36,309.37 L89.45,310.33 L90.51,311.28 L91.53,312.24 L92.52,313.23 L93.5,314.23 L94.46,315.23 L95.42,316.25 L96.4,317.26 L97.39,318.26 L98.41,319.25 L99.46,320.23 L100.53,321.18 L101.61,322.12 L102.71,323.07 L103.81,324.02 L104.91,324.99 L106.01,325.98 L107.1,327 L108.19,328.07 L109.27,329.16 L110.36,330.28 L111.44,331.42 L112.53,332.56 L113.62,333.71 L114.7,334.85 L115.79,335.97 L116.88,337.07 L117.96,338.14 L119.05,339.2 L120.14,340.26 L121.22,341.34 L122.31,342.45 L123.39,343.61 L124.48,344.83 L125.57,346.11 L126.65,347.46 L127.74,348.85 L128.83,350.27 L129.91,351.71 L131,353.16 L132.08,354.59 L133.17,356.01 L134.26,357.4 L135.34,358.78 L136.43,360.16 L137.52,361.53 L138.6,362.92 L139.69,364.32 L140.77,365.74 L141.86,367.19 L142.95,368.67 L144.05,370.2 L145.15,371.75 L146.25,373.32 L147.35,374.88 L148.43,376.41 L149.5,377.92 L150.55,379.36 L151.63,380.83 L152.77,382.36 L153.92,383.89 L155.04,385.38 L156.1,386.78 L157.05,388.03 L157.85,389.08 L158.45,389.88" fill="none" stroke="#40bcc4" stroke-width="1.35" stroke-linejoin="round" clip-path="url(#clipD)"/>
<path d="M20,341.36 L20.11,343.35 L20.25,346.06 L20.41,349.29 L20.6,352.84 L20.79,356.53 L20.99,360.14 L21.19,363.49 L21.39,366.37 L21.57,368.87 L21.77,371.22 L21.96,373.41 L22.16,375.48 L22.36,377.43 L22.57,379.28 L22.77,381.04 L22.97,382.73 L23.16,384.32 L23.35,385.8 L23.54,387.17 L23.73,388.45 L23.92,389.65 L24.12,390.77 L24.33,391.82 L24.55,392.83 L24.78,393.77 L25.02,394.64 L25.27,395.44 L25.53,396.18 L25.79,396.84 L26.04,397.43 L26.29,397.95 L26.52,398.41 L26.73,398.78 L26.93,399.07 L27.12,399.28 L27.31,399.42 L27.5,399.51 L27.69,399.56 L27.89,399.57 L28.1,399.56 L28.31,399.55 L28.52,399.55 L28.72,399.53 L28.94,399.45 L29.17,399.3 L29.43,399.05 L29.73,398.66 L30.08,398.12 L30.46,397.46 L30.88,396.73 L31.32,395.91 L31.8,394.96 L32.31,393.87 L32.85,392.61 L33.42,391.14 L34.03,389.46 L34.68,387.44 L35.41,385.06 L36.19,382.43 L36.99,379.66 L37.79,376.85 L38.56,374.11 L39.29,371.54 L39.95,369.26 L40.54,367.25 L41.07,365.42 L41.56,363.71 L42.02,362.1 L42.48,360.54 L42.93,359 L43.4,357.43 L43.9,355.79 L44.42,354.11 L44.94,352.42 L45.47,350.74 L46,349.06 L46.54,347.37 L47.09,345.69 L47.66,344.01 L48.25,342.32 L48.85,340.61 L49.46,338.86 L50.1,337.1 L50.74,335.35 L51.39,333.62 L52.05,331.95 L52.71,330.35 L53.38,328.85 L54.06,327.43 L54.75,326.07 L55.46,324.75 L56.17,323.5 L56.88,322.32 L57.57,321.21 L58.25,320.18 L58.91,319.23 L59.54,318.38 L60.15,317.63 L60.75,316.95 L61.33,316.35 L61.91,315.8 L62.48,315.31 L63.06,314.85 L63.65,314.42 L64.23,314.02 L64.8,313.66 L65.36,313.34 L65.92,313.07 L66.5,312.85 L67.09,312.68 L67.72,312.56 L68.39,312.5 L69.1,312.5 L69.84,312.57 L70.61,312.69 L71.4,312.86 L72.21,313.08 L73.04,313.33 L73.87,313.62 L74.71,313.94 L75.55,314.29 L76.39,314.68 L77.25,315.1 L78.12,315.57 L79,316.07 L79.91,316.6 L80.85,317.18 L81.82,317.79 L82.84,318.45 L83.9,319.17 L85,319.93 L86.12,320.73 L87.24,321.54 L88.36,322.38 L89.45,323.21 L90.51,324.04 L91.53,324.88 L92.52,325.73 L93.5,326.6 L94.46,327.48 L95.42,328.36 L96.4,329.24 L97.39,330.11 L98.41,330.97 L99.46,331.81 L100.53,332.64 L101.61,333.46 L102.71,334.28 L103.81,335.11 L104.91,335.95 L106.01,336.81 L107.1,337.7 L108.19,338.63 L109.27,339.58 L110.36,340.55 L111.44,341.54 L112.53,342.54 L113.62,343.53 L114.7,344.52 L115.79,345.5 L116.88,346.45 L117.96,347.38 L119.05,348.3 L120.14,349.22 L121.22,350.16 L122.31,351.13 L123.39,352.13 L124.48,353.19 L125.57,354.31 L126.65,355.48 L127.74,356.69 L128.83,357.92 L129.91,359.18 L131,360.43 L132.08,361.68 L133.17,362.91 L134.26,364.12 L135.34,365.32 L136.43,366.51 L137.52,367.71 L138.6,368.92 L139.69,370.14 L140.77,371.37 L141.86,372.62 L142.95,373.92 L144.05,375.24 L145.15,376.59 L146.25,377.95 L147.35,379.31 L148.43,380.64 L149.5,381.95 L150.55,383.21 L151.63,384.48 L152.77,385.81 L153.92,387.14 L155.04,388.44 L156.1,389.65 L157.05,390.74 L157.85,391.65 L158.45,392.35" fill="none" stroke="#3a8cbc" stroke-width="1.35" stroke-linejoin="round" clip-path="url(#clipD)"/>
<path d="M20,350.74 L20.11,352.45 L20.25,354.78 L20.41,357.56 L20.6,360.62 L20.79,363.79 L20.99,366.91 L21.19,369.79 L21.39,372.27 L21.57,374.42 L21.77,376.44 L21.96,378.33 L22.16,380.11 L22.36,381.79 L22.57,383.38 L22.77,384.89 L22.97,386.34 L23.16,387.71 L23.35,388.99 L23.54,390.17 L23.73,391.27 L23.92,392.3 L24.12,393.26 L24.33,394.17 L24.55,395.04 L24.78,395.85 L25.02,396.6 L25.27,397.29 L25.53,397.92 L25.79,398.49 L26.04,399 L26.29,399.45 L26.52,399.84 L26.73,400.16 L26.93,400.41 L27.12,400.59 L27.31,400.71 L27.5,400.79 L27.69,400.83 L27.89,400.84 L28.1,400.83 L28.31,400.83 L28.52,400.83 L28.72,400.8 L28.94,400.74 L29.17,400.61 L29.43,400.39 L29.73,400.06 L30.08,399.59 L30.46,399.03 L30.88,398.4 L31.32,397.69 L31.8,396.88 L32.31,395.94 L32.85,394.85 L33.42,393.59 L34.03,392.14 L34.68,390.4 L35.41,388.36 L36.19,386.09 L36.99,383.7 L37.79,381.28 L38.56,378.92 L39.29,376.72 L39.95,374.75 L40.54,373.03 L41.07,371.45 L41.56,369.98 L42.02,368.59 L42.48,367.25 L42.93,365.92 L43.4,364.57 L43.9,363.16 L44.42,361.71 L44.94,360.26 L45.47,358.81 L46,357.36 L46.54,355.91 L47.09,354.47 L47.66,353.02 L48.25,351.57 L48.85,350.1 L49.46,348.59 L50.1,347.08 L50.74,345.56 L51.39,344.08 L52.05,342.64 L52.71,341.27 L53.38,339.98 L54.06,338.75 L54.75,337.58 L55.46,336.45 L56.17,335.37 L56.88,334.35 L57.57,333.4 L58.25,332.51 L58.91,331.7 L59.54,330.96 L60.15,330.31 L60.75,329.73 L61.33,329.21 L61.91,328.74 L62.48,328.32 L63.06,327.93 L63.65,327.56 L64.23,327.21 L64.8,326.9 L65.36,326.63 L65.92,326.39 L66.5,326.2 L67.09,326.05 L67.72,325.95 L68.39,325.9 L69.1,325.9 L69.84,325.96 L70.61,326.06 L71.4,326.21 L72.21,326.4 L73.04,326.62 L73.87,326.87 L74.71,327.14 L75.55,327.44 L76.39,327.78 L77.25,328.14 L78.12,328.54 L79,328.97 L79.91,329.43 L80.85,329.93 L81.82,330.45 L82.84,331.02 L83.9,331.64 L85,332.3 L86.12,332.98 L87.24,333.68 L88.36,334.4 L89.45,335.12 L90.51,335.84 L91.53,336.55 L92.52,337.29 L93.5,338.04 L94.46,338.79 L95.42,339.55 L96.4,340.31 L97.39,341.06 L98.41,341.8 L99.46,342.52 L100.53,343.24 L101.61,343.94 L102.71,344.65 L103.81,345.36 L104.91,346.08 L106.01,346.83 L107.1,347.59 L108.19,348.39 L109.27,349.21 L110.36,350.05 L111.44,350.9 L112.53,351.75 L113.62,352.61 L114.7,353.46 L115.79,354.3 L116.88,355.12 L117.96,355.92 L119.05,356.71 L120.14,357.51 L121.22,358.32 L122.31,359.15 L123.39,360.01 L124.48,360.92 L125.57,361.89 L126.65,362.89 L127.74,363.93 L128.83,365 L129.91,366.07 L131,367.16 L132.08,368.23 L133.17,369.29 L134.26,370.33 L135.34,371.36 L136.43,372.39 L137.52,373.42 L138.6,374.46 L139.69,375.51 L140.77,376.57 L141.86,377.65 L142.95,378.76 L144.05,379.9 L145.15,381.07 L146.25,382.24 L147.35,383.4 L148.43,384.55 L149.5,385.67 L150.55,386.76 L151.63,387.85 L152.77,389 L153.92,390.14 L155.04,391.26 L156.1,392.3 L157.05,393.24 L157.85,394.03 L158.45,394.62" fill="none" stroke="#3a46b4" stroke-width="1.35" stroke-linejoin="round" clip-path="url(#clipD)"/>
<path d="M20,358.72 L20.11,360.2 L20.25,362.21 L20.41,364.6 L20.6,367.24 L20.79,369.98 L20.99,372.66 L21.19,375.14 L21.39,377.28 L21.57,379.14 L21.77,380.88 L21.96,382.51 L22.16,384.04 L22.36,385.49 L22.57,386.86 L22.77,388.17 L22.97,389.42 L23.16,390.6 L23.35,391.7 L23.54,392.72 L23.73,393.67 L23.92,394.56 L24.12,395.39 L24.33,396.17 L24.55,396.92 L24.78,397.62 L25.02,398.27 L25.27,398.86 L25.53,399.4 L25.79,399.9 L26.04,400.33 L26.29,400.72 L26.52,401.06 L26.73,401.34 L26.93,401.55 L27.12,401.71 L27.31,401.81 L27.5,401.88 L27.69,401.92 L27.89,401.92 L28.1,401.92 L28.31,401.91 L28.52,401.91 L28.72,401.89 L28.94,401.84 L29.17,401.72 L29.43,401.54 L29.73,401.25 L30.08,400.85 L30.46,400.36 L30.88,399.82 L31.32,399.2 L31.8,398.5 L32.31,397.69 L32.85,396.75 L33.42,395.67 L34.03,394.42 L34.68,392.92 L35.41,391.16 L36.19,389.21 L36.99,387.15 L37.79,385.06 L38.56,383.02 L39.29,381.12 L39.95,379.43 L40.54,377.94 L41.07,376.58 L41.56,375.31 L42.02,374.12 L42.48,372.96 L42.93,371.81 L43.4,370.65 L43.9,369.43 L44.42,368.18 L44.94,366.93 L45.47,365.68 L46,364.43 L46.54,363.18 L47.09,361.93 L47.66,360.68 L48.25,359.43 L48.85,358.16 L49.46,356.87 L50.1,355.56 L50.74,354.26 L51.39,352.98 L52.05,351.74 L52.71,350.55 L53.38,349.44 L54.06,348.38 L54.75,347.37 L55.46,346.39 L56.17,345.47 L56.88,344.59 L57.57,343.77 L58.25,343 L58.91,342.3 L59.54,341.67 L60.15,341.1 L60.75,340.6 L61.33,340.16 L61.91,339.75 L62.48,339.39 L63.06,339.05 L63.65,338.73 L64.23,338.43 L64.8,338.16 L65.36,337.93 L65.92,337.72 L66.5,337.56 L67.09,337.43 L67.72,337.34 L68.39,337.3 L69.1,337.3 L69.84,337.35 L70.61,337.44 L71.4,337.57 L72.21,337.73 L73.04,337.92 L73.87,338.13 L74.71,338.37 L75.55,338.63 L76.39,338.92 L77.25,339.23 L78.12,339.58 L79,339.95 L79.91,340.35 L80.85,340.77 L81.82,341.23 L82.84,341.72 L83.9,342.25 L85,342.81 L86.12,343.4 L87.24,344.01 L88.36,344.63 L89.45,345.25 L90.51,345.87 L91.53,346.49 L92.52,347.12 L93.5,347.77 L94.46,348.42 L95.42,349.07 L96.4,349.72 L97.39,350.37 L98.41,351.01 L99.46,351.64 L100.53,352.25 L101.61,352.86 L102.71,353.47 L103.81,354.08 L104.91,354.71 L106.01,355.35 L107.1,356.01 L108.19,356.69 L109.27,357.4 L110.36,358.12 L111.44,358.85 L112.53,359.59 L113.62,360.33 L114.7,361.07 L115.79,361.79 L116.88,362.5 L117.96,363.19 L119.05,363.87 L120.14,364.56 L121.22,365.25 L122.31,365.97 L123.39,366.72 L124.48,367.5 L125.57,368.33 L126.65,369.2 L127.74,370.1 L128.83,371.01 L129.91,371.94 L131,372.88 L132.08,373.8 L133.17,374.71 L134.26,375.61 L135.34,376.5 L136.43,377.39 L137.52,378.28 L138.6,379.17 L139.69,380.08 L140.77,380.99 L141.86,381.93 L142.95,382.88 L144.05,383.87 L145.15,384.87 L146.25,385.88 L147.35,386.88 L148.43,387.88 L149.5,388.84 L150.55,389.78 L151.63,390.72 L152.77,391.71 L153.92,392.7 L155.04,393.66 L156.1,394.56 L157.05,395.37 L157.85,396.05 L158.45,396.56" fill="none" stroke="#7a3cc0" stroke-width="1.35" stroke-linejoin="round" clip-path="url(#clipD)"/>
<path d="M20,370.2 L20.11,371.34 L20.25,372.89 L20.41,374.73 L20.6,376.77 L20.79,378.87 L20.99,380.94 L21.19,382.85 L21.39,384.5 L21.57,385.93 L21.77,387.27 L21.96,388.53 L22.16,389.71 L22.36,390.82 L22.57,391.88 L22.77,392.89 L22.97,393.85 L23.16,394.76 L23.35,395.61 L23.54,396.39 L23.73,397.12 L23.92,397.81 L24.12,398.45 L24.33,399.05 L24.55,399.62 L24.78,400.16 L25.02,400.66 L25.27,401.12 L25.53,401.54 L25.79,401.92 L26.04,402.26 L26.29,402.55 L26.52,402.81 L26.73,403.03 L26.93,403.19 L27.12,403.31 L27.31,403.4 L27.5,403.45 L27.69,403.47 L27.89,403.48 L28.1,403.47 L28.31,403.47 L28.52,403.47 L28.72,403.46 L28.94,403.41 L29.17,403.33 L29.43,403.18 L29.73,402.96 L30.08,402.65 L30.46,402.27 L30.88,401.86 L31.32,401.39 L31.8,400.85 L32.31,400.22 L32.85,399.5 L33.42,398.66 L34.03,397.7 L34.68,396.55 L35.41,395.19 L36.19,393.68 L36.99,392.1 L37.79,390.49 L38.56,388.92 L39.29,387.45 L39.95,386.15 L40.54,385 L41.07,383.95 L41.56,382.98 L42.02,382.06 L42.48,381.17 L42.93,380.28 L43.4,379.39 L43.9,378.45 L44.42,377.49 L44.94,376.52 L45.47,375.56 L46,374.6 L46.54,373.64 L47.09,372.68 L47.66,371.71 L48.25,370.75 L48.85,369.77 L49.46,368.77 L50.1,367.77 L50.74,366.76 L51.39,365.78 L52.05,364.82 L52.71,363.91 L53.38,363.05 L54.06,362.24 L54.75,361.46 L55.46,360.71 L56.17,359.99 L56.88,359.31 L57.57,358.68 L58.25,358.09 L58.91,357.55 L59.54,357.06 L60.15,356.63 L60.75,356.24 L61.33,355.9 L61.91,355.59 L62.48,355.31 L63.06,355.05 L63.65,354.8 L64.23,354.57 L64.8,354.36 L65.36,354.18 L65.92,354.03 L66.5,353.9 L67.09,353.8 L67.72,353.73 L68.39,353.7 L69.1,353.7 L69.84,353.74 L70.61,353.81 L71.4,353.91 L72.21,354.03 L73.04,354.18 L73.87,354.34 L74.71,354.52 L75.55,354.72 L76.39,354.95 L77.25,355.19 L78.12,355.45 L79,355.74 L79.91,356.05 L80.85,356.37 L81.82,356.73 L82.84,357.1 L83.9,357.51 L85,357.95 L86.12,358.4 L87.24,358.87 L88.36,359.35 L89.45,359.83 L90.51,360.3 L91.53,360.78 L92.52,361.27 L93.5,361.76 L94.46,362.26 L95.42,362.77 L96.4,363.27 L97.39,363.77 L98.41,364.26 L99.46,364.74 L100.53,365.22 L101.61,365.69 L102.71,366.15 L103.81,366.63 L104.91,367.11 L106.01,367.6 L107.1,368.11 L108.19,368.64 L109.27,369.18 L110.36,369.74 L111.44,370.3 L112.53,370.87 L113.62,371.44 L114.7,372.01 L115.79,372.56 L116.88,373.11 L117.96,373.64 L119.05,374.17 L120.14,374.7 L121.22,375.23 L122.31,375.79 L123.39,376.36 L124.48,376.96 L125.57,377.6 L126.65,378.27 L127.74,378.96 L128.83,379.67 L129.91,380.39 L131,381.1 L132.08,381.82 L133.17,382.52 L134.26,383.21 L135.34,383.9 L136.43,384.58 L137.52,385.27 L138.6,385.96 L139.69,386.65 L140.77,387.36 L141.86,388.07 L142.95,388.81 L144.05,389.57 L145.15,390.34 L146.25,391.12 L147.35,391.89 L148.43,392.66 L149.5,393.4 L150.55,394.12 L151.63,394.85 L152.77,395.61 L153.92,396.37 L155.04,397.12 L156.1,397.81 L157.05,398.43 L157.85,398.95 L158.45,399.35" fill="none" stroke="#a850c8" stroke-width="1.35" stroke-linejoin="round" clip-path="url(#clipD)"/>
<path d="M20,382.8 L20.11,383.56 L20.25,384.61 L20.41,385.85 L20.6,387.22 L20.79,388.63 L20.99,390.02 L21.19,391.31 L21.39,392.42 L21.57,393.38 L21.77,394.28 L21.96,395.13 L22.16,395.92 L22.36,396.67 L22.57,397.38 L22.77,398.06 L22.97,398.71 L23.16,399.32 L23.35,399.89 L23.54,400.42 L23.73,400.91 L23.92,401.37 L24.12,401.8 L24.33,402.21 L24.55,402.59 L24.78,402.96 L25.02,403.29 L25.27,403.6 L25.53,403.88 L25.79,404.14 L26.04,404.36 L26.29,404.57 L26.52,404.74 L26.73,404.88 L26.93,405 L27.12,405.08 L27.31,405.13 L27.5,405.17 L27.69,405.18 L27.89,405.19 L28.1,405.19 L28.31,405.18 L28.52,405.18 L28.72,405.17 L28.94,405.14 L29.17,405.09 L29.43,404.99 L29.73,404.84 L30.08,404.63 L30.46,404.38 L30.88,404.1 L31.32,403.78 L31.8,403.42 L32.31,403 L32.85,402.51 L33.42,401.95 L34.03,401.3 L34.68,400.52 L35.41,399.61 L36.19,398.6 L36.99,397.53 L37.79,396.45 L38.56,395.39 L39.29,394.41 L39.95,393.53 L40.54,392.76 L41.07,392.05 L41.56,391.4 L42.02,390.78 L42.48,390.18 L42.93,389.58 L43.4,388.98 L43.9,388.35 L44.42,387.7 L44.94,387.05 L45.47,386.41 L46,385.76 L46.54,385.11 L47.09,384.47 L47.66,383.82 L48.25,383.17 L48.85,382.51 L49.46,381.84 L50.1,381.16 L50.74,380.49 L51.39,379.82 L52.05,379.18 L52.71,378.57 L53.38,377.99 L54.06,377.44 L54.75,376.92 L55.46,376.41 L56.17,375.93 L56.88,375.48 L57.57,375.05 L58.25,374.65 L58.91,374.29 L59.54,373.96 L60.15,373.67 L60.75,373.41 L61.33,373.18 L61.91,372.97 L62.48,372.78 L63.06,372.61 L63.65,372.44 L64.23,372.29 L64.8,372.15 L65.36,372.02 L65.92,371.92 L66.5,371.83 L67.09,371.77 L67.72,371.72 L68.39,371.7 L69.1,371.7 L69.84,371.73 L70.61,371.77 L71.4,371.84 L72.21,371.92 L73.04,372.02 L73.87,372.13 L74.71,372.25 L75.55,372.39 L76.39,372.54 L77.25,372.7 L78.12,372.88 L79,373.07 L79.91,373.28 L80.85,373.5 L81.82,373.74 L82.84,373.99 L83.9,374.27 L85,374.56 L86.12,374.86 L87.24,375.18 L88.36,375.5 L89.45,375.82 L90.51,376.14 L91.53,376.46 L92.52,376.79 L93.5,377.12 L94.46,377.46 L95.42,377.8 L96.4,378.14 L97.39,378.47 L98.41,378.8 L99.46,379.13 L100.53,379.45 L101.61,379.76 L102.71,380.08 L103.81,380.4 L104.91,380.72 L106.01,381.05 L107.1,381.39 L108.19,381.75 L109.27,382.12 L110.36,382.49 L111.44,382.87 L112.53,383.25 L113.62,383.63 L114.7,384.02 L115.79,384.39 L116.88,384.76 L117.96,385.12 L119.05,385.47 L120.14,385.82 L121.22,386.19 L122.31,386.56 L123.39,386.94 L124.48,387.35 L125.57,387.78 L126.65,388.23 L127.74,388.7 L128.83,389.17 L129.91,389.65 L131,390.14 L132.08,390.62 L133.17,391.09 L134.26,391.55 L135.34,392.01 L136.43,392.47 L137.52,392.94 L138.6,393.4 L139.69,393.87 L140.77,394.34 L141.86,394.82 L142.95,395.32 L144.05,395.83 L145.15,396.35 L146.25,396.87 L147.35,397.39 L148.43,397.91 L149.5,398.41 L150.55,398.89 L151.63,399.38 L152.77,399.9 L153.92,400.41 L155.04,400.91 L156.1,401.37 L157.05,401.79 L157.85,402.14 L158.45,402.41" fill="none" stroke="#383838" stroke-width="1.35" stroke-linejoin="round" clip-path="url(#clipD)"/>
<rect x="20.3" y="232.1" width="138" height="177" fill="none" stroke="#161616" stroke-width="1.2"/>
<line x1="115.1" y1="237.9" x2="128.6" y2="237.9" stroke="#5a8c7a" stroke-width="1.15"/>
<text x="130.9" y="241.1" font-size="9" text-anchor="start" fill="#161616" stroke="#161616" stroke-width="0.15" textLength="26.4" lengthAdjust="spacingAndGlyphs">90 mA</text>
<line x1="115.1" y1="245.29" x2="128.6" y2="245.29" stroke="#36b0a0" stroke-width="1.15"/>
<text x="130.9" y="248.49" font-size="9" text-anchor="start" fill="#161616" stroke="#161616" stroke-width="0.15" textLength="26.4" lengthAdjust="spacingAndGlyphs">80 mA</text>
<line x1="115.1" y1="252.68" x2="128.6" y2="252.68" stroke="#5adc5a" stroke-width="1.15"/>
<text x="130.9" y="255.88" font-size="9" text-anchor="start" fill="#161616" stroke="#161616" stroke-width="0.15" textLength="26.4" lengthAdjust="spacingAndGlyphs">70 mA</text>
<line x1="115.1" y1="260.07" x2="128.6" y2="260.07" stroke="#40bcc4" stroke-width="1.15"/>
<text x="130.9" y="263.27" font-size="9" text-anchor="start" fill="#161616" stroke="#161616" stroke-width="0.15" textLength="26.4" lengthAdjust="spacingAndGlyphs">60 mA</text>
<line x1="115.1" y1="267.46" x2="128.6" y2="267.46" stroke="#3a8cbc" stroke-width="1.15"/>
<text x="130.9" y="270.66" font-size="9" text-anchor="start" fill="#161616" stroke="#161616" stroke-width="0.15" textLength="26.4" lengthAdjust="spacingAndGlyphs">50 mA</text>
<line x1="115.1" y1="274.85" x2="128.6" y2="274.85" stroke="#3a46b4" stroke-width="1.15"/>
<text x="130.9" y="278.05" font-size="9" text-anchor="start" fill="#161616" stroke="#161616" stroke-width="0.15" textLength="26.4" lengthAdjust="spacingAndGlyphs">40 mA</text>
<line x1="115.1" y1="282.24" x2="128.6" y2="282.24" stroke="#7a3cc0" stroke-width="1.15"/>
<text x="130.9" y="285.44" font-size="9" text-anchor="start" fill="#161616" stroke="#161616" stroke-width="0.15" textLength="26.4" lengthAdjust="spacingAndGlyphs">30 mA</text>
<line x1="115.1" y1="289.63" x2="128.6" y2="289.63" stroke="#a850c8" stroke-width="1.15"/>
<text x="130.9" y="292.83" font-size="9" text-anchor="start" fill="#161616" stroke="#161616" stroke-width="0.15" textLength="26.4" lengthAdjust="spacingAndGlyphs">20 mA</text>
<line x1="115.1" y1="297.02" x2="128.6" y2="297.02" stroke="#383838" stroke-width="1.15"/>
<text x="130.9" y="300.22" font-size="9" text-anchor="start" fill="#161616" stroke="#161616" stroke-width="0.15" textLength="26.4" lengthAdjust="spacingAndGlyphs">10 mA</text>
<line x1="28.1" y1="409.1" x2="28.1" y2="412.7" stroke="#161616" stroke-width="1.1"/>
<text x="28.1" y="425.4" font-size="11.3" text-anchor="middle" fill="#161616" stroke="#161616" stroke-width="0.15">450</text>
<line x1="47.85" y1="409.1" x2="47.85" y2="411.3" stroke="#161616" stroke-width="1.1"/>
<line x1="67.6" y1="409.1" x2="67.6" y2="412.7" stroke="#161616" stroke-width="1.1"/>
<text x="67.6" y="425.4" font-size="11.3" text-anchor="middle" fill="#161616" stroke="#161616" stroke-width="0.15">550</text>
<line x1="87.35" y1="409.1" x2="87.35" y2="411.3" stroke="#161616" stroke-width="1.1"/>
<line x1="107.1" y1="409.1" x2="107.1" y2="412.7" stroke="#161616" stroke-width="1.1"/>
<text x="107.1" y="425.4" font-size="11.3" text-anchor="middle" fill="#161616" stroke="#161616" stroke-width="0.15">650</text>
<line x1="126.85" y1="409.1" x2="126.85" y2="411.3" stroke="#161616" stroke-width="1.1"/>
<line x1="146.6" y1="409.1" x2="146.6" y2="412.7" stroke="#161616" stroke-width="1.1"/>
<text x="146.6" y="425.4" font-size="11.3" text-anchor="middle" fill="#161616" stroke="#161616" stroke-width="0.15">750</text>
<text x="89.75" y="440.6" font-size="13.2" text-anchor="middle" fill="#161616" stroke="#161616" stroke-width="0.15" textLength="102.8" lengthAdjust="spacingAndGlyphs">Wavelength (nm)</text>
<text x="11" y="320.7" font-size="13.2" text-anchor="middle" fill="#161616" stroke="#161616" stroke-width="0.15" textLength="84.8" lengthAdjust="spacingAndGlyphs" transform="rotate(-90 11 320.7)">Intensity (a.u.)</text>
<text x="-0.8" y="235" font-size="13.3" text-anchor="start" fill="#161616" stroke="#161616" stroke-width="0.15">(d)</text>
<g transform="translate(0,0)"><g clip-path="url(#cieclip)"><rect x="232" y="21" width="29" height="2.7" fill="url(#r0)"/><rect x="232" y="23" width="29" height="2.7" fill="url(#r1)"/><rect x="227" y="25" width="41" height="2.7" fill="url(#r2)"/><rect x="227" y="27" width="41" height="2.7" fill="url(#r3)"/><rect x="227" y="29" width="41" height="2.7" fill="url(#r4)"/><rect x="227" y="31" width="49" height="2.7" fill="url(#r5)"/><rect x="227" y="33" width="49" height="2.7" fill="url(#r6)"/><rect x="227" y="35" width="56" height="2.7" fill="url(#r7)"/><rect x="226" y="37" width="57" height="2.7" fill="url(#r8)"/><rect x="226" y="39" width="57" height="2.7" fill="url(#r9)"/><rect x="226" y="41" width="64" height="2.7" fill="url(#r10)"/><rect x="226" y="43" width="64" height="2.7" fill="url(#r11)"/><rect x="226" y="45" width="64" height="2.7" fill="url(#r12)"/><rect x="226" y="47" width="64" height="2.7" fill="url(#r13)"/><rect x="226" y="49" width="72" height="2.7" fill="url(#r14)"/><rect x="226" y="51" width="72" height="2.7" fill="url(#r15)"/><rect x="226" y="53" width="72" height="2.7" fill="url(#r16)"/><rect x="226" y="55" width="79" height="2.7" fill="url(#r17)"/><rect x="226" y="57" width="79" height="2.7" fill="url(#r18)"/><rect x="226" y="59" width="79" height="2.7" fill="url(#r19)"/><rect x="226" y="61" width="86" height="2.7" fill="url(#r20)"/><rect x="226" y="63" width="86" height="2.7" fill="url(#r21)"/><rect x="226" y="65" width="86" height="2.7" fill="url(#r22)"/><rect x="226" y="67" width="86" height="2.7" fill="url(#r23)"/><rect x="226" y="69" width="93" height="2.7" fill="url(#r24)"/><rect x="226" y="71" width="93" height="2.7" fill="url(#r25)"/><rect x="226" y="73" width="93" height="2.7" fill="url(#r26)"/><rect x="226" y="75" width="100" height="2.7" fill="url(#r27)"/><rect x="226" y="77" width="100" height="2.7" fill="url(#r28)"/><rect x="226" y="79" width="100" height="2.7" fill="url(#r29)"/><rect x="226" y="81" width="107" height="2.7" fill="url(#r30)"/><rect x="226" y="83" width="107" height="2.7" fill="url(#r31)"/><rect x="226" y="85" width="107" height="2.7" fill="url(#r32)"/><rect x="226" y="87" width="107" height="2.7" fill="url(#r33)"/><rect x="226" y="89" width="114" height="2.7" fill="url(#r34)"/><rect x="226" y="91" width="114" height="2.7" fill="url(#r35)"/><rect x="226" y="93" width="114" height="2.7" fill="url(#r36)"/><rect x="226" y="95" width="120" height="2.7" fill="url(#r37)"/><rect x="226" y="97" width="120" height="2.7" fill="url(#r38)"/><rect x="226" y="99" width="120" height="2.7" fill="url(#r39)"/><rect x="226" y="101" width="126" height="2.7" fill="url(#r40)"/><rect x="226" y="103" width="126" height="2.7" fill="url(#r41)"/><rect x="229" y="105" width="128" height="2.7" fill="url(#r42)"/><rect x="229" y="107" width="128" height="2.7" fill="url(#r43)"/><rect x="229" y="109" width="128" height="2.7" fill="url(#r44)"/><rect x="229" y="111" width="132" height="2.7" fill="url(#r45)"/><rect x="229" y="113" width="132" height="2.7" fill="url(#r46)"/><rect x="229" y="115" width="135" height="2.7" fill="url(#r47)"/><rect x="229" y="117" width="135" height="2.7" fill="url(#r48)"/><rect x="229" y="119" width="138" height="2.7" fill="url(#r49)"/><rect x="229" y="121" width="141" height="2.7" fill="url(#r50)"/><rect x="229" y="123" width="144" height="2.7" fill="url(#r51)"/><rect x="229" y="125" width="144" height="2.7" fill="url(#r52)"/><rect x="233" y="127" width="142" height="2.7" fill="url(#r53)"/><rect x="233" y="129" width="144" height="2.7" fill="url(#r54)"/><rect x="233" y="131" width="144" height="2.7" fill="url(#r55)"/><rect x="233" y="133" width="144" height="2.7" fill="url(#r56)"/><rect x="233" y="135" width="144" height="2.7" fill="url(#r57)"/><rect x="233" y="137" width="144" height="2.7" fill="url(#r58)"/><rect x="233" y="139" width="144" height="2.7" fill="url(#r59)"/><rect x="233" y="141" width="144" height="2.7" fill="url(#r60)"/><rect x="233" y="143" width="144" height="2.7" fill="url(#r61)"/><rect x="233" y="145" width="144" height="2.7" fill="url(#r62)"/><rect x="238" y="147" width="139" height="2.7" fill="url(#r63)"/><rect x="238" y="149" width="139" height="2.7" fill="url(#r64)"/><rect x="238" y="151" width="139" height="2.7" fill="url(#r65)"/><rect x="238" y="153" width="139" height="2.7" fill="url(#r66)"/><rect x="238" y="155" width="139" height="2.7" fill="url(#r67)"/><rect x="238" y="157" width="139" height="2.7" fill="url(#r68)"/><rect x="243" y="159" width="134" height="2.7" fill="url(#r69)"/><rect x="243" y="161" width="134" height="2.7" fill="url(#r70)"/><rect x="243" y="163" width="134" height="2.7" fill="url(#r71)"/><rect x="243" y="165" width="134" height="2.7" fill="url(#r72)"/><rect x="243" y="167" width="134" height="2.7" fill="url(#r73)"/><rect x="246" y="169" width="131" height="2.7" fill="url(#r74)"/><rect x="246" y="171" width="131" height="2.7" fill="url(#r75)"/><rect x="246" y="173" width="131" height="2.7" fill="url(#r76)"/><rect x="249" y="175" width="128" height="2.7" fill="url(#r77)"/><rect x="252" y="177" width="125" height="2.7" fill="url(#r78)"/><rect x="253" y="179" width="124" height="2.7" fill="url(#r79)"/><rect x="256" y="181" width="121" height="2.7" fill="url(#r80)"/><rect x="258" y="183" width="119" height="2.7" fill="url(#r81)"/></g></g>
<line x1="252.8" y1="181.5" x2="256" y2="178.6" stroke="#2a2a50" stroke-width="0.9"/>
<text x="238.7" y="182.7" font-size="9.6" text-anchor="start" fill="#3434a8" stroke="#3434a8" stroke-width="0.15" textLength="13.6" lengthAdjust="spacingAndGlyphs">460</text>
<line x1="241.5" y1="159.7" x2="245.2" y2="158.5" stroke="#2a2a50" stroke-width="0.9"/>
<text x="227" y="163.7" font-size="9.6" text-anchor="start" fill="#3434a8" stroke="#3434a8" stroke-width="0.15" textLength="13.6" lengthAdjust="spacingAndGlyphs">480</text>
<line x1="224.25" y1="79.25" x2="227.75" y2="79.25" stroke="#2a2a50" stroke-width="0.9"/>
<text x="214" y="87.6" font-size="9.6" text-anchor="start" fill="#3434a8" stroke="#3434a8" stroke-width="0.15" textLength="13.6" lengthAdjust="spacingAndGlyphs">500</text>
<line x1="241.4" y1="17.25" x2="241.4" y2="21.25" stroke="#2a2a50" stroke-width="0.9"/>
<text x="234" y="16.8" font-size="9.6" text-anchor="start" fill="#3434a8" stroke="#3434a8" stroke-width="0.15" textLength="13.6" lengthAdjust="spacingAndGlyphs">520</text>
<line x1="272.8" y1="36.9" x2="275.8" y2="33.8" stroke="#2a2a50" stroke-width="0.9"/>
<text x="275.8" y="32.8" font-size="9.6" text-anchor="start" fill="#3434a8" stroke="#3434a8" stroke-width="0.15" textLength="13.6" lengthAdjust="spacingAndGlyphs">540</text>
<line x1="302" y1="62" x2="304.9" y2="59.1" stroke="#2a2a50" stroke-width="0.9"/>
<text x="306.7" y="60.3" font-size="9.6" text-anchor="start" fill="#3434a8" stroke="#3434a8" stroke-width="0.15" textLength="13.6" lengthAdjust="spacingAndGlyphs">560</text>
<line x1="330.8" y1="88.8" x2="333.5" y2="86.2" stroke="#2a2a50" stroke-width="0.9"/>
<text x="335.9" y="86.8" font-size="9.6" text-anchor="start" fill="#3434a8" stroke="#3434a8" stroke-width="0.15" textLength="13.6" lengthAdjust="spacingAndGlyphs">580</text>
<line x1="353" y1="111.7" x2="356.3" y2="109" stroke="#2a2a50" stroke-width="0.9"/>
<text x="357.4" y="107.7" font-size="9.6" text-anchor="start" fill="#3434a8" stroke="#3434a8" stroke-width="0.15" textLength="13.6" lengthAdjust="spacingAndGlyphs">600</text>
<line x1="366.4" y1="123.8" x2="370" y2="120.9" stroke="#2a2a50" stroke-width="0.9"/>
<text x="372.2" y="123.2" font-size="9.6" text-anchor="start" fill="#3434a8" stroke="#3434a8" stroke-width="0.15" textLength="13.6" lengthAdjust="spacingAndGlyphs">620</text>
<rect x="212.3" y="8.4" width="176.9" height="176" fill="none" stroke="#161616" stroke-width="1.2"/>
<line x1="209.1" y1="184.4" x2="212.3" y2="184.4" stroke="#161616" stroke-width="1.1"/>
<text x="206.7" y="188.3" font-size="10.8" text-anchor="end" fill="#161616" stroke="#161616" stroke-width="0.15">0.0</text>
<line x1="210.3" y1="174.62" x2="212.3" y2="174.62" stroke="#161616" stroke-width="1.1"/>
<line x1="209.1" y1="164.84" x2="212.3" y2="164.84" stroke="#161616" stroke-width="1.1"/>
<text x="206.7" y="168.74" font-size="10.8" text-anchor="end" fill="#161616" stroke="#161616" stroke-width="0.15">0.1</text>
<line x1="210.3" y1="155.07" x2="212.3" y2="155.07" stroke="#161616" stroke-width="1.1"/>
<line x1="209.1" y1="145.29" x2="212.3" y2="145.29" stroke="#161616" stroke-width="1.1"/>
<text x="206.7" y="149.19" font-size="10.8" text-anchor="end" fill="#161616" stroke="#161616" stroke-width="0.15">0.2</text>
<line x1="210.3" y1="135.51" x2="212.3" y2="135.51" stroke="#161616" stroke-width="1.1"/>
<line x1="209.1" y1="125.73" x2="212.3" y2="125.73" stroke="#161616" stroke-width="1.1"/>
<text x="206.7" y="129.63" font-size="10.8" text-anchor="end" fill="#161616" stroke="#161616" stroke-width="0.15">0.3</text>
<line x1="210.3" y1="115.96" x2="212.3" y2="115.96" stroke="#161616" stroke-width="1.1"/>
<line x1="209.1" y1="106.18" x2="212.3" y2="106.18" stroke="#161616" stroke-width="1.1"/>
<text x="206.7" y="110.08" font-size="10.8" text-anchor="end" fill="#161616" stroke="#161616" stroke-width="0.15">0.4</text>
<line x1="210.3" y1="96.4" x2="212.3" y2="96.4" stroke="#161616" stroke-width="1.1"/>
<line x1="209.1" y1="86.62" x2="212.3" y2="86.62" stroke="#161616" stroke-width="1.1"/>
<text x="206.7" y="90.52" font-size="10.8" text-anchor="end" fill="#161616" stroke="#161616" stroke-width="0.15">0.5</text>
<line x1="210.3" y1="76.84" x2="212.3" y2="76.84" stroke="#161616" stroke-width="1.1"/>
<line x1="209.1" y1="67.07" x2="212.3" y2="67.07" stroke="#161616" stroke-width="1.1"/>
<text x="206.7" y="70.97" font-size="10.8" text-anchor="end" fill="#161616" stroke="#161616" stroke-width="0.15">0.6</text>
<line x1="210.3" y1="57.29" x2="212.3" y2="57.29" stroke="#161616" stroke-width="1.1"/>
<line x1="209.1" y1="47.51" x2="212.3" y2="47.51" stroke="#161616" stroke-width="1.1"/>
<text x="206.7" y="51.41" font-size="10.8" text-anchor="end" fill="#161616" stroke="#161616" stroke-width="0.15">0.7</text>
<line x1="210.3" y1="37.73" x2="212.3" y2="37.73" stroke="#161616" stroke-width="1.1"/>
<line x1="209.1" y1="27.96" x2="212.3" y2="27.96" stroke="#161616" stroke-width="1.1"/>
<text x="206.7" y="31.86" font-size="10.8" text-anchor="end" fill="#161616" stroke="#161616" stroke-width="0.15">0.8</text>
<line x1="210.3" y1="18.18" x2="212.3" y2="18.18" stroke="#161616" stroke-width="1.1"/>
<line x1="209.1" y1="8.4" x2="212.3" y2="8.4" stroke="#161616" stroke-width="1.1"/>
<text x="206.7" y="12.3" font-size="10.8" text-anchor="end" fill="#161616" stroke="#161616" stroke-width="0.15">0.9</text>
<line x1="216.54" y1="184.4" x2="216.54" y2="186.4" stroke="#161616" stroke-width="1.1"/>
<line x1="226.7" y1="184.4" x2="226.7" y2="187.8" stroke="#161616" stroke-width="1.1"/>
<text x="226.7" y="198.6" font-size="10.8" text-anchor="middle" fill="#161616" stroke="#161616" stroke-width="0.15">0.0</text>
<line x1="236.86" y1="184.4" x2="236.86" y2="186.4" stroke="#161616" stroke-width="1.1"/>
<line x1="247.01" y1="184.4" x2="247.01" y2="187.8" stroke="#161616" stroke-width="1.1"/>
<text x="247.01" y="198.6" font-size="10.8" text-anchor="middle" fill="#161616" stroke="#161616" stroke-width="0.15">0.1</text>
<line x1="257.17" y1="184.4" x2="257.17" y2="186.4" stroke="#161616" stroke-width="1.1"/>
<line x1="267.32" y1="184.4" x2="267.32" y2="187.8" stroke="#161616" stroke-width="1.1"/>
<text x="267.32" y="198.6" font-size="10.8" text-anchor="middle" fill="#161616" stroke="#161616" stroke-width="0.15">0.2</text>
<line x1="277.48" y1="184.4" x2="277.48" y2="186.4" stroke="#161616" stroke-width="1.1"/>
<line x1="287.64" y1="184.4" x2="287.64" y2="187.8" stroke="#161616" stroke-width="1.1"/>
<text x="287.64" y="198.6" font-size="10.8" text-anchor="middle" fill="#161616" stroke="#161616" stroke-width="0.15">0.3</text>
<line x1="297.79" y1="184.4" x2="297.79" y2="186.4" stroke="#161616" stroke-width="1.1"/>
<line x1="307.95" y1="184.4" x2="307.95" y2="187.8" stroke="#161616" stroke-width="1.1"/>
<text x="307.95" y="198.6" font-size="10.8" text-anchor="middle" fill="#161616" stroke="#161616" stroke-width="0.15">0.4</text>
<line x1="318.11" y1="184.4" x2="318.11" y2="186.4" stroke="#161616" stroke-width="1.1"/>
<line x1="328.26" y1="184.4" x2="328.26" y2="187.8" stroke="#161616" stroke-width="1.1"/>
<text x="328.26" y="198.6" font-size="10.8" text-anchor="middle" fill="#161616" stroke="#161616" stroke-width="0.15">0.5</text>
<line x1="338.42" y1="184.4" x2="338.42" y2="186.4" stroke="#161616" stroke-width="1.1"/>
<line x1="348.57" y1="184.4" x2="348.57" y2="187.8" stroke="#161616" stroke-width="1.1"/>
<text x="348.57" y="198.6" font-size="10.8" text-anchor="middle" fill="#161616" stroke="#161616" stroke-width="0.15">0.6</text>
<line x1="358.73" y1="184.4" x2="358.73" y2="186.4" stroke="#161616" stroke-width="1.1"/>
<line x1="368.89" y1="184.4" x2="368.89" y2="187.8" stroke="#161616" stroke-width="1.1"/>
<text x="368.89" y="198.6" font-size="10.8" text-anchor="middle" fill="#161616" stroke="#161616" stroke-width="0.15">0.7</text>
<line x1="379.04" y1="184.4" x2="379.04" y2="186.4" stroke="#161616" stroke-width="1.1"/>
<line x1="389.2" y1="184.4" x2="389.2" y2="187.8" stroke="#161616" stroke-width="1.1"/>
<text x="389.2" y="198.6" font-size="10.8" text-anchor="middle" fill="#161616" stroke="#161616" stroke-width="0.15">0.8</text>
<text x="300.55" y="213.7" font-size="13" text-anchor="middle" fill="#161616" stroke="#161616" stroke-width="0.15" textLength="134.6" lengthAdjust="spacingAndGlyphs">x-chromaticity coordinate</text>
<text x="187.2" y="96" font-size="13" text-anchor="middle" fill="#161616" stroke="#161616" stroke-width="0.15" textLength="135" lengthAdjust="spacingAndGlyphs" transform="rotate(-90 187.2 96)">y-chromaticity coordinate</text>
<text x="168" y="11.8" font-size="13.3" text-anchor="start" fill="#161616" stroke="#161616" stroke-width="0.15">(b)</text>
<text x="281" y="83.3" font-size="10.6" text-anchor="middle" fill="#c82850" textLength="54.4" lengthAdjust="spacingAndGlyphs" fill-opacity="0.66">(0.34,0.38)</text>
<text x="278.5" y="97" font-size="10.4" text-anchor="middle" fill="#c82850" textLength="31.8" lengthAdjust="spacingAndGlyphs" fill-opacity="0.66">5259 K</text>
<path d="M295.3,105.8 L296.24,108.31 L298.91,108.43 L296.82,110.09 L297.53,112.67 L295.3,111.2 L293.07,112.67 L293.78,110.09 L291.69,108.43 L294.36,108.31 Z" fill="#d41e5a"/>
<text x="295.6" y="141.3" font-size="10.6" text-anchor="middle" fill="#16163a" stroke="#16163a" stroke-width="0.15" textLength="62" lengthAdjust="spacingAndGlyphs">White pc-LED</text>
<g transform="translate(1,224.2)"><g clip-path="url(#cieclip)"><rect x="232" y="21" width="29" height="2.7" fill="url(#r0)"/><rect x="232" y="23" width="29" height="2.7" fill="url(#r1)"/><rect x="227" y="25" width="41" height="2.7" fill="url(#r2)"/><rect x="227" y="27" width="41" height="2.7" fill="url(#r3)"/><rect x="227" y="29" width="41" height="2.7" fill="url(#r4)"/><rect x="227" y="31" width="49" height="2.7" fill="url(#r5)"/><rect x="227" y="33" width="49" height="2.7" fill="url(#r6)"/><rect x="227" y="35" width="56" height="2.7" fill="url(#r7)"/><rect x="226" y="37" width="57" height="2.7" fill="url(#r8)"/><rect x="226" y="39" width="57" height="2.7" fill="url(#r9)"/><rect x="226" y="41" width="64" height="2.7" fill="url(#r10)"/><rect x="226" y="43" width="64" height="2.7" fill="url(#r11)"/><rect x="226" y="45" width="64" height="2.7" fill="url(#r12)"/><rect x="226" y="47" width="64" height="2.7" fill="url(#r13)"/><rect x="226" y="49" width="72" height="2.7" fill="url(#r14)"/><rect x="226" y="51" width="72" height="2.7" fill="url(#r15)"/><rect x="226" y="53" width="72" height="2.7" fill="url(#r16)"/><rect x="226" y="55" width="79" height="2.7" fill="url(#r17)"/><rect x="226" y="57" width="79" height="2.7" fill="url(#r18)"/><rect x="226" y="59" width="79" height="2.7" fill="url(#r19)"/><rect x="226" y="61" width="86" height="2.7" fill="url(#r20)"/><rect x="226" y="63" width="86" height="2.7" fill="url(#r21)"/><rect x="226" y="65" width="86" height="2.7" fill="url(#r22)"/><rect x="226" y="67" width="86" height="2.7" fill="url(#r23)"/><rect x="226" y="69" width="93" height="2.7" fill="url(#r24)"/><rect x="226" y="71" width="93" height="2.7" fill="url(#r25)"/><rect x="226" y="73" width="93" height="2.7" fill="url(#r26)"/><rect x="226" y="75" width="100" height="2.7" fill="url(#r27)"/><rect x="226" y="77" width="100" height="2.7" fill="url(#r28)"/><rect x="226" y="79" width="100" height="2.7" fill="url(#r29)"/><rect x="226" y="81" width="107" height="2.7" fill="url(#r30)"/><rect x="226" y="83" width="107" height="2.7" fill="url(#r31)"/><rect x="226" y="85" width="107" height="2.7" fill="url(#r32)"/><rect x="226" y="87" width="107" height="2.7" fill="url(#r33)"/><rect x="226" y="89" width="114" height="2.7" fill="url(#r34)"/><rect x="226" y="91" width="114" height="2.7" fill="url(#r35)"/><rect x="226" y="93" width="114" height="2.7" fill="url(#r36)"/><rect x="226" y="95" width="120" height="2.7" fill="url(#r37)"/><rect x="226" y="97" width="120" height="2.7" fill="url(#r38)"/><rect x="226" y="99" width="120" height="2.7" fill="url(#r39)"/><rect x="226" y="101" width="126" height="2.7" fill="url(#r40)"/><rect x="226" y="103" width="126" height="2.7" fill="url(#r41)"/><rect x="229" y="105" width="128" height="2.7" fill="url(#r42)"/><rect x="229" y="107" width="128" height="2.7" fill="url(#r43)"/><rect x="229" y="109" width="128" height="2.7" fill="url(#r44)"/><rect x="229" y="111" width="132" height="2.7" fill="url(#r45)"/><rect x="229" y="113" width="132" height="2.7" fill="url(#r46)"/><rect x="229" y="115" width="135" height="2.7" fill="url(#r47)"/><rect x="229" y="117" width="135" height="2.7" fill="url(#r48)"/><rect x="229" y="119" width="138" height="2.7" fill="url(#r49)"/><rect x="229" y="121" width="141" height="2.7" fill="url(#r50)"/><rect x="229" y="123" width="144" height="2.7" fill="url(#r51)"/><rect x="229" y="125" width="144" height="2.7" fill="url(#r52)"/><rect x="233" y="127" width="142" height="2.7" fill="url(#r53)"/><rect x="233" y="129" width="144" height="2.7" fill="url(#r54)"/><rect x="233" y="131" width="144" height="2.7" fill="url(#r55)"/><rect x="233" y="133" width="144" height="2.7" fill="url(#r56)"/><rect x="233" y="135" width="144" height="2.7" fill="url(#r57)"/><rect x="233" y="137" width="144" height="2.7" fill="url(#r58)"/><rect x="233" y="139" width="144" height="2.7" fill="url(#r59)"/><rect x="233" y="141" width="144" height="2.7" fill="url(#r60)"/><rect x="233" y="143" width="144" height="2.7" fill="url(#r61)"/><rect x="233" y="145" width="144" height="2.7" fill="url(#r62)"/><rect x="238" y="147" width="139" height="2.7" fill="url(#r63)"/><rect x="238" y="149" width="139" height="2.7" fill="url(#r64)"/><rect x="238" y="151" width="139" height="2.7" fill="url(#r65)"/><rect x="238" y="153" width="139" height="2.7" fill="url(#r66)"/><rect x="238" y="155" width="139" height="2.7" fill="url(#r67)"/><rect x="238" y="157" width="139" height="2.7" fill="url(#r68)"/><rect x="243" y="159" width="134" height="2.7" fill="url(#r69)"/><rect x="243" y="161" width="134" height="2.7" fill="url(#r70)"/><rect x="243" y="163" width="134" height="2.7" fill="url(#r71)"/><rect x="243" y="165" width="134" height="2.7" fill="url(#r72)"/><rect x="243" y="167" width="134" height="2.7" fill="url(#r73)"/><rect x="246" y="169" width="131" height="2.7" fill="url(#r74)"/><rect x="246" y="171" width="131" height="2.7" fill="url(#r75)"/><rect x="246" y="173" width="131" height="2.7" fill="url(#r76)"/><rect x="249" y="175" width="128" height="2.7" fill="url(#r77)"/><rect x="252" y="177" width="125" height="2.7" fill="url(#r78)"/><rect x="253" y="179" width="124" height="2.7" fill="url(#r79)"/><rect x="256" y="181" width="121" height="2.7" fill="url(#r80)"/><rect x="258" y="183" width="119" height="2.7" fill="url(#r81)"/></g></g>
<line x1="253.8" y1="405.7" x2="257" y2="402.8" stroke="#2a2a50" stroke-width="0.9"/>
<text x="239.7" y="406.9" font-size="9.6" text-anchor="start" fill="#3434a8" stroke="#3434a8" stroke-width="0.15" textLength="13.6" lengthAdjust="spacingAndGlyphs">460</text>
<line x1="242.5" y1="383.9" x2="246.2" y2="382.7" stroke="#2a2a50" stroke-width="0.9"/>
<text x="228" y="387.9" font-size="9.6" text-anchor="start" fill="#3434a8" stroke="#3434a8" stroke-width="0.15" textLength="13.6" lengthAdjust="spacingAndGlyphs">480</text>
<line x1="225.25" y1="303.45" x2="228.75" y2="303.45" stroke="#2a2a50" stroke-width="0.9"/>
<text x="215" y="311.8" font-size="9.6" text-anchor="start" fill="#3434a8" stroke="#3434a8" stroke-width="0.15" textLength="13.6" lengthAdjust="spacingAndGlyphs">500</text>
<line x1="242.4" y1="241.45" x2="242.4" y2="245.45" stroke="#2a2a50" stroke-width="0.9"/>
<text x="235" y="241" font-size="9.6" text-anchor="start" fill="#3434a8" stroke="#3434a8" stroke-width="0.15" textLength="13.6" lengthAdjust="spacingAndGlyphs">520</text>
<line x1="273.8" y1="261.1" x2="276.8" y2="258" stroke="#2a2a50" stroke-width="0.9"/>
<text x="276.8" y="257" font-size="9.6" text-anchor="start" fill="#3434a8" stroke="#3434a8" stroke-width="0.15" textLength="13.6" lengthAdjust="spacingAndGlyphs">540</text>
<line x1="303" y1="286.2" x2="305.9" y2="283.3" stroke="#2a2a50" stroke-width="0.9"/>
<text x="307.7" y="284.5" font-size="9.6" text-anchor="start" fill="#3434a8" stroke="#3434a8" stroke-width="0.15" textLength="13.6" lengthAdjust="spacingAndGlyphs">560</text>
<line x1="331.8" y1="313" x2="334.5" y2="310.4" stroke="#2a2a50" stroke-width="0.9"/>
<text x="336.9" y="311" font-size="9.6" text-anchor="start" fill="#3434a8" stroke="#3434a8" stroke-width="0.15" textLength="13.6" lengthAdjust="spacingAndGlyphs">580</text>
<line x1="354" y1="335.9" x2="357.3" y2="333.2" stroke="#2a2a50" stroke-width="0.9"/>
<text x="358.4" y="331.9" font-size="9.6" text-anchor="start" fill="#3434a8" stroke="#3434a8" stroke-width="0.15" textLength="13.6" lengthAdjust="spacingAndGlyphs">600</text>
<line x1="367.4" y1="348" x2="371" y2="345.1" stroke="#2a2a50" stroke-width="0.9"/>
<text x="373.2" y="347.4" font-size="9.6" text-anchor="start" fill="#3434a8" stroke="#3434a8" stroke-width="0.15" textLength="13.6" lengthAdjust="spacingAndGlyphs">620</text>
<rect x="213.6" y="232.4" width="176.7" height="176.2" fill="none" stroke="#161616" stroke-width="1.2"/>
<line x1="210.4" y1="408.6" x2="213.6" y2="408.6" stroke="#161616" stroke-width="1.1"/>
<text x="208" y="413" font-size="10.8" text-anchor="end" fill="#161616" stroke="#161616" stroke-width="0.15">0.0</text>
<line x1="211.6" y1="398.81" x2="213.6" y2="398.81" stroke="#161616" stroke-width="1.1"/>
<line x1="210.4" y1="389.02" x2="213.6" y2="389.02" stroke="#161616" stroke-width="1.1"/>
<text x="208" y="393.42" font-size="10.8" text-anchor="end" fill="#161616" stroke="#161616" stroke-width="0.15">0.1</text>
<line x1="211.6" y1="379.23" x2="213.6" y2="379.23" stroke="#161616" stroke-width="1.1"/>
<line x1="210.4" y1="369.44" x2="213.6" y2="369.44" stroke="#161616" stroke-width="1.1"/>
<text x="208" y="373.84" font-size="10.8" text-anchor="end" fill="#161616" stroke="#161616" stroke-width="0.15">0.2</text>
<line x1="211.6" y1="359.66" x2="213.6" y2="359.66" stroke="#161616" stroke-width="1.1"/>
<line x1="210.4" y1="349.87" x2="213.6" y2="349.87" stroke="#161616" stroke-width="1.1"/>
<text x="208" y="354.27" font-size="10.8" text-anchor="end" fill="#161616" stroke="#161616" stroke-width="0.15">0.3</text>
<line x1="211.6" y1="340.08" x2="213.6" y2="340.08" stroke="#161616" stroke-width="1.1"/>
<line x1="210.4" y1="330.29" x2="213.6" y2="330.29" stroke="#161616" stroke-width="1.1"/>
<text x="208" y="334.69" font-size="10.8" text-anchor="end" fill="#161616" stroke="#161616" stroke-width="0.15">0.4</text>
<line x1="211.6" y1="320.5" x2="213.6" y2="320.5" stroke="#161616" stroke-width="1.1"/>
<line x1="210.4" y1="310.71" x2="213.6" y2="310.71" stroke="#161616" stroke-width="1.1"/>
<text x="208" y="315.11" font-size="10.8" text-anchor="end" fill="#161616" stroke="#161616" stroke-width="0.15">0.5</text>
<line x1="211.6" y1="300.92" x2="213.6" y2="300.92" stroke="#161616" stroke-width="1.1"/>
<line x1="210.4" y1="291.13" x2="213.6" y2="291.13" stroke="#161616" stroke-width="1.1"/>
<text x="208" y="295.53" font-size="10.8" text-anchor="end" fill="#161616" stroke="#161616" stroke-width="0.15">0.6</text>
<line x1="211.6" y1="281.34" x2="213.6" y2="281.34" stroke="#161616" stroke-width="1.1"/>
<line x1="210.4" y1="271.56" x2="213.6" y2="271.56" stroke="#161616" stroke-width="1.1"/>
<text x="208" y="275.96" font-size="10.8" text-anchor="end" fill="#161616" stroke="#161616" stroke-width="0.15">0.7</text>
<line x1="211.6" y1="261.77" x2="213.6" y2="261.77" stroke="#161616" stroke-width="1.1"/>
<line x1="210.4" y1="251.98" x2="213.6" y2="251.98" stroke="#161616" stroke-width="1.1"/>
<text x="208" y="256.38" font-size="10.8" text-anchor="end" fill="#161616" stroke="#161616" stroke-width="0.15">0.8</text>
<line x1="211.6" y1="242.19" x2="213.6" y2="242.19" stroke="#161616" stroke-width="1.1"/>
<line x1="210.4" y1="232.4" x2="213.6" y2="232.4" stroke="#161616" stroke-width="1.1"/>
<text x="208" y="236.8" font-size="10.8" text-anchor="end" fill="#161616" stroke="#161616" stroke-width="0.15">0.9</text>
<line x1="217.54" y1="408.6" x2="217.54" y2="410.6" stroke="#161616" stroke-width="1.1"/>
<line x1="227.7" y1="408.6" x2="227.7" y2="412" stroke="#161616" stroke-width="1.1"/>
<text x="227.7" y="424.1" font-size="10.8" text-anchor="middle" fill="#161616" stroke="#161616" stroke-width="0.15">0.0</text>
<line x1="237.86" y1="408.6" x2="237.86" y2="410.6" stroke="#161616" stroke-width="1.1"/>
<line x1="248.02" y1="408.6" x2="248.02" y2="412" stroke="#161616" stroke-width="1.1"/>
<text x="248.02" y="424.1" font-size="10.8" text-anchor="middle" fill="#161616" stroke="#161616" stroke-width="0.15">0.1</text>
<line x1="258.19" y1="408.6" x2="258.19" y2="410.6" stroke="#161616" stroke-width="1.1"/>
<line x1="268.35" y1="408.6" x2="268.35" y2="412" stroke="#161616" stroke-width="1.1"/>
<text x="268.35" y="424.1" font-size="10.8" text-anchor="middle" fill="#161616" stroke="#161616" stroke-width="0.15">0.2</text>
<line x1="278.51" y1="408.6" x2="278.51" y2="410.6" stroke="#161616" stroke-width="1.1"/>
<line x1="288.68" y1="408.6" x2="288.68" y2="412" stroke="#161616" stroke-width="1.1"/>
<text x="288.68" y="424.1" font-size="10.8" text-anchor="middle" fill="#161616" stroke="#161616" stroke-width="0.15">0.3</text>
<line x1="298.84" y1="408.6" x2="298.84" y2="410.6" stroke="#161616" stroke-width="1.1"/>
<line x1="309" y1="408.6" x2="309" y2="412" stroke="#161616" stroke-width="1.1"/>
<text x="309" y="424.1" font-size="10.8" text-anchor="middle" fill="#161616" stroke="#161616" stroke-width="0.15">0.4</text>
<line x1="319.16" y1="408.6" x2="319.16" y2="410.6" stroke="#161616" stroke-width="1.1"/>
<line x1="329.32" y1="408.6" x2="329.32" y2="412" stroke="#161616" stroke-width="1.1"/>
<text x="329.32" y="424.1" font-size="10.8" text-anchor="middle" fill="#161616" stroke="#161616" stroke-width="0.15">0.5</text>
<line x1="339.49" y1="408.6" x2="339.49" y2="410.6" stroke="#161616" stroke-width="1.1"/>
<line x1="349.65" y1="408.6" x2="349.65" y2="412" stroke="#161616" stroke-width="1.1"/>
<text x="349.65" y="424.1" font-size="10.8" text-anchor="middle" fill="#161616" stroke="#161616" stroke-width="0.15">0.6</text>
<line x1="359.81" y1="408.6" x2="359.81" y2="410.6" stroke="#161616" stroke-width="1.1"/>
<line x1="369.98" y1="408.6" x2="369.98" y2="412" stroke="#161616" stroke-width="1.1"/>
<text x="369.98" y="424.1" font-size="10.8" text-anchor="middle" fill="#161616" stroke="#161616" stroke-width="0.15">0.7</text>
<line x1="380.14" y1="408.6" x2="380.14" y2="410.6" stroke="#161616" stroke-width="1.1"/>
<line x1="390.3" y1="408.6" x2="390.3" y2="412" stroke="#161616" stroke-width="1.1"/>
<text x="390.3" y="424.1" font-size="10.8" text-anchor="middle" fill="#161616" stroke="#161616" stroke-width="0.15">0.8</text>
<text x="301.75" y="440.7" font-size="13" text-anchor="middle" fill="#161616" stroke="#161616" stroke-width="0.15" textLength="134.6" lengthAdjust="spacingAndGlyphs">x-chromaticity coordinate</text>
<text x="188.5" y="320.1" font-size="13" text-anchor="middle" fill="#161616" stroke="#161616" stroke-width="0.15" textLength="135" lengthAdjust="spacingAndGlyphs" transform="rotate(-90 188.5 320.1)">y-chromaticity coordinate</text>
<text x="168" y="235.4" font-size="13.3" text-anchor="start" fill="#161616" stroke="#161616" stroke-width="0.15">(e)</text>
<path d="M290.4,321.6 L285.9,321.6 L285.9,326.1" fill="none" stroke="#222" stroke-width="1.3"/>
<path d="M304,321.6 L308.5,321.6 L308.5,326.1" fill="none" stroke="#222" stroke-width="1.3"/>
<path d="M290.4,343 L285.9,343 L285.9,338.5" fill="none" stroke="#222" stroke-width="1.3"/>
<path d="M304,343 L308.5,343 L308.5,338.5" fill="none" stroke="#222" stroke-width="1.3"/>
<ellipse cx="297" cy="333" rx="4.6" ry="3.0" transform="rotate(-52 297 333)" fill="#0c0c0c"/>
<ellipse cx="298.6" cy="330.6" rx="1.3" ry="0.8" transform="rotate(-52 298.6 330.6)" fill="#9a9a9a"/>
<path d="M425.7,26.5 L436.07,26.6 L446.45,26.7 L456.82,26.8 L467.2,27 L477.57,27.1 L487.95,27.2 L498.32,27.4 L508.7,27.5 L517.41,27.6 L533.18,27.7 L548.12,27.8 L573.65,27.9 L591.7,28" fill="none" stroke="#b03070" stroke-width="1.1" stroke-dasharray="3.5,2.5"/>
<rect x="423.6" y="24.5" width="4.2" height="4.2" fill="#fff4f8" stroke="#c890aa" stroke-width="0.7"/>
<rect x="423.3" y="24" width="4.8" height="2.5" fill="#8c1a52"/>
<rect x="433.97" y="24.6" width="4.2" height="4.2" fill="#fff4f8" stroke="#c890aa" stroke-width="0.7"/>
<rect x="433.68" y="24.1" width="4.8" height="2.5" fill="#8c1a52"/>
<rect x="444.35" y="24.7" width="4.2" height="4.2" fill="#fff4f8" stroke="#c890aa" stroke-width="0.7"/>
<rect x="444.05" y="24.2" width="4.8" height="2.5" fill="#8c1a52"/>
<rect x="454.72" y="24.8" width="4.2" height="4.2" fill="#fff4f8" stroke="#c890aa" stroke-width="0.7"/>
<rect x="454.43" y="24.3" width="4.8" height="2.5" fill="#8c1a52"/>
<rect x="465.1" y="25" width="4.2" height="4.2" fill="#fff4f8" stroke="#c890aa" stroke-width="0.7"/>
<rect x="464.8" y="24.5" width="4.8" height="2.5" fill="#8c1a52"/>
<rect x="475.47" y="25.1" width="4.2" height="4.2" fill="#fff4f8" stroke="#c890aa" stroke-width="0.7"/>
<rect x="475.18" y="24.6" width="4.8" height="2.5" fill="#8c1a52"/>
<rect x="485.85" y="25.2" width="4.2" height="4.2" fill="#fff4f8" stroke="#c890aa" stroke-width="0.7"/>
<rect x="485.55" y="24.7" width="4.8" height="2.5" fill="#8c1a52"/>
<rect x="496.22" y="25.4" width="4.2" height="4.2" fill="#fff4f8" stroke="#c890aa" stroke-width="0.7"/>
<rect x="495.93" y="24.9" width="4.8" height="2.5" fill="#8c1a52"/>
<rect x="506.6" y="25.5" width="4.2" height="4.2" fill="#fff4f8" stroke="#c890aa" stroke-width="0.7"/>
<rect x="506.3" y="25" width="4.8" height="2.5" fill="#8c1a52"/>
<rect x="515.31" y="25.6" width="4.2" height="4.2" fill="#fff4f8" stroke="#c890aa" stroke-width="0.7"/>
<rect x="515.01" y="25.1" width="4.8" height="2.5" fill="#8c1a52"/>
<rect x="531.08" y="25.7" width="4.2" height="4.2" fill="#fff4f8" stroke="#c890aa" stroke-width="0.7"/>
<rect x="530.78" y="25.2" width="4.8" height="2.5" fill="#8c1a52"/>
<rect x="546.02" y="25.8" width="4.2" height="4.2" fill="#fff4f8" stroke="#c890aa" stroke-width="0.7"/>
<rect x="545.73" y="25.3" width="4.8" height="2.5" fill="#8c1a52"/>
<rect x="571.55" y="25.9" width="4.2" height="4.2" fill="#fff4f8" stroke="#c890aa" stroke-width="0.7"/>
<rect x="571.25" y="25.4" width="4.8" height="2.5" fill="#8c1a52"/>
<rect x="589.6" y="26" width="4.2" height="4.2" fill="#fff4f8" stroke="#c890aa" stroke-width="0.7"/>
<rect x="589.3" y="25.5" width="4.8" height="2.5" fill="#8c1a52"/>
<rect x="419.5" y="9" width="178.8" height="175" fill="none" stroke="#161616" stroke-width="1.2"/>
<line x1="425.7" y1="184" x2="425.7" y2="187.6" stroke="#161616" stroke-width="1.1"/>
<text x="425.7" y="199" font-size="11.3" text-anchor="middle" fill="#161616" stroke="#161616" stroke-width="0.15">0</text>
<line x1="446.45" y1="184" x2="446.45" y2="186.2" stroke="#161616" stroke-width="1.1"/>
<line x1="467.2" y1="184" x2="467.2" y2="187.6" stroke="#161616" stroke-width="1.1"/>
<text x="467.2" y="199" font-size="11.3" text-anchor="middle" fill="#161616" stroke="#161616" stroke-width="0.15">20</text>
<line x1="487.95" y1="184" x2="487.95" y2="186.2" stroke="#161616" stroke-width="1.1"/>
<line x1="508.7" y1="184" x2="508.7" y2="187.6" stroke="#161616" stroke-width="1.1"/>
<text x="508.7" y="199" font-size="11.3" text-anchor="middle" fill="#161616" stroke="#161616" stroke-width="0.15">40</text>
<line x1="529.45" y1="184" x2="529.45" y2="186.2" stroke="#161616" stroke-width="1.1"/>
<line x1="550.2" y1="184" x2="550.2" y2="187.6" stroke="#161616" stroke-width="1.1"/>
<text x="550.2" y="199" font-size="11.3" text-anchor="middle" fill="#161616" stroke="#161616" stroke-width="0.15">60</text>
<line x1="570.95" y1="184" x2="570.95" y2="186.2" stroke="#161616" stroke-width="1.1"/>
<line x1="591.7" y1="184" x2="591.7" y2="187.6" stroke="#161616" stroke-width="1.1"/>
<text x="591.7" y="199" font-size="11.3" text-anchor="middle" fill="#161616" stroke="#161616" stroke-width="0.15">80</text>
<text x="509.9" y="213.2" font-size="13.2" text-anchor="middle" fill="#161616" stroke="#161616" stroke-width="0.15" textLength="49" lengthAdjust="spacingAndGlyphs">Time (h)</text>
<text x="410" y="96.1" font-size="13.2" text-anchor="middle" fill="#161616" stroke="#161616" stroke-width="0.15" textLength="84.8" lengthAdjust="spacingAndGlyphs" transform="rotate(-90 410 96.1)">Intensity (a.u.)</text>
<text x="398" y="12.2" font-size="13.3" text-anchor="start" fill="#161616" stroke="#161616" stroke-width="0.15">(c)</text>
<rect x="460.5" y="49.3" width="127.8" height="97.7" fill="url(#gJ)"/>
<rect x="460.5" y="49.3" width="127.8" height="97.7" fill="none" stroke="#161616" stroke-width="1.1"/>
<line x1="458.5" y1="147" x2="460.5" y2="147" stroke="#161616" stroke-width="1"/>
<line x1="457.3" y1="137.1" x2="460.5" y2="137.1" stroke="#161616" stroke-width="1"/>
<text x="454.9" y="140.8" font-size="10.6" text-anchor="end" fill="#161616" stroke="#161616" stroke-width="0.15" textLength="17.2" lengthAdjust="spacingAndGlyphs">480</text>
<line x1="458.5" y1="127.2" x2="460.5" y2="127.2" stroke="#161616" stroke-width="1"/>
<line x1="457.3" y1="117.3" x2="460.5" y2="117.3" stroke="#161616" stroke-width="1"/>
<text x="454.9" y="121" font-size="10.6" text-anchor="end" fill="#161616" stroke="#161616" stroke-width="0.15" textLength="17.2" lengthAdjust="spacingAndGlyphs">530</text>
<line x1="458.5" y1="107.4" x2="460.5" y2="107.4" stroke="#161616" stroke-width="1"/>
<line x1="457.3" y1="97.5" x2="460.5" y2="97.5" stroke="#161616" stroke-width="1"/>
<text x="454.9" y="101.2" font-size="10.6" text-anchor="end" fill="#161616" stroke="#161616" stroke-width="0.15" textLength="17.2" lengthAdjust="spacingAndGlyphs">580</text>
<line x1="458.5" y1="87.6" x2="460.5" y2="87.6" stroke="#161616" stroke-width="1"/>
<line x1="457.3" y1="77.7" x2="460.5" y2="77.7" stroke="#161616" stroke-width="1"/>
<text x="454.9" y="81.4" font-size="10.6" text-anchor="end" fill="#161616" stroke="#161616" stroke-width="0.15" textLength="17.2" lengthAdjust="spacingAndGlyphs">630</text>
<line x1="458.5" y1="67.8" x2="460.5" y2="67.8" stroke="#161616" stroke-width="1"/>
<line x1="457.3" y1="57.9" x2="460.5" y2="57.9" stroke="#161616" stroke-width="1"/>
<text x="454.9" y="61.6" font-size="10.6" text-anchor="end" fill="#161616" stroke="#161616" stroke-width="0.15" textLength="17.2" lengthAdjust="spacingAndGlyphs">680</text>
<line x1="460.9" y1="147" x2="460.9" y2="150.2" stroke="#161616" stroke-width="1"/>
<text x="460.9" y="164.8" font-size="10.6" text-anchor="middle" fill="#161616" stroke="#161616" stroke-width="0.15">0</text>
<line x1="476.85" y1="147" x2="476.85" y2="149" stroke="#161616" stroke-width="1"/>
<line x1="492.8" y1="147" x2="492.8" y2="150.2" stroke="#161616" stroke-width="1"/>
<text x="492.8" y="164.8" font-size="10.6" text-anchor="middle" fill="#161616" stroke="#161616" stroke-width="0.15">20</text>
<line x1="508.75" y1="147" x2="508.75" y2="149" stroke="#161616" stroke-width="1"/>
<line x1="524.7" y1="147" x2="524.7" y2="150.2" stroke="#161616" stroke-width="1"/>
<text x="524.7" y="164.8" font-size="10.6" text-anchor="middle" fill="#161616" stroke="#161616" stroke-width="0.15">40</text>
<line x1="540.65" y1="147" x2="540.65" y2="149" stroke="#161616" stroke-width="1"/>
<line x1="556.6" y1="147" x2="556.6" y2="150.2" stroke="#161616" stroke-width="1"/>
<text x="556.6" y="164.8" font-size="10.6" text-anchor="middle" fill="#161616" stroke="#161616" stroke-width="0.15">60</text>
<line x1="572.55" y1="147" x2="572.55" y2="149" stroke="#161616" stroke-width="1"/>
<line x1="588.5" y1="147" x2="588.5" y2="150.2" stroke="#161616" stroke-width="1"/>
<text x="588.5" y="164.8" font-size="10.6" text-anchor="middle" fill="#161616" stroke="#161616" stroke-width="0.15">80</text>
<text x="525" y="177.7" font-size="12.2" text-anchor="middle" fill="#161616" stroke="#161616" stroke-width="0.15" textLength="45.8" lengthAdjust="spacingAndGlyphs">Time (h)</text>
<text x="432.6" y="98.5" font-size="12.2" text-anchor="middle" fill="#161616" stroke="#161616" stroke-width="0.15" textLength="94.5" lengthAdjust="spacingAndGlyphs" transform="rotate(-90 432.6 98.5)">Wavelength (nm)</text>
<rect x="462.6" y="232.6" width="117.4" height="2.6" fill="url(#fr0)"/>
<rect x="462.6" y="234.6" width="117.4" height="2.6" fill="url(#fr1)"/>
<rect x="462.6" y="236.6" width="117.4" height="2.6" fill="url(#fr2)"/>
<rect x="462.6" y="238.6" width="117.4" height="2.6" fill="url(#fr3)"/>
<rect x="462.6" y="240.6" width="117.4" height="2.6" fill="url(#fr4)"/>
<rect x="462.6" y="242.6" width="117.4" height="2.6" fill="url(#fr5)"/>
<rect x="462.6" y="244.6" width="117.4" height="2.6" fill="url(#fr6)"/>
<rect x="462.6" y="246.6" width="117.4" height="2.6" fill="url(#fr7)"/>
<rect x="462.6" y="248.6" width="117.4" height="2.6" fill="url(#fr8)"/>
<rect x="462.6" y="250.6" width="117.4" height="2.6" fill="url(#fr9)"/>
<rect x="462.6" y="252.6" width="117.4" height="2.6" fill="url(#fr10)"/>
<rect x="462.6" y="254.6" width="117.4" height="2.6" fill="url(#fr11)"/>
<rect x="462.6" y="256.6" width="117.4" height="2.6" fill="url(#fr12)"/>
<rect x="462.6" y="258.6" width="117.4" height="2.6" fill="url(#fr13)"/>
<rect x="462.6" y="260.6" width="117.4" height="2.6" fill="url(#fr14)"/>
<rect x="462.6" y="262.6" width="117.4" height="2.6" fill="url(#fr15)"/>
<rect x="462.6" y="264.6" width="117.4" height="2.6" fill="url(#fr16)"/>
<rect x="462.6" y="266.6" width="117.4" height="2.6" fill="url(#fr17)"/>
<rect x="462.6" y="268.6" width="117.4" height="2.6" fill="url(#fr18)"/>
<rect x="462.6" y="270.6" width="117.4" height="2.6" fill="url(#fr19)"/>
<rect x="462.6" y="272.6" width="117.4" height="2.6" fill="url(#fr20)"/>
<rect x="462.6" y="274.6" width="117.4" height="2.6" fill="url(#fr21)"/>
<rect x="462.6" y="276.6" width="117.4" height="2.6" fill="url(#fr22)"/>
<rect x="462.6" y="278.6" width="117.4" height="2.6" fill="url(#fr23)"/>
<rect x="462.6" y="280.6" width="117.4" height="2.6" fill="url(#fr24)"/>
<rect x="462.6" y="282.6" width="117.4" height="2.6" fill="url(#fr25)"/>
<rect x="462.6" y="284.6" width="117.4" height="2.6" fill="url(#fr26)"/>
<rect x="462.6" y="286.6" width="117.4" height="2.6" fill="url(#fr27)"/>
<rect x="462.6" y="288.6" width="117.4" height="2.6" fill="url(#fr28)"/>
<rect x="462.6" y="290.6" width="117.4" height="2.6" fill="url(#fr29)"/>
<rect x="462.6" y="292.6" width="117.4" height="2.6" fill="url(#fr30)"/>
<rect x="462.6" y="294.6" width="117.4" height="2.6" fill="url(#fr31)"/>
<rect x="462.6" y="296.6" width="117.4" height="2.6" fill="url(#fr32)"/>
<rect x="462.6" y="298.6" width="117.4" height="2.6" fill="url(#fr33)"/>
<rect x="462.6" y="300.6" width="117.4" height="2.6" fill="url(#fr34)"/>
<rect x="462.6" y="302.6" width="117.4" height="2.6" fill="url(#fr35)"/>
<rect x="462.6" y="304.6" width="117.4" height="2.6" fill="url(#fr36)"/>
<rect x="462.6" y="306.6" width="117.4" height="2.6" fill="url(#fr37)"/>
<rect x="462.6" y="308.6" width="117.4" height="2.6" fill="url(#fr38)"/>
<rect x="462.6" y="310.6" width="117.4" height="2.6" fill="url(#fr39)"/>
<rect x="462.6" y="312.6" width="117.4" height="2.6" fill="url(#fr40)"/>
<rect x="462.6" y="314.6" width="117.4" height="2.6" fill="url(#fr41)"/>
<rect x="462.6" y="316.6" width="117.4" height="2.6" fill="url(#fr42)"/>
<rect x="462.6" y="318.6" width="117.4" height="2.6" fill="url(#fr43)"/>
<rect x="462.6" y="320.6" width="117.4" height="2.6" fill="url(#fr44)"/>
<rect x="462.6" y="322.6" width="117.4" height="2.6" fill="url(#fr45)"/>
<rect x="462.6" y="324.6" width="117.4" height="2.6" fill="url(#fr46)"/>
<rect x="462.6" y="326.6" width="117.4" height="2.6" fill="url(#fr47)"/>
<rect x="462.6" y="328.6" width="117.4" height="2.6" fill="url(#fr48)"/>
<rect x="462.6" y="330.6" width="117.4" height="2.6" fill="url(#fr49)"/>
<rect x="462.6" y="332.6" width="117.4" height="2.6" fill="url(#fr50)"/>
<rect x="462.6" y="334.6" width="117.4" height="2.6" fill="url(#fr51)"/>
<rect x="462.6" y="336.6" width="117.4" height="2.6" fill="url(#fr52)"/>
<rect x="462.6" y="338.6" width="117.4" height="2.6" fill="url(#fr53)"/>
<rect x="462.6" y="340.6" width="117.4" height="2.6" fill="url(#fr54)"/>
<rect x="462.6" y="342.6" width="117.4" height="2.6" fill="url(#fr55)"/>
<rect x="462.6" y="344.6" width="117.4" height="2.6" fill="url(#fr56)"/>
<rect x="462.6" y="346.6" width="117.4" height="2.6" fill="url(#fr57)"/>
<rect x="462.6" y="348.6" width="117.4" height="2.6" fill="url(#fr58)"/>
<rect x="462.6" y="350.6" width="117.4" height="2.6" fill="url(#fr59)"/>
<rect x="462.6" y="352.6" width="117.4" height="2.6" fill="url(#fr60)"/>
<rect x="462.6" y="354.6" width="117.4" height="2.6" fill="url(#fr61)"/>
<rect x="462.6" y="356.6" width="117.4" height="2.6" fill="url(#fr62)"/>
<rect x="462.6" y="358.6" width="117.4" height="2.6" fill="url(#fr63)"/>
<rect x="462.6" y="360.6" width="117.4" height="2.6" fill="url(#fr64)"/>
<rect x="462.6" y="362.6" width="117.4" height="2.6" fill="url(#fr65)"/>
<rect x="462.6" y="364.6" width="117.4" height="2.6" fill="url(#fr66)"/>
<rect x="462.6" y="366.6" width="117.4" height="2.6" fill="url(#fr67)"/>
<rect x="462.6" y="368.6" width="117.4" height="2.6" fill="url(#fr68)"/>
<rect x="462.6" y="370.6" width="117.4" height="2.6" fill="url(#fr69)"/>
<rect x="462.6" y="372.6" width="117.4" height="2.6" fill="url(#fr70)"/>
<rect x="462.6" y="374.6" width="117.4" height="2.6" fill="url(#fr71)"/>
<rect x="462.6" y="376.6" width="117.4" height="2.6" fill="url(#fr72)"/>
<rect x="462.6" y="378.6" width="117.4" height="2.6" fill="url(#fr73)"/>
<rect x="462.6" y="380.6" width="117.4" height="2.6" fill="url(#fr74)"/>
<rect x="462.6" y="382.6" width="117.4" height="2.6" fill="url(#fr75)"/>
<rect x="462.6" y="384.6" width="117.4" height="2.6" fill="url(#fr76)"/>
<rect x="462.6" y="386.6" width="117.4" height="2.6" fill="url(#fr77)"/>
<rect x="462.6" y="388.6" width="117.4" height="2.6" fill="url(#fr78)"/>
<rect x="462.6" y="390.6" width="117.4" height="2.6" fill="url(#fr79)"/>
<rect x="462.6" y="392.6" width="117.4" height="2.6" fill="url(#fr80)"/>
<rect x="462.6" y="394.6" width="117.4" height="2.6" fill="url(#fr81)"/>
<rect x="462.6" y="396.6" width="117.4" height="2.6" fill="url(#fr82)"/>
<rect x="462.6" y="398.6" width="117.4" height="2.6" fill="url(#fr83)"/>
<rect x="462.6" y="400.6" width="117.4" height="2.6" fill="url(#fr84)"/>
<rect x="462.6" y="402.6" width="117.4" height="2.6" fill="url(#fr85)"/>
<rect x="462.6" y="404.6" width="117.4" height="2.6" fill="url(#fr86)"/>
<rect x="462.6" y="406.6" width="117.4" height="1.6" fill="url(#fr87)"/>
<rect x="462.6" y="232.6" width="117.4" height="175.6" fill="none" stroke="#161616" stroke-width="1.2"/>
<line x1="459.4" y1="408.21" x2="462.6" y2="408.21" stroke="#161616" stroke-width="1.1"/>
<text x="456.1" y="412.01" font-size="10.2" text-anchor="end" fill="#161616" stroke="#161616" stroke-width="0.15" textLength="19.3" lengthAdjust="spacingAndGlyphs">0.37</text>
<line x1="460.6" y1="378.98" x2="462.6" y2="378.98" stroke="#161616" stroke-width="1.1"/>
<line x1="459.4" y1="349.74" x2="462.6" y2="349.74" stroke="#161616" stroke-width="1.1"/>
<text x="456.1" y="353.54" font-size="10.2" text-anchor="end" fill="#161616" stroke="#161616" stroke-width="0.15" textLength="19.3" lengthAdjust="spacingAndGlyphs">0.38</text>
<line x1="460.6" y1="320.51" x2="462.6" y2="320.51" stroke="#161616" stroke-width="1.1"/>
<line x1="459.4" y1="291.27" x2="462.6" y2="291.27" stroke="#161616" stroke-width="1.1"/>
<text x="456.1" y="295.07" font-size="10.2" text-anchor="end" fill="#161616" stroke="#161616" stroke-width="0.15" textLength="19.3" lengthAdjust="spacingAndGlyphs">0.39</text>
<line x1="460.6" y1="262.04" x2="462.6" y2="262.04" stroke="#161616" stroke-width="1.1"/>
<line x1="459.4" y1="232.8" x2="462.6" y2="232.8" stroke="#161616" stroke-width="1.1"/>
<text x="456.1" y="236.6" font-size="10.2" text-anchor="end" fill="#161616" stroke="#161616" stroke-width="0.15" textLength="19.3" lengthAdjust="spacingAndGlyphs">0.40</text>
<line x1="480" y1="408.2" x2="480" y2="410.2" stroke="#161616" stroke-width="1.1"/>
<line x1="507.5" y1="408.2" x2="507.5" y2="411.6" stroke="#161616" stroke-width="1.1"/>
<text x="507.5" y="423.8" font-size="10.2" text-anchor="middle" fill="#161616" stroke="#161616" stroke-width="0.15" textLength="19.3" lengthAdjust="spacingAndGlyphs">0.34</text>
<line x1="535" y1="408.2" x2="535" y2="410.2" stroke="#161616" stroke-width="1.1"/>
<line x1="562.5" y1="408.2" x2="562.5" y2="411.6" stroke="#161616" stroke-width="1.1"/>
<text x="562.5" y="423.8" font-size="10.2" text-anchor="middle" fill="#161616" stroke="#161616" stroke-width="0.15" textLength="19.3" lengthAdjust="spacingAndGlyphs">0.35</text>
<text x="520.8" y="440.2" font-size="13" text-anchor="middle" fill="#161616" stroke="#161616" stroke-width="0.15" textLength="134.6" lengthAdjust="spacingAndGlyphs">x-chromaticity coordinate</text>
<text x="426.4" y="320.4" font-size="13" text-anchor="middle" fill="#161616" stroke="#161616" stroke-width="0.15" textLength="135" lengthAdjust="spacingAndGlyphs" transform="rotate(-90 426.4 320.4)">y-chromaticity coordinate</text>
<text x="399.2" y="235.4" font-size="13.3" text-anchor="start" fill="#161616" stroke="#161616" stroke-width="0.15">(f)</text>
<circle cx="495.9" cy="347.2" r="2.25" fill="url(#gDot)"/>
<circle cx="497.6" cy="341.5" r="2.25" fill="url(#gDot)"/>
<circle cx="499.6" cy="336.2" r="2.25" fill="url(#gDot)"/>
<circle cx="502.9" cy="329.3" r="2.25" fill="url(#gDot)"/>
<circle cx="507" cy="323.5" r="2.25" fill="url(#gDot)"/>
<circle cx="512.3" cy="315.8" r="2.25" fill="url(#gDot)"/>
<circle cx="519.6" cy="307.6" r="2.25" fill="url(#gDot)"/>
<circle cx="527.4" cy="298.2" r="2.25" fill="url(#gDot)"/>
<circle cx="536.4" cy="290.5" r="2.25" fill="url(#gDot)"/>
<line x1="481.6" y1="339.9" x2="520.8" y2="285.6" stroke="#111" stroke-width="1.15"/>
<path d="M524.4,279.6 L515.6,284.4 L520.4,285.2 L521.6,289.6 Z" fill="#111"/>
<text x="555.6" y="258.6" font-size="9.4" text-anchor="middle" fill="#c8405e" stroke="#c8405e" stroke-width="0.15" textLength="24.3" lengthAdjust="spacingAndGlyphs">90 mA</text>
<text x="555.2" y="268.6" font-size="9.4" text-anchor="middle" fill="#c8405e" stroke="#c8405e" stroke-width="0.15" textLength="41" lengthAdjust="spacingAndGlyphs">(0.35,0.39)</text>
<text x="555.2" y="278.6" font-size="9.4" text-anchor="middle" fill="#c8405e" stroke="#c8405e" stroke-width="0.15" textLength="25.5" lengthAdjust="spacingAndGlyphs">5099 K</text>
<text x="485.6" y="367.6" font-size="9.4" text-anchor="middle" fill="#c8405e" stroke="#c8405e" stroke-width="0.15" textLength="23.5" lengthAdjust="spacingAndGlyphs">10 mA</text>
<text x="485.5" y="376.8" font-size="9.4" text-anchor="middle" fill="#c8405e" stroke="#c8405e" stroke-width="0.15" textLength="40.8" lengthAdjust="spacingAndGlyphs">(0.34,0.38)</text>
<text x="485.6" y="386.3" font-size="9.4" text-anchor="middle" fill="#c8405e" stroke="#c8405e" stroke-width="0.15" textLength="23.5" lengthAdjust="spacingAndGlyphs">5318 K</text>
<g opacity="0.85">
<rect x="494" y="414" width="26" height="16" fill="#ffffff" opacity="0.55"/>
<circle cx="503.5" cy="421.5" r="6.2" fill="none" stroke="#d6d6d6" stroke-width="1.6"/>
<text x="499.5" y="429" font-size="5.5" fill="#d0d0d0">du</text>
<path d="M515,418 h10 M520,416 v13 M516,424 h9 M517,421 l-2,6 M523,421 l3,6" fill="none" stroke="#d4d4d4" stroke-width="1.5"/>
<path d="M530,417 h11 M535,416 v5 M531,421 h10 v7 h-10 z M531,424.5 h10" fill="none" stroke="#d4d4d4" stroke-width="1.5"/>
<path d="M546,418 h10 M545,423 h12 M546,428.5 h11 M551,418 v10.5" fill="none" stroke="#d4d4d4" stroke-width="1.5"/>
<path d="M561,417 v12 M561,417 h11 v12 M564,420 h5 M564,423 h5 M564,426 h5 M566.5,417 v12" fill="none" stroke="#d4d4d4" stroke-width="1.5"/>
<path d="M575,417 h12 M581,417 v12 M576,421 h10 v7 h-10 z M576,424.5 h10" fill="none" stroke="#d4d4d4" stroke-width="1.5"/>
</g></svg>
</body></html>
